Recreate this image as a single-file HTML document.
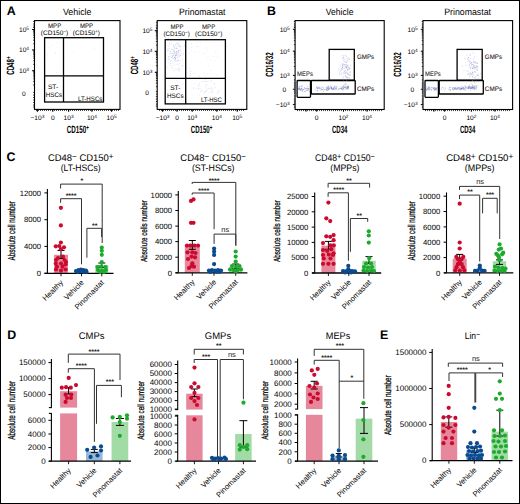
<!DOCTYPE html>
<html><head><meta charset="utf-8"><style>
html,body{margin:0;padding:0;background:#fff;}
body{width:520px;height:504px;overflow:hidden;position:relative;}
svg{position:absolute;left:0;top:0;font-family:"Liberation Sans", sans-serif;}
</style></head><body>
<svg width="520" height="504" viewBox="0 0 520 504" text-rendering="geometricPrecision">
<rect x="0" y="0" width="520" height="504" fill="#fff"/>
<text x="6.8" y="14.7" font-size="12.4" text-anchor="start" font-weight="bold" fill="#000" >A</text>
<text x="267" y="14.8" font-size="12.4" text-anchor="start" font-weight="bold" fill="#000" >B</text>
<text x="6.4" y="160.6" font-size="12.4" text-anchor="start" font-weight="bold" fill="#000" >C</text>
<text x="7.2" y="339.3" font-size="12.4" text-anchor="start" font-weight="bold" fill="#000" >D</text>
<text x="380" y="339.3" font-size="12.4" text-anchor="start" font-weight="bold" fill="#000" >E</text>
<text x="77.2" y="15" font-size="9.2" text-anchor="middle" font-weight="normal" fill="#000" textLength="28.5" lengthAdjust="spacingAndGlyphs" >Vehicle</text>
<text x="202.2" y="15.3" font-size="9.2" text-anchor="middle" font-weight="normal" fill="#000" textLength="46.4" lengthAdjust="spacingAndGlyphs" >Prinomastat</text>
<text x="339.6" y="15" font-size="9.2" text-anchor="middle" font-weight="normal" fill="#000" textLength="27.6" lengthAdjust="spacingAndGlyphs" >Vehicle</text>
<text x="467.6" y="15.3" font-size="9.2" text-anchor="middle" font-weight="normal" fill="#000" textLength="46.9" lengthAdjust="spacingAndGlyphs" >Prinomastat</text>
<rect x="34.5" y="20.6" width="85.5" height="88.80000000000001" fill="none" stroke="#000" stroke-width="1.1" rx="0" />
<line x1="32.1" y1="29.5" x2="34.5" y2="29.5" stroke="#000" stroke-width="1.1" />
<text x="29.0" y="31.8" font-size="6.6" text-anchor="end" font-weight="normal" fill="#000" >10<tspan baseline-shift="42%" font-size="0.72em">5</tspan></text>
<line x1="32.1" y1="50.0" x2="34.5" y2="50.0" stroke="#000" stroke-width="1.1" />
<text x="29.0" y="52.3" font-size="6.6" text-anchor="end" font-weight="normal" fill="#000" >10<tspan baseline-shift="42%" font-size="0.72em">4</tspan></text>
<line x1="32.1" y1="70.7" x2="34.5" y2="70.7" stroke="#000" stroke-width="1.1" />
<text x="29.0" y="73.0" font-size="6.6" text-anchor="end" font-weight="normal" fill="#000" >10<tspan baseline-shift="42%" font-size="0.72em">3</tspan></text>
<text x="25.6" y="95.8" font-size="6.6" text-anchor="end" font-weight="normal" fill="#000" >0</text>
<line x1="33.2" y1="43.828885088888384" x2="34.5" y2="43.828885088888384" stroke="#000" stroke-width="0.8" />
<line x1="33.2" y1="40.219014278246924" x2="34.5" y2="40.219014278246924" stroke="#000" stroke-width="0.8" />
<line x1="33.2" y1="37.65777017777677" x2="34.5" y2="37.65777017777677" stroke="#000" stroke-width="0.8" />
<line x1="33.2" y1="35.671114911111616" x2="34.5" y2="35.671114911111616" stroke="#000" stroke-width="0.8" />
<line x1="33.2" y1="34.04789936713531" x2="34.5" y2="34.04789936713531" stroke="#000" stroke-width="0.8" />
<line x1="33.2" y1="32.67549017970774" x2="34.5" y2="32.67549017970774" stroke="#000" stroke-width="0.8" />
<line x1="33.2" y1="31.486655266665156" x2="34.5" y2="31.486655266665156" stroke="#000" stroke-width="0.8" />
<line x1="33.2" y1="30.43802855649384" x2="34.5" y2="30.43802855649384" stroke="#000" stroke-width="0.8" />
<line x1="33.2" y1="64.32888508888838" x2="34.5" y2="64.32888508888838" stroke="#000" stroke-width="0.8" />
<line x1="33.2" y1="60.719014278246924" x2="34.5" y2="60.719014278246924" stroke="#000" stroke-width="0.8" />
<line x1="33.2" y1="58.15777017777677" x2="34.5" y2="58.15777017777677" stroke="#000" stroke-width="0.8" />
<line x1="33.2" y1="56.171114911111616" x2="34.5" y2="56.171114911111616" stroke="#000" stroke-width="0.8" />
<line x1="33.2" y1="54.54789936713531" x2="34.5" y2="54.54789936713531" stroke="#000" stroke-width="0.8" />
<line x1="33.2" y1="53.17549017970774" x2="34.5" y2="53.17549017970774" stroke="#000" stroke-width="0.8" />
<line x1="33.2" y1="51.98665526666516" x2="34.5" y2="51.98665526666516" stroke="#000" stroke-width="0.8" />
<line x1="33.2" y1="50.93802855649384" x2="34.5" y2="50.93802855649384" stroke="#000" stroke-width="0.8" />
<line x1="33.2" y1="85.02888508888839" x2="34.5" y2="85.02888508888839" stroke="#000" stroke-width="0.8" />
<line x1="33.2" y1="81.41901427824692" x2="34.5" y2="81.41901427824692" stroke="#000" stroke-width="0.8" />
<line x1="33.2" y1="78.85777017777677" x2="34.5" y2="78.85777017777677" stroke="#000" stroke-width="0.8" />
<line x1="33.2" y1="76.87111491111162" x2="34.5" y2="76.87111491111162" stroke="#000" stroke-width="0.8" />
<line x1="33.2" y1="75.2478993671353" x2="34.5" y2="75.2478993671353" stroke="#000" stroke-width="0.8" />
<line x1="33.2" y1="73.87549017970774" x2="34.5" y2="73.87549017970774" stroke="#000" stroke-width="0.8" />
<line x1="33.2" y1="72.68665526666516" x2="34.5" y2="72.68665526666516" stroke="#000" stroke-width="0.8" />
<line x1="33.2" y1="71.63802855649384" x2="34.5" y2="71.63802855649384" stroke="#000" stroke-width="0.8" />
<line x1="33.2" y1="21.5" x2="34.5" y2="21.5" stroke="#000" stroke-width="0.8" />
<line x1="33.2" y1="24.0" x2="34.5" y2="24.0" stroke="#000" stroke-width="0.8" />
<line x1="33.2" y1="26.0" x2="34.5" y2="26.0" stroke="#000" stroke-width="0.8" />
<line x1="33.2" y1="27.5" x2="34.5" y2="27.5" stroke="#000" stroke-width="0.8" />
<line x1="33.2" y1="92.5" x2="34.5" y2="92.5" stroke="#000" stroke-width="0.8" />
<line x1="33.2" y1="95.0" x2="34.5" y2="95.0" stroke="#000" stroke-width="0.8" />
<line x1="33.2" y1="97.5" x2="34.5" y2="97.5" stroke="#000" stroke-width="0.8" />
<line x1="33.2" y1="100.0" x2="34.5" y2="100.0" stroke="#000" stroke-width="0.8" />
<line x1="33.2" y1="102.5" x2="34.5" y2="102.5" stroke="#000" stroke-width="0.8" />
<line x1="33.2" y1="105.0" x2="34.5" y2="105.0" stroke="#000" stroke-width="0.8" />
<line x1="33.2" y1="107.0" x2="34.5" y2="107.0" stroke="#000" stroke-width="0.8" />
<line x1="37.4" y1="109.4" x2="37.4" y2="111.80000000000001" stroke="#000" stroke-width="1.1" />
<text x="37.4" y="119.5" font-size="6.6" text-anchor="middle" font-weight="normal" fill="#000" >−10<tspan baseline-shift="42%" font-size="0.72em">3</tspan></text>
<line x1="52.8" y1="109.4" x2="52.8" y2="111.80000000000001" stroke="#000" stroke-width="1.1" />
<text x="52.8" y="119.5" font-size="6.6" text-anchor="middle" font-weight="normal" fill="#000" >0</text>
<line x1="68.6" y1="109.4" x2="68.6" y2="111.80000000000001" stroke="#000" stroke-width="1.1" />
<text x="68.6" y="119.5" font-size="6.6" text-anchor="middle" font-weight="normal" fill="#000" >10<tspan baseline-shift="42%" font-size="0.72em">3</tspan></text>
<line x1="91.9" y1="109.4" x2="91.9" y2="111.80000000000001" stroke="#000" stroke-width="1.1" />
<text x="91.9" y="119.5" font-size="6.6" text-anchor="middle" font-weight="normal" fill="#000" >10<tspan baseline-shift="42%" font-size="0.72em">4</tspan></text>
<line x1="111.6" y1="109.4" x2="111.6" y2="111.80000000000001" stroke="#000" stroke-width="1.1" />
<text x="111.6" y="119.5" font-size="6.6" text-anchor="middle" font-weight="normal" fill="#000" >10<tspan baseline-shift="42%" font-size="0.72em">5</tspan></text>
<line x1="36.5" y1="109.4" x2="36.5" y2="111.0" stroke="#000" stroke-width="0.7" />
<line x1="38.5" y1="109.4" x2="38.5" y2="111.0" stroke="#000" stroke-width="0.7" />
<line x1="40.5" y1="109.4" x2="40.5" y2="111.0" stroke="#000" stroke-width="0.7" />
<line x1="42.5" y1="109.4" x2="42.5" y2="111.0" stroke="#000" stroke-width="0.7" />
<line x1="44.5" y1="109.4" x2="44.5" y2="111.0" stroke="#000" stroke-width="0.7" />
<line x1="46.5" y1="109.4" x2="46.5" y2="111.0" stroke="#000" stroke-width="0.7" />
<line x1="48.5" y1="109.4" x2="48.5" y2="111.0" stroke="#000" stroke-width="0.7" />
<line x1="50.5" y1="109.4" x2="50.5" y2="111.0" stroke="#000" stroke-width="0.7" />
<line x1="52.5" y1="109.4" x2="52.5" y2="111.0" stroke="#000" stroke-width="0.7" />
<line x1="54.5" y1="109.4" x2="54.5" y2="111.0" stroke="#000" stroke-width="0.7" />
<line x1="56.5" y1="109.4" x2="56.5" y2="111.0" stroke="#000" stroke-width="0.7" />
<line x1="58.5" y1="109.4" x2="58.5" y2="111.0" stroke="#000" stroke-width="0.7" />
<line x1="60.5" y1="109.4" x2="60.5" y2="111.0" stroke="#000" stroke-width="0.7" />
<line x1="62.5" y1="109.4" x2="62.5" y2="111.0" stroke="#000" stroke-width="0.7" />
<line x1="64.5" y1="109.4" x2="64.5" y2="111.0" stroke="#000" stroke-width="0.7" />
<line x1="66.5" y1="109.4" x2="66.5" y2="111.0" stroke="#000" stroke-width="0.7" />
<line x1="68.5" y1="109.4" x2="68.5" y2="111.0" stroke="#000" stroke-width="0.7" />
<line x1="70.5" y1="109.4" x2="70.5" y2="111.0" stroke="#000" stroke-width="0.7" />
<line x1="72.5" y1="109.4" x2="72.5" y2="111.0" stroke="#000" stroke-width="0.7" />
<line x1="74.5" y1="109.4" x2="74.5" y2="111.0" stroke="#000" stroke-width="0.7" />
<line x1="76.5" y1="109.4" x2="76.5" y2="111.0" stroke="#000" stroke-width="0.7" />
<line x1="78.5" y1="109.4" x2="78.5" y2="111.0" stroke="#000" stroke-width="0.7" />
<line x1="80.5" y1="109.4" x2="80.5" y2="111.0" stroke="#000" stroke-width="0.7" />
<line x1="82.5" y1="109.4" x2="82.5" y2="111.0" stroke="#000" stroke-width="0.7" />
<line x1="84.5" y1="109.4" x2="84.5" y2="111.0" stroke="#000" stroke-width="0.7" />
<line x1="86.5" y1="109.4" x2="86.5" y2="111.0" stroke="#000" stroke-width="0.7" />
<line x1="88.5" y1="109.4" x2="88.5" y2="111.0" stroke="#000" stroke-width="0.7" />
<line x1="90.5" y1="109.4" x2="90.5" y2="111.0" stroke="#000" stroke-width="0.7" />
<line x1="92.5" y1="109.4" x2="92.5" y2="111.0" stroke="#000" stroke-width="0.7" />
<line x1="94.5" y1="109.4" x2="94.5" y2="111.0" stroke="#000" stroke-width="0.7" />
<line x1="96.5" y1="109.4" x2="96.5" y2="111.0" stroke="#000" stroke-width="0.7" />
<line x1="98.5" y1="109.4" x2="98.5" y2="111.0" stroke="#000" stroke-width="0.7" />
<line x1="100.5" y1="109.4" x2="100.5" y2="111.0" stroke="#000" stroke-width="0.7" />
<line x1="102.5" y1="109.4" x2="102.5" y2="111.0" stroke="#000" stroke-width="0.7" />
<line x1="104.5" y1="109.4" x2="104.5" y2="111.0" stroke="#000" stroke-width="0.7" />
<line x1="106.5" y1="109.4" x2="106.5" y2="111.0" stroke="#000" stroke-width="0.7" />
<line x1="108.5" y1="109.4" x2="108.5" y2="111.0" stroke="#000" stroke-width="0.7" />
<line x1="110.5" y1="109.4" x2="110.5" y2="111.0" stroke="#000" stroke-width="0.7" />
<line x1="112.5" y1="109.4" x2="112.5" y2="111.0" stroke="#000" stroke-width="0.7" />
<line x1="114.5" y1="109.4" x2="114.5" y2="111.0" stroke="#000" stroke-width="0.7" />
<line x1="116.5" y1="109.4" x2="116.5" y2="111.0" stroke="#000" stroke-width="0.7" />
<line x1="118.5" y1="109.4" x2="118.5" y2="111.0" stroke="#000" stroke-width="0.7" />
<rect x="44.6" y="37.7" width="58.9" height="64.3" fill="none" stroke="#000" stroke-width="1.3" rx="0" />
<line x1="63.5" y1="37.7" x2="63.5" y2="102" stroke="#000" stroke-width="1.3" />
<line x1="44.6" y1="75.8" x2="103.5" y2="75.8" stroke="#000" stroke-width="1.3" />
<text x="54.6" y="27.6" font-size="6.6" text-anchor="middle" font-weight="normal" fill="#000" textLength="13.2" lengthAdjust="spacingAndGlyphs" >MPP</text>
<text x="54.5" y="34.6" font-size="6.6" text-anchor="middle" font-weight="normal" fill="#000" textLength="27.4" lengthAdjust="spacingAndGlyphs" >(CD150<tspan baseline-shift="42%" font-size="0.72em">−</tspan>)</text>
<text x="86.5" y="27.6" font-size="6.6" text-anchor="middle" font-weight="normal" fill="#000" textLength="13.2" lengthAdjust="spacingAndGlyphs" >MPP</text>
<text x="86.4" y="34.6" font-size="6.6" text-anchor="middle" font-weight="normal" fill="#000" textLength="27.1" lengthAdjust="spacingAndGlyphs" >(CD150<tspan baseline-shift="42%" font-size="0.72em">+</tspan>)</text>
<text x="53.1" y="89.3" font-size="6.6" text-anchor="middle" font-weight="normal" fill="#000" >ST-</text>
<text x="53.9" y="97.3" font-size="6.6" text-anchor="middle" font-weight="normal" fill="#000" textLength="16.4" lengthAdjust="spacingAndGlyphs" >HSCs</text>
<text x="90.2" y="101" font-size="6.6" text-anchor="middle" font-weight="normal" fill="#000" textLength="24.5" lengthAdjust="spacingAndGlyphs" >LT-HSCs</text>
<text x="77.8" y="132.5" font-size="10.5" text-anchor="middle" font-weight="bold" fill="#000" textLength="22" lengthAdjust="spacingAndGlyphs" >CD150<tspan baseline-shift="42%" font-size="0.72em">+</tspan></text>
<text x="13.9" y="65.6" font-size="10.5" text-anchor="middle" font-weight="bold" fill="#000" textLength="18.2" lengthAdjust="spacingAndGlyphs" transform="rotate(-90 13.9 65.6)" >CD48<tspan baseline-shift="42%" font-size="0.72em">+</tspan></text>
<rect x="157.2" y="20.6" width="89.60000000000002" height="88.80000000000001" fill="none" stroke="#000" stroke-width="1.1" rx="0" />
<line x1="154.79999999999998" y1="30.7" x2="157.2" y2="30.7" stroke="#000" stroke-width="1.1" />
<text x="152.4" y="33.0" font-size="6.6" text-anchor="end" font-weight="normal" fill="#000" >10<tspan baseline-shift="42%" font-size="0.72em">5</tspan></text>
<line x1="154.79999999999998" y1="51.3" x2="157.2" y2="51.3" stroke="#000" stroke-width="1.1" />
<text x="152.4" y="53.599999999999994" font-size="6.6" text-anchor="end" font-weight="normal" fill="#000" >10<tspan baseline-shift="42%" font-size="0.72em">4</tspan></text>
<line x1="154.79999999999998" y1="72.3" x2="157.2" y2="72.3" stroke="#000" stroke-width="1.1" />
<text x="152.4" y="74.6" font-size="6.6" text-anchor="end" font-weight="normal" fill="#000" >10<tspan baseline-shift="42%" font-size="0.72em">3</tspan></text>
<text x="149.0" y="94.89999999999999" font-size="6.6" text-anchor="end" font-weight="normal" fill="#000" >0</text>
<line x1="155.89999999999998" y1="45.098782089321986" x2="157.2" y2="45.098782089321986" stroke="#000" stroke-width="0.8" />
<line x1="155.89999999999998" y1="41.47130215277495" x2="157.2" y2="41.47130215277495" stroke="#000" stroke-width="0.8" />
<line x1="155.89999999999998" y1="38.897564178643975" x2="157.2" y2="38.897564178643975" stroke="#000" stroke-width="0.8" />
<line x1="155.89999999999998" y1="36.901217910678014" x2="157.2" y2="36.901217910678014" stroke="#000" stroke-width="0.8" />
<line x1="155.89999999999998" y1="35.27008424209694" x2="157.2" y2="35.27008424209694" stroke="#000" stroke-width="0.8" />
<line x1="155.89999999999998" y1="33.890980375706306" x2="157.2" y2="33.890980375706306" stroke="#000" stroke-width="0.8" />
<line x1="155.89999999999998" y1="32.696346267965964" x2="157.2" y2="32.696346267965964" stroke="#000" stroke-width="0.8" />
<line x1="155.89999999999998" y1="31.642604305549906" x2="157.2" y2="31.642604305549906" stroke="#000" stroke-width="0.8" />
<line x1="155.89999999999998" y1="65.69878208932198" x2="157.2" y2="65.69878208932198" stroke="#000" stroke-width="0.8" />
<line x1="155.89999999999998" y1="62.07130215277495" x2="157.2" y2="62.07130215277495" stroke="#000" stroke-width="0.8" />
<line x1="155.89999999999998" y1="59.49756417864397" x2="157.2" y2="59.49756417864397" stroke="#000" stroke-width="0.8" />
<line x1="155.89999999999998" y1="57.50121791067801" x2="157.2" y2="57.50121791067801" stroke="#000" stroke-width="0.8" />
<line x1="155.89999999999998" y1="55.87008424209694" x2="157.2" y2="55.87008424209694" stroke="#000" stroke-width="0.8" />
<line x1="155.89999999999998" y1="54.49098037570631" x2="157.2" y2="54.49098037570631" stroke="#000" stroke-width="0.8" />
<line x1="155.89999999999998" y1="53.29634626796596" x2="157.2" y2="53.29634626796596" stroke="#000" stroke-width="0.8" />
<line x1="155.89999999999998" y1="52.242604305549904" x2="157.2" y2="52.242604305549904" stroke="#000" stroke-width="0.8" />
<line x1="155.89999999999998" y1="86.69878208932198" x2="157.2" y2="86.69878208932198" stroke="#000" stroke-width="0.8" />
<line x1="155.89999999999998" y1="83.07130215277495" x2="157.2" y2="83.07130215277495" stroke="#000" stroke-width="0.8" />
<line x1="155.89999999999998" y1="80.49756417864397" x2="157.2" y2="80.49756417864397" stroke="#000" stroke-width="0.8" />
<line x1="155.89999999999998" y1="78.50121791067801" x2="157.2" y2="78.50121791067801" stroke="#000" stroke-width="0.8" />
<line x1="155.89999999999998" y1="76.87008424209694" x2="157.2" y2="76.87008424209694" stroke="#000" stroke-width="0.8" />
<line x1="155.89999999999998" y1="75.4909803757063" x2="157.2" y2="75.4909803757063" stroke="#000" stroke-width="0.8" />
<line x1="155.89999999999998" y1="74.29634626796596" x2="157.2" y2="74.29634626796596" stroke="#000" stroke-width="0.8" />
<line x1="155.89999999999998" y1="73.2426043055499" x2="157.2" y2="73.2426043055499" stroke="#000" stroke-width="0.8" />
<line x1="155.89999999999998" y1="22.7" x2="157.2" y2="22.7" stroke="#000" stroke-width="0.8" />
<line x1="155.89999999999998" y1="25.2" x2="157.2" y2="25.2" stroke="#000" stroke-width="0.8" />
<line x1="155.89999999999998" y1="27.2" x2="157.2" y2="27.2" stroke="#000" stroke-width="0.8" />
<line x1="155.89999999999998" y1="28.7" x2="157.2" y2="28.7" stroke="#000" stroke-width="0.8" />
<line x1="155.89999999999998" y1="91.6" x2="157.2" y2="91.6" stroke="#000" stroke-width="0.8" />
<line x1="155.89999999999998" y1="94.1" x2="157.2" y2="94.1" stroke="#000" stroke-width="0.8" />
<line x1="155.89999999999998" y1="96.6" x2="157.2" y2="96.6" stroke="#000" stroke-width="0.8" />
<line x1="155.89999999999998" y1="99.1" x2="157.2" y2="99.1" stroke="#000" stroke-width="0.8" />
<line x1="155.89999999999998" y1="101.6" x2="157.2" y2="101.6" stroke="#000" stroke-width="0.8" />
<line x1="155.89999999999998" y1="104.1" x2="157.2" y2="104.1" stroke="#000" stroke-width="0.8" />
<line x1="155.89999999999998" y1="106.1" x2="157.2" y2="106.1" stroke="#000" stroke-width="0.8" />
<line x1="162.6" y1="109.4" x2="162.6" y2="111.80000000000001" stroke="#000" stroke-width="1.1" />
<text x="162.6" y="119.5" font-size="6.6" text-anchor="middle" font-weight="normal" fill="#000" >−10<tspan baseline-shift="42%" font-size="0.72em">3</tspan></text>
<line x1="177.0" y1="109.4" x2="177.0" y2="111.80000000000001" stroke="#000" stroke-width="1.1" />
<text x="177.0" y="119.5" font-size="6.6" text-anchor="middle" font-weight="normal" fill="#000" >0</text>
<line x1="192.2" y1="109.4" x2="192.2" y2="111.80000000000001" stroke="#000" stroke-width="1.1" />
<text x="192.2" y="119.5" font-size="6.6" text-anchor="middle" font-weight="normal" fill="#000" >10<tspan baseline-shift="42%" font-size="0.72em">3</tspan></text>
<line x1="216.8" y1="109.4" x2="216.8" y2="111.80000000000001" stroke="#000" stroke-width="1.1" />
<text x="216.8" y="119.5" font-size="6.6" text-anchor="middle" font-weight="normal" fill="#000" >10<tspan baseline-shift="42%" font-size="0.72em">4</tspan></text>
<line x1="237.2" y1="109.4" x2="237.2" y2="111.80000000000001" stroke="#000" stroke-width="1.1" />
<text x="237.2" y="119.5" font-size="6.6" text-anchor="middle" font-weight="normal" fill="#000" >10<tspan baseline-shift="42%" font-size="0.72em">5</tspan></text>
<line x1="159.5" y1="109.4" x2="159.5" y2="111.0" stroke="#000" stroke-width="0.7" />
<line x1="161.5" y1="109.4" x2="161.5" y2="111.0" stroke="#000" stroke-width="0.7" />
<line x1="163.5" y1="109.4" x2="163.5" y2="111.0" stroke="#000" stroke-width="0.7" />
<line x1="165.5" y1="109.4" x2="165.5" y2="111.0" stroke="#000" stroke-width="0.7" />
<line x1="167.5" y1="109.4" x2="167.5" y2="111.0" stroke="#000" stroke-width="0.7" />
<line x1="169.5" y1="109.4" x2="169.5" y2="111.0" stroke="#000" stroke-width="0.7" />
<line x1="171.5" y1="109.4" x2="171.5" y2="111.0" stroke="#000" stroke-width="0.7" />
<line x1="173.5" y1="109.4" x2="173.5" y2="111.0" stroke="#000" stroke-width="0.7" />
<line x1="175.5" y1="109.4" x2="175.5" y2="111.0" stroke="#000" stroke-width="0.7" />
<line x1="177.5" y1="109.4" x2="177.5" y2="111.0" stroke="#000" stroke-width="0.7" />
<line x1="179.5" y1="109.4" x2="179.5" y2="111.0" stroke="#000" stroke-width="0.7" />
<line x1="181.5" y1="109.4" x2="181.5" y2="111.0" stroke="#000" stroke-width="0.7" />
<line x1="183.5" y1="109.4" x2="183.5" y2="111.0" stroke="#000" stroke-width="0.7" />
<line x1="185.5" y1="109.4" x2="185.5" y2="111.0" stroke="#000" stroke-width="0.7" />
<line x1="187.5" y1="109.4" x2="187.5" y2="111.0" stroke="#000" stroke-width="0.7" />
<line x1="189.5" y1="109.4" x2="189.5" y2="111.0" stroke="#000" stroke-width="0.7" />
<line x1="191.5" y1="109.4" x2="191.5" y2="111.0" stroke="#000" stroke-width="0.7" />
<line x1="193.5" y1="109.4" x2="193.5" y2="111.0" stroke="#000" stroke-width="0.7" />
<line x1="195.5" y1="109.4" x2="195.5" y2="111.0" stroke="#000" stroke-width="0.7" />
<line x1="197.5" y1="109.4" x2="197.5" y2="111.0" stroke="#000" stroke-width="0.7" />
<line x1="199.5" y1="109.4" x2="199.5" y2="111.0" stroke="#000" stroke-width="0.7" />
<line x1="201.5" y1="109.4" x2="201.5" y2="111.0" stroke="#000" stroke-width="0.7" />
<line x1="203.5" y1="109.4" x2="203.5" y2="111.0" stroke="#000" stroke-width="0.7" />
<line x1="205.5" y1="109.4" x2="205.5" y2="111.0" stroke="#000" stroke-width="0.7" />
<line x1="207.5" y1="109.4" x2="207.5" y2="111.0" stroke="#000" stroke-width="0.7" />
<line x1="209.5" y1="109.4" x2="209.5" y2="111.0" stroke="#000" stroke-width="0.7" />
<line x1="211.5" y1="109.4" x2="211.5" y2="111.0" stroke="#000" stroke-width="0.7" />
<line x1="213.5" y1="109.4" x2="213.5" y2="111.0" stroke="#000" stroke-width="0.7" />
<line x1="215.5" y1="109.4" x2="215.5" y2="111.0" stroke="#000" stroke-width="0.7" />
<line x1="217.5" y1="109.4" x2="217.5" y2="111.0" stroke="#000" stroke-width="0.7" />
<line x1="219.5" y1="109.4" x2="219.5" y2="111.0" stroke="#000" stroke-width="0.7" />
<line x1="221.5" y1="109.4" x2="221.5" y2="111.0" stroke="#000" stroke-width="0.7" />
<line x1="223.5" y1="109.4" x2="223.5" y2="111.0" stroke="#000" stroke-width="0.7" />
<line x1="225.5" y1="109.4" x2="225.5" y2="111.0" stroke="#000" stroke-width="0.7" />
<line x1="227.5" y1="109.4" x2="227.5" y2="111.0" stroke="#000" stroke-width="0.7" />
<line x1="229.5" y1="109.4" x2="229.5" y2="111.0" stroke="#000" stroke-width="0.7" />
<line x1="231.5" y1="109.4" x2="231.5" y2="111.0" stroke="#000" stroke-width="0.7" />
<line x1="233.5" y1="109.4" x2="233.5" y2="111.0" stroke="#000" stroke-width="0.7" />
<line x1="235.5" y1="109.4" x2="235.5" y2="111.0" stroke="#000" stroke-width="0.7" />
<line x1="237.5" y1="109.4" x2="237.5" y2="111.0" stroke="#000" stroke-width="0.7" />
<line x1="239.5" y1="109.4" x2="239.5" y2="111.0" stroke="#000" stroke-width="0.7" />
<line x1="241.5" y1="109.4" x2="241.5" y2="111.0" stroke="#000" stroke-width="0.7" />
<line x1="243.5" y1="109.4" x2="243.5" y2="111.0" stroke="#000" stroke-width="0.7" />
<rect x="165.2" y="39.7" width="60.2" height="64.2" fill="none" stroke="#000" stroke-width="1.3" rx="0" />
<line x1="185.7" y1="39.7" x2="185.7" y2="103.9" stroke="#000" stroke-width="1.3" />
<line x1="165.2" y1="78.4" x2="225.4" y2="78.4" stroke="#000" stroke-width="1.3" />
<text x="177.0" y="29.0" font-size="6.6" text-anchor="middle" font-weight="normal" fill="#000" textLength="13.2" lengthAdjust="spacingAndGlyphs" >MPP</text>
<text x="176.6" y="35.6" font-size="6.6" text-anchor="middle" font-weight="normal" fill="#000" textLength="26.4" lengthAdjust="spacingAndGlyphs" >(CD150<tspan baseline-shift="42%" font-size="0.72em">−</tspan>)</text>
<text x="208.6" y="29.0" font-size="6.6" text-anchor="middle" font-weight="normal" fill="#000" textLength="13.2" lengthAdjust="spacingAndGlyphs" >MPP</text>
<text x="208.7" y="35.6" font-size="6.6" text-anchor="middle" font-weight="normal" fill="#000" textLength="27.4" lengthAdjust="spacingAndGlyphs" >(CD150<tspan baseline-shift="42%" font-size="0.72em">+</tspan>)</text>
<text x="175.3" y="90" font-size="6.6" text-anchor="middle" font-weight="normal" fill="#000" >ST-</text>
<text x="175.3" y="97.7" font-size="6.6" text-anchor="middle" font-weight="normal" fill="#000" textLength="16.5" lengthAdjust="spacingAndGlyphs" >HSCs</text>
<text x="211.4" y="101.5" font-size="6.6" text-anchor="middle" font-weight="normal" fill="#000" textLength="21" lengthAdjust="spacingAndGlyphs" >LT-HSC</text>
<text x="201.5" y="132.5" font-size="10.5" text-anchor="middle" font-weight="bold" fill="#000" textLength="21.5" lengthAdjust="spacingAndGlyphs" >CD150<tspan baseline-shift="42%" font-size="0.72em">+</tspan></text>
<text x="137.8" y="65.3" font-size="10.5" text-anchor="middle" font-weight="bold" fill="#000" textLength="18" lengthAdjust="spacingAndGlyphs" transform="rotate(-90 137.8 65.3)" >CD48<tspan baseline-shift="42%" font-size="0.72em">+</tspan></text>
<circle cx="51.9" cy="45.1" r="0.45" fill="#8a8fd0" opacity="0.35"/>
<circle cx="56.8" cy="42.5" r="0.45" fill="#8a8fd0" opacity="0.35"/>
<circle cx="55.0" cy="52.4" r="0.45" fill="#8a8fd0" opacity="0.35"/>
<circle cx="47.9" cy="57.3" r="0.45" fill="#8a8fd0" opacity="0.35"/>
<circle cx="47.6" cy="54.7" r="0.45" fill="#8a8fd0" opacity="0.35"/>
<circle cx="48.0" cy="43.1" r="0.45" fill="#8a8fd0" opacity="0.35"/>
<circle cx="53.4" cy="68.1" r="0.45" fill="#8a8fd0" opacity="0.35"/>
<circle cx="48.9" cy="47.6" r="0.45" fill="#8a8fd0" opacity="0.35"/>
<circle cx="56.4" cy="72.2" r="0.45" fill="#8a8fd0" opacity="0.35"/>
<circle cx="55.7" cy="53.5" r="0.45" fill="#8a8fd0" opacity="0.35"/>
<circle cx="116.8" cy="47.6" r="0.45" fill="#8a8fd0" opacity="0.3"/>
<circle cx="110.6" cy="60.9" r="0.45" fill="#8a8fd0" opacity="0.3"/>
<circle cx="73.5" cy="51.5" r="0.45" fill="#8a8fd0" opacity="0.3"/>
<circle cx="82.0" cy="89.9" r="0.45" fill="#8a8fd0" opacity="0.3"/>
<circle cx="75.4" cy="77.0" r="0.45" fill="#8a8fd0" opacity="0.3"/>
<circle cx="99.2" cy="65.5" r="0.45" fill="#8a8fd0" opacity="0.3"/>
<circle cx="94.5" cy="48.5" r="0.45" fill="#8a8fd0" opacity="0.3"/>
<circle cx="69.1" cy="56.3" r="0.45" fill="#8a8fd0" opacity="0.3"/>
<circle cx="173.4" cy="46.7" r="0.45" fill="#7a82c8" opacity="0.55"/>
<circle cx="173.2" cy="58.7" r="0.45" fill="#7a82c8" opacity="0.55"/>
<circle cx="172.2" cy="53.3" r="0.45" fill="#7a82c8" opacity="0.55"/>
<circle cx="176.5" cy="43.8" r="0.45" fill="#7a82c8" opacity="0.55"/>
<circle cx="175.2" cy="59.2" r="0.45" fill="#7a82c8" opacity="0.55"/>
<circle cx="167.9" cy="50.2" r="0.45" fill="#7a82c8" opacity="0.55"/>
<circle cx="174.6" cy="47.5" r="0.45" fill="#7a82c8" opacity="0.55"/>
<circle cx="176.7" cy="51.7" r="0.45" fill="#7a82c8" opacity="0.55"/>
<circle cx="169.9" cy="56.6" r="0.45" fill="#7a82c8" opacity="0.55"/>
<circle cx="177.3" cy="57.2" r="0.45" fill="#7a82c8" opacity="0.55"/>
<circle cx="180.0" cy="54.0" r="0.45" fill="#7a82c8" opacity="0.55"/>
<circle cx="175.4" cy="44.9" r="0.45" fill="#7a82c8" opacity="0.55"/>
<circle cx="177.2" cy="48.6" r="0.45" fill="#7a82c8" opacity="0.55"/>
<circle cx="173.4" cy="45.0" r="0.45" fill="#7a82c8" opacity="0.55"/>
<circle cx="171.6" cy="49.1" r="0.45" fill="#7a82c8" opacity="0.55"/>
<circle cx="179.5" cy="40.8" r="0.45" fill="#7a82c8" opacity="0.55"/>
<circle cx="169.9" cy="53.3" r="0.45" fill="#7a82c8" opacity="0.55"/>
<circle cx="180.1" cy="55.2" r="0.45" fill="#7a82c8" opacity="0.55"/>
<circle cx="168.4" cy="38.1" r="0.45" fill="#7a82c8" opacity="0.55"/>
<circle cx="176.3" cy="48.0" r="0.45" fill="#7a82c8" opacity="0.55"/>
<circle cx="171.1" cy="57.4" r="0.45" fill="#7a82c8" opacity="0.55"/>
<circle cx="178.9" cy="52.9" r="0.45" fill="#7a82c8" opacity="0.55"/>
<circle cx="175.9" cy="54.4" r="0.45" fill="#7a82c8" opacity="0.55"/>
<circle cx="180.6" cy="55.4" r="0.45" fill="#7a82c8" opacity="0.55"/>
<circle cx="176.8" cy="55.0" r="0.45" fill="#7a82c8" opacity="0.55"/>
<circle cx="169.5" cy="59.0" r="0.45" fill="#7a82c8" opacity="0.55"/>
<circle cx="178.3" cy="54.9" r="0.45" fill="#7a82c8" opacity="0.55"/>
<circle cx="168.1" cy="48.5" r="0.45" fill="#7a82c8" opacity="0.55"/>
<circle cx="177.9" cy="42.0" r="0.45" fill="#7a82c8" opacity="0.55"/>
<circle cx="174.4" cy="57.6" r="0.45" fill="#7a82c8" opacity="0.55"/>
<circle cx="170.4" cy="60.9" r="0.45" fill="#7a82c8" opacity="0.55"/>
<circle cx="176.9" cy="51.2" r="0.45" fill="#7a82c8" opacity="0.55"/>
<circle cx="176.1" cy="55.6" r="0.45" fill="#7a82c8" opacity="0.55"/>
<circle cx="175.4" cy="58.3" r="0.45" fill="#7a82c8" opacity="0.55"/>
<circle cx="172.7" cy="49.7" r="0.45" fill="#7a82c8" opacity="0.55"/>
<circle cx="178.6" cy="52.1" r="0.45" fill="#7a82c8" opacity="0.55"/>
<circle cx="171.9" cy="57.2" r="0.45" fill="#7a82c8" opacity="0.55"/>
<circle cx="180.1" cy="49.6" r="0.45" fill="#7a82c8" opacity="0.55"/>
<circle cx="170.2" cy="51.3" r="0.45" fill="#7a82c8" opacity="0.55"/>
<circle cx="174.5" cy="50.4" r="0.45" fill="#7a82c8" opacity="0.55"/>
<circle cx="179.9" cy="46.4" r="0.45" fill="#7a82c8" opacity="0.55"/>
<circle cx="179.4" cy="45.0" r="0.45" fill="#7a82c8" opacity="0.55"/>
<circle cx="172.2" cy="55.5" r="0.45" fill="#7a82c8" opacity="0.55"/>
<circle cx="179.0" cy="56.7" r="0.45" fill="#7a82c8" opacity="0.55"/>
<circle cx="176.2" cy="52.8" r="0.45" fill="#7a82c8" opacity="0.55"/>
<circle cx="175.5" cy="55.2" r="0.45" fill="#7a82c8" opacity="0.55"/>
<circle cx="174.4" cy="53.5" r="0.45" fill="#7a82c8" opacity="0.55"/>
<circle cx="177.0" cy="52.0" r="0.45" fill="#7a82c8" opacity="0.55"/>
<circle cx="177.7" cy="55.1" r="0.45" fill="#7a82c8" opacity="0.55"/>
<circle cx="182.0" cy="53.8" r="0.45" fill="#7a82c8" opacity="0.55"/>
<circle cx="173.5" cy="50.0" r="0.45" fill="#7a82c8" opacity="0.55"/>
<circle cx="175.0" cy="57.1" r="0.45" fill="#7a82c8" opacity="0.55"/>
<circle cx="173.8" cy="54.1" r="0.45" fill="#7a82c8" opacity="0.55"/>
<circle cx="181.4" cy="37.9" r="0.45" fill="#7a82c8" opacity="0.55"/>
<circle cx="171.1" cy="53.3" r="0.45" fill="#7a82c8" opacity="0.55"/>
<circle cx="176.4" cy="53.3" r="0.45" fill="#7a82c8" opacity="0.55"/>
<circle cx="173.5" cy="55.6" r="0.45" fill="#7a82c8" opacity="0.55"/>
<circle cx="176.0" cy="49.1" r="0.45" fill="#7a82c8" opacity="0.55"/>
<circle cx="183.5" cy="54.0" r="0.45" fill="#7a82c8" opacity="0.55"/>
<circle cx="173.1" cy="51.5" r="0.45" fill="#7a82c8" opacity="0.55"/>
<circle cx="174.2" cy="51.7" r="0.45" fill="#7a82c8" opacity="0.55"/>
<circle cx="165.5" cy="49.3" r="0.45" fill="#7a82c8" opacity="0.55"/>
<circle cx="178.5" cy="45.6" r="0.45" fill="#7a82c8" opacity="0.55"/>
<circle cx="174.8" cy="57.2" r="0.45" fill="#7a82c8" opacity="0.55"/>
<circle cx="178.0" cy="60.2" r="0.45" fill="#7a82c8" opacity="0.55"/>
<circle cx="169.0" cy="50.1" r="0.45" fill="#7a82c8" opacity="0.55"/>
<circle cx="173.8" cy="55.4" r="0.45" fill="#7a82c8" opacity="0.55"/>
<circle cx="178.8" cy="37.2" r="0.45" fill="#7a82c8" opacity="0.55"/>
<circle cx="178.8" cy="44.0" r="0.45" fill="#7a82c8" opacity="0.55"/>
<circle cx="177.4" cy="43.8" r="0.45" fill="#7a82c8" opacity="0.55"/>
<circle cx="175.6" cy="58.6" r="0.45" fill="#7a82c8" opacity="0.55"/>
<circle cx="174.5" cy="53.1" r="0.45" fill="#7a82c8" opacity="0.55"/>
<circle cx="177.8" cy="52.8" r="0.45" fill="#7a82c8" opacity="0.55"/>
<circle cx="174.7" cy="60.4" r="0.45" fill="#7a82c8" opacity="0.55"/>
<circle cx="178.7" cy="50.4" r="0.45" fill="#7a82c8" opacity="0.55"/>
<circle cx="184.6" cy="45.7" r="0.45" fill="#7a82c8" opacity="0.55"/>
<circle cx="178.2" cy="50.5" r="0.45" fill="#7a82c8" opacity="0.55"/>
<circle cx="175.5" cy="55.9" r="0.45" fill="#7a82c8" opacity="0.55"/>
<circle cx="175.8" cy="55.5" r="0.45" fill="#7a82c8" opacity="0.55"/>
<circle cx="169.7" cy="43.7" r="0.45" fill="#7a82c8" opacity="0.55"/>
<circle cx="177.2" cy="46.7" r="0.45" fill="#7a82c8" opacity="0.55"/>
<circle cx="171.4" cy="43.9" r="0.45" fill="#7a82c8" opacity="0.55"/>
<circle cx="179.4" cy="56.1" r="0.45" fill="#7a82c8" opacity="0.55"/>
<circle cx="180.2" cy="46.8" r="0.45" fill="#7a82c8" opacity="0.55"/>
<circle cx="175.0" cy="45.7" r="0.45" fill="#7a82c8" opacity="0.55"/>
<circle cx="177.7" cy="60.7" r="0.45" fill="#7a82c8" opacity="0.55"/>
<circle cx="171.9" cy="60.6" r="0.45" fill="#7a82c8" opacity="0.55"/>
<circle cx="178.5" cy="51.0" r="0.45" fill="#7a82c8" opacity="0.55"/>
<circle cx="168.1" cy="59.7" r="0.45" fill="#7a82c8" opacity="0.55"/>
<circle cx="174.7" cy="48.7" r="0.45" fill="#7a82c8" opacity="0.55"/>
<circle cx="176.4" cy="54.3" r="0.45" fill="#7a82c8" opacity="0.55"/>
<circle cx="180.2" cy="46.4" r="0.45" fill="#7a82c8" opacity="0.55"/>
<circle cx="179.0" cy="60.2" r="0.45" fill="#7a82c8" opacity="0.55"/>
<circle cx="180.1" cy="51.0" r="0.45" fill="#7a82c8" opacity="0.55"/>
<circle cx="172.4" cy="57.6" r="0.45" fill="#7a82c8" opacity="0.55"/>
<circle cx="175.4" cy="52.7" r="0.45" fill="#7a82c8" opacity="0.55"/>
<circle cx="180.0" cy="50.6" r="0.45" fill="#7a82c8" opacity="0.55"/>
<circle cx="167.0" cy="49.9" r="0.45" fill="#7a82c8" opacity="0.55"/>
<circle cx="168.5" cy="56.5" r="0.45" fill="#7a82c8" opacity="0.55"/>
<circle cx="176.1" cy="48.6" r="0.45" fill="#7a82c8" opacity="0.55"/>
<circle cx="175.0" cy="56.6" r="0.45" fill="#7a82c8" opacity="0.55"/>
<circle cx="175.3" cy="59.3" r="0.45" fill="#7a82c8" opacity="0.55"/>
<circle cx="174.8" cy="57.7" r="0.45" fill="#7a82c8" opacity="0.55"/>
<circle cx="180.2" cy="60.9" r="0.45" fill="#7a82c8" opacity="0.55"/>
<circle cx="172.6" cy="56.8" r="0.45" fill="#7a82c8" opacity="0.55"/>
<circle cx="168.4" cy="46.0" r="0.45" fill="#7a82c8" opacity="0.55"/>
<circle cx="168.1" cy="57.9" r="0.45" fill="#7a82c8" opacity="0.55"/>
<circle cx="170.7" cy="51.9" r="0.45" fill="#7a82c8" opacity="0.55"/>
<circle cx="174.3" cy="51.8" r="0.45" fill="#7a82c8" opacity="0.55"/>
<circle cx="172.9" cy="53.3" r="0.45" fill="#7a82c8" opacity="0.55"/>
<circle cx="182.3" cy="66.2" r="0.45" fill="#8a8fd0" opacity="0.45"/>
<circle cx="177.9" cy="70.0" r="0.45" fill="#8a8fd0" opacity="0.45"/>
<circle cx="175.3" cy="61.0" r="0.45" fill="#8a8fd0" opacity="0.45"/>
<circle cx="174.1" cy="70.3" r="0.45" fill="#8a8fd0" opacity="0.45"/>
<circle cx="170.2" cy="63.6" r="0.45" fill="#8a8fd0" opacity="0.45"/>
<circle cx="179.5" cy="69.2" r="0.45" fill="#8a8fd0" opacity="0.45"/>
<circle cx="176.0" cy="69.2" r="0.45" fill="#8a8fd0" opacity="0.45"/>
<circle cx="176.6" cy="61.3" r="0.45" fill="#8a8fd0" opacity="0.45"/>
<circle cx="170.5" cy="63.4" r="0.45" fill="#8a8fd0" opacity="0.45"/>
<circle cx="179.2" cy="63.7" r="0.45" fill="#8a8fd0" opacity="0.45"/>
<circle cx="172.8" cy="62.9" r="0.45" fill="#8a8fd0" opacity="0.45"/>
<circle cx="170.6" cy="65.5" r="0.45" fill="#8a8fd0" opacity="0.45"/>
<circle cx="171.9" cy="67.5" r="0.45" fill="#8a8fd0" opacity="0.45"/>
<circle cx="167.7" cy="67.3" r="0.45" fill="#8a8fd0" opacity="0.45"/>
<circle cx="173.8" cy="58.2" r="0.45" fill="#8a8fd0" opacity="0.45"/>
<circle cx="178.5" cy="64.9" r="0.45" fill="#8a8fd0" opacity="0.45"/>
<circle cx="168.2" cy="62.5" r="0.45" fill="#8a8fd0" opacity="0.45"/>
<circle cx="177.0" cy="64.2" r="0.45" fill="#8a8fd0" opacity="0.45"/>
<circle cx="178.7" cy="69.0" r="0.45" fill="#8a8fd0" opacity="0.45"/>
<circle cx="178.3" cy="67.3" r="0.45" fill="#8a8fd0" opacity="0.45"/>
<circle cx="180.7" cy="68.6" r="0.45" fill="#8a8fd0" opacity="0.45"/>
<circle cx="177.6" cy="57.7" r="0.45" fill="#8a8fd0" opacity="0.45"/>
<circle cx="179.1" cy="71.2" r="0.45" fill="#8a8fd0" opacity="0.45"/>
<circle cx="175.0" cy="64.1" r="0.45" fill="#8a8fd0" opacity="0.45"/>
<circle cx="182.8" cy="59.0" r="0.45" fill="#8a8fd0" opacity="0.45"/>
<circle cx="177.6" cy="75.7" r="0.45" fill="#8a8fd0" opacity="0.45"/>
<circle cx="172.8" cy="68.8" r="0.45" fill="#8a8fd0" opacity="0.45"/>
<circle cx="182.6" cy="65.5" r="0.45" fill="#8a8fd0" opacity="0.45"/>
<circle cx="178.0" cy="69.6" r="0.45" fill="#8a8fd0" opacity="0.45"/>
<circle cx="172.8" cy="65.6" r="0.45" fill="#8a8fd0" opacity="0.45"/>
<circle cx="195.0" cy="52.8" r="0.45" fill="#8a8fd0" opacity="0.35"/>
<circle cx="214.0" cy="42.7" r="0.45" fill="#8a8fd0" opacity="0.35"/>
<circle cx="207.9" cy="57.0" r="0.45" fill="#8a8fd0" opacity="0.35"/>
<circle cx="188.7" cy="53.3" r="0.45" fill="#8a8fd0" opacity="0.35"/>
<circle cx="210.5" cy="59.4" r="0.45" fill="#8a8fd0" opacity="0.35"/>
<circle cx="190.3" cy="75.5" r="0.45" fill="#8a8fd0" opacity="0.35"/>
<circle cx="216.4" cy="75.0" r="0.45" fill="#8a8fd0" opacity="0.35"/>
<circle cx="191.8" cy="51.0" r="0.45" fill="#8a8fd0" opacity="0.35"/>
<circle cx="189.4" cy="68.5" r="0.45" fill="#8a8fd0" opacity="0.35"/>
<circle cx="197.7" cy="46.4" r="0.45" fill="#8a8fd0" opacity="0.35"/>
<circle cx="203.2" cy="73.0" r="0.45" fill="#8a8fd0" opacity="0.35"/>
<circle cx="217.5" cy="50.8" r="0.45" fill="#8a8fd0" opacity="0.35"/>
<circle cx="193.4" cy="73.3" r="0.45" fill="#8a8fd0" opacity="0.35"/>
<circle cx="208.5" cy="65.8" r="0.45" fill="#8a8fd0" opacity="0.35"/>
<circle cx="191.2" cy="44.0" r="0.45" fill="#8a8fd0" opacity="0.35"/>
<circle cx="212.8" cy="56.5" r="0.45" fill="#8a8fd0" opacity="0.35"/>
<circle cx="190.6" cy="73.9" r="0.45" fill="#8a8fd0" opacity="0.35"/>
<circle cx="210.8" cy="69.3" r="0.45" fill="#8a8fd0" opacity="0.35"/>
<circle cx="191.0" cy="71.1" r="0.45" fill="#8a8fd0" opacity="0.35"/>
<circle cx="190.4" cy="71.3" r="0.45" fill="#8a8fd0" opacity="0.35"/>
<circle cx="204.3" cy="53.5" r="0.45" fill="#8a8fd0" opacity="0.35"/>
<circle cx="207.9" cy="73.5" r="0.45" fill="#8a8fd0" opacity="0.35"/>
<circle cx="197.6" cy="46.4" r="0.45" fill="#8a8fd0" opacity="0.35"/>
<circle cx="207.0" cy="50.1" r="0.45" fill="#8a8fd0" opacity="0.35"/>
<circle cx="191.9" cy="47.5" r="0.45" fill="#8a8fd0" opacity="0.35"/>
<circle cx="189.8" cy="48.9" r="0.45" fill="#8a8fd0" opacity="0.35"/>
<circle cx="199.2" cy="52.4" r="0.45" fill="#8a8fd0" opacity="0.35"/>
<circle cx="215.3" cy="51.9" r="0.45" fill="#8a8fd0" opacity="0.35"/>
<circle cx="206.0" cy="48.0" r="0.45" fill="#8a8fd0" opacity="0.35"/>
<circle cx="200.5" cy="42.6" r="0.45" fill="#8a8fd0" opacity="0.35"/>
<circle cx="197.0" cy="42.5" r="0.45" fill="#8a8fd0" opacity="0.35"/>
<circle cx="214.4" cy="60.7" r="0.45" fill="#8a8fd0" opacity="0.35"/>
<circle cx="194.8" cy="58.1" r="0.45" fill="#8a8fd0" opacity="0.35"/>
<circle cx="221.6" cy="45.6" r="0.45" fill="#8a8fd0" opacity="0.35"/>
<circle cx="217.5" cy="56.7" r="0.45" fill="#8a8fd0" opacity="0.35"/>
<circle cx="193.7" cy="88.3" r="0.45" fill="#8a8fd0" opacity="0.45"/>
<circle cx="200.5" cy="91.3" r="0.45" fill="#8a8fd0" opacity="0.45"/>
<circle cx="199.4" cy="76.2" r="0.45" fill="#8a8fd0" opacity="0.45"/>
<circle cx="199.7" cy="95.1" r="0.45" fill="#8a8fd0" opacity="0.45"/>
<circle cx="204.3" cy="81.8" r="0.45" fill="#8a8fd0" opacity="0.45"/>
<circle cx="201.7" cy="90.3" r="0.45" fill="#8a8fd0" opacity="0.45"/>
<circle cx="210.5" cy="88.8" r="0.45" fill="#8a8fd0" opacity="0.45"/>
<circle cx="217.4" cy="91.2" r="0.45" fill="#8a8fd0" opacity="0.45"/>
<circle cx="206.9" cy="90.7" r="0.45" fill="#8a8fd0" opacity="0.45"/>
<circle cx="218.6" cy="92.4" r="0.45" fill="#8a8fd0" opacity="0.45"/>
<circle cx="214.2" cy="83.1" r="0.45" fill="#8a8fd0" opacity="0.45"/>
<circle cx="206.0" cy="91.3" r="0.45" fill="#8a8fd0" opacity="0.45"/>
<circle cx="204.9" cy="92.8" r="0.45" fill="#8a8fd0" opacity="0.45"/>
<circle cx="211.2" cy="92.1" r="0.45" fill="#8a8fd0" opacity="0.45"/>
<circle cx="205.5" cy="99.5" r="0.45" fill="#8a8fd0" opacity="0.45"/>
<circle cx="215.7" cy="87.0" r="0.45" fill="#8a8fd0" opacity="0.45"/>
<circle cx="207.6" cy="99.7" r="0.45" fill="#8a8fd0" opacity="0.45"/>
<circle cx="204.6" cy="91.9" r="0.45" fill="#8a8fd0" opacity="0.45"/>
<circle cx="213.9" cy="88.0" r="0.45" fill="#8a8fd0" opacity="0.45"/>
<circle cx="198.8" cy="88.8" r="0.45" fill="#8a8fd0" opacity="0.45"/>
<circle cx="209.5" cy="93.1" r="0.45" fill="#8a8fd0" opacity="0.45"/>
<circle cx="212.5" cy="88.1" r="0.45" fill="#8a8fd0" opacity="0.45"/>
<circle cx="213.0" cy="90.4" r="0.45" fill="#8a8fd0" opacity="0.45"/>
<circle cx="208.4" cy="88.2" r="0.45" fill="#8a8fd0" opacity="0.45"/>
<circle cx="205.3" cy="91.1" r="0.45" fill="#8a8fd0" opacity="0.45"/>
<circle cx="199.6" cy="85.2" r="0.45" fill="#8a8fd0" opacity="0.45"/>
<circle cx="207.0" cy="81.4" r="0.45" fill="#8a8fd0" opacity="0.45"/>
<circle cx="203.9" cy="79.0" r="0.45" fill="#8a8fd0" opacity="0.45"/>
<circle cx="202.2" cy="90.6" r="0.45" fill="#8a8fd0" opacity="0.45"/>
<circle cx="211.0" cy="87.8" r="0.45" fill="#8a8fd0" opacity="0.45"/>
<circle cx="205.4" cy="81.6" r="0.45" fill="#8a8fd0" opacity="0.45"/>
<circle cx="219.8" cy="90.3" r="0.45" fill="#8a8fd0" opacity="0.45"/>
<circle cx="214.7" cy="84.0" r="0.45" fill="#8a8fd0" opacity="0.45"/>
<circle cx="205.7" cy="79.8" r="0.45" fill="#8a8fd0" opacity="0.45"/>
<circle cx="212.5" cy="92.2" r="0.45" fill="#8a8fd0" opacity="0.45"/>
<circle cx="193.7" cy="87.8" r="0.45" fill="#8a8fd0" opacity="0.45"/>
<circle cx="211.4" cy="80.1" r="0.45" fill="#8a8fd0" opacity="0.45"/>
<circle cx="194.2" cy="83.2" r="0.45" fill="#8a8fd0" opacity="0.45"/>
<circle cx="202.6" cy="81.7" r="0.45" fill="#8a8fd0" opacity="0.45"/>
<circle cx="207.2" cy="89.1" r="0.45" fill="#8a8fd0" opacity="0.45"/>
<circle cx="211.4" cy="91.2" r="0.45" fill="#8a8fd0" opacity="0.45"/>
<circle cx="217.5" cy="93.2" r="0.45" fill="#8a8fd0" opacity="0.45"/>
<circle cx="197.8" cy="85.7" r="0.45" fill="#8a8fd0" opacity="0.45"/>
<circle cx="199.6" cy="83.2" r="0.45" fill="#8a8fd0" opacity="0.45"/>
<circle cx="206.4" cy="88.0" r="0.45" fill="#8a8fd0" opacity="0.45"/>
<circle cx="210.4" cy="80.9" r="0.45" fill="#8a8fd0" opacity="0.45"/>
<circle cx="198.3" cy="87.9" r="0.45" fill="#8a8fd0" opacity="0.45"/>
<circle cx="205.6" cy="86.6" r="0.45" fill="#8a8fd0" opacity="0.45"/>
<circle cx="206.6" cy="84.6" r="0.45" fill="#8a8fd0" opacity="0.45"/>
<circle cx="211.9" cy="89.6" r="0.45" fill="#8a8fd0" opacity="0.45"/>
<circle cx="206.4" cy="85.0" r="0.45" fill="#8a8fd0" opacity="0.45"/>
<circle cx="205.8" cy="75.8" r="0.45" fill="#8a8fd0" opacity="0.45"/>
<circle cx="200.1" cy="88.2" r="0.45" fill="#8a8fd0" opacity="0.45"/>
<circle cx="196.5" cy="88.9" r="0.45" fill="#8a8fd0" opacity="0.45"/>
<circle cx="208.0" cy="81.8" r="0.45" fill="#8a8fd0" opacity="0.45"/>
<circle cx="177.9" cy="81.7" r="0.45" fill="#8a8fd0" opacity="0.35"/>
<circle cx="169.5" cy="85.6" r="0.45" fill="#8a8fd0" opacity="0.35"/>
<circle cx="179.6" cy="86.7" r="0.45" fill="#8a8fd0" opacity="0.35"/>
<circle cx="176.7" cy="80.3" r="0.45" fill="#8a8fd0" opacity="0.35"/>
<circle cx="168.0" cy="85.9" r="0.45" fill="#8a8fd0" opacity="0.35"/>
<circle cx="178.4" cy="95.2" r="0.45" fill="#8a8fd0" opacity="0.35"/>
<circle cx="178.5" cy="86.4" r="0.45" fill="#8a8fd0" opacity="0.35"/>
<circle cx="175.8" cy="90.2" r="0.45" fill="#8a8fd0" opacity="0.35"/>
<circle cx="174.9" cy="82.6" r="0.45" fill="#8a8fd0" opacity="0.35"/>
<circle cx="182.2" cy="84.4" r="0.45" fill="#8a8fd0" opacity="0.35"/>
<circle cx="183.6" cy="100.6" r="0.45" fill="#8a8fd0" opacity="0.35"/>
<circle cx="167.3" cy="90.1" r="0.45" fill="#8a8fd0" opacity="0.35"/>
<rect x="295.1" y="20.6" width="89.09999999999997" height="88.9" fill="none" stroke="#000" stroke-width="1.1" rx="0" />
<line x1="292.90000000000003" y1="29.3" x2="295.1" y2="29.3" stroke="#000" stroke-width="1.0" />
<text x="289.7" y="31.6" font-size="6.6" text-anchor="end" font-weight="normal" fill="#000" >10<tspan baseline-shift="42%" font-size="0.72em">5</tspan></text>
<line x1="292.90000000000003" y1="51.2" x2="295.1" y2="51.2" stroke="#000" stroke-width="1.0" />
<text x="289.7" y="53.5" font-size="6.6" text-anchor="end" font-weight="normal" fill="#000" >10<tspan baseline-shift="42%" font-size="0.72em">4</tspan></text>
<line x1="292.90000000000003" y1="75.4" x2="295.1" y2="75.4" stroke="#000" stroke-width="1.0" />
<text x="289.7" y="77.7" font-size="6.6" text-anchor="end" font-weight="normal" fill="#000" >10<tspan baseline-shift="42%" font-size="0.72em">3</tspan></text>
<line x1="292.90000000000003" y1="89.2" x2="295.1" y2="89.2" stroke="#000" stroke-width="1.0" />
<text x="286.2" y="91.5" font-size="6.6" text-anchor="end" font-weight="normal" fill="#000" >0</text>
<line x1="292.90000000000003" y1="104.6" x2="295.1" y2="104.6" stroke="#000" stroke-width="1.0" />
<text x="289.7" y="106.89999999999999" font-size="6.6" text-anchor="end" font-weight="normal" fill="#000" >−10<tspan baseline-shift="42%" font-size="0.72em">3</tspan></text>
<line x1="293.90000000000003" y1="44.60744309495881" x2="295.1" y2="44.60744309495881" stroke="#000" stroke-width="0.8" />
<line x1="293.90000000000003" y1="40.75104452163939" x2="295.1" y2="40.75104452163939" stroke="#000" stroke-width="0.8" />
<line x1="293.90000000000003" y1="38.014886189917625" x2="295.1" y2="38.014886189917625" stroke="#000" stroke-width="0.8" />
<line x1="293.90000000000003" y1="35.89255690504119" x2="295.1" y2="35.89255690504119" stroke="#000" stroke-width="0.8" />
<line x1="293.90000000000003" y1="34.15848761659821" x2="295.1" y2="34.15848761659821" stroke="#000" stroke-width="0.8" />
<line x1="293.90000000000003" y1="32.69235292368778" x2="295.1" y2="32.69235292368778" stroke="#000" stroke-width="0.8" />
<line x1="293.90000000000003" y1="31.422329284876437" x2="295.1" y2="31.422329284876437" stroke="#000" stroke-width="0.8" />
<line x1="293.90000000000003" y1="30.302089043278787" x2="295.1" y2="30.302089043278787" stroke="#000" stroke-width="0.8" />
<line x1="293.90000000000003" y1="66.5074430949588" x2="295.1" y2="66.5074430949588" stroke="#000" stroke-width="0.8" />
<line x1="293.90000000000003" y1="62.65104452163939" x2="295.1" y2="62.65104452163939" stroke="#000" stroke-width="0.8" />
<line x1="293.90000000000003" y1="59.914886189917624" x2="295.1" y2="59.914886189917624" stroke="#000" stroke-width="0.8" />
<line x1="293.90000000000003" y1="57.79255690504119" x2="295.1" y2="57.79255690504119" stroke="#000" stroke-width="0.8" />
<line x1="293.90000000000003" y1="56.05848761659821" x2="295.1" y2="56.05848761659821" stroke="#000" stroke-width="0.8" />
<line x1="293.90000000000003" y1="54.59235292368778" x2="295.1" y2="54.59235292368778" stroke="#000" stroke-width="0.8" />
<line x1="293.90000000000003" y1="53.32232928487644" x2="295.1" y2="53.32232928487644" stroke="#000" stroke-width="0.8" />
<line x1="293.90000000000003" y1="52.20208904327879" x2="295.1" y2="52.20208904327879" stroke="#000" stroke-width="0.8" />
<line x1="293.90000000000003" y1="21.5" x2="295.1" y2="21.5" stroke="#000" stroke-width="0.8" />
<line x1="293.90000000000003" y1="24" x2="295.1" y2="24" stroke="#000" stroke-width="0.8" />
<line x1="293.90000000000003" y1="26" x2="295.1" y2="26" stroke="#000" stroke-width="0.8" />
<line x1="293.90000000000003" y1="27.5" x2="295.1" y2="27.5" stroke="#000" stroke-width="0.8" />
<line x1="293.90000000000003" y1="80" x2="295.1" y2="80" stroke="#000" stroke-width="0.8" />
<line x1="293.90000000000003" y1="83" x2="295.1" y2="83" stroke="#000" stroke-width="0.8" />
<line x1="293.90000000000003" y1="85" x2="295.1" y2="85" stroke="#000" stroke-width="0.8" />
<line x1="293.90000000000003" y1="87" x2="295.1" y2="87" stroke="#000" stroke-width="0.8" />
<line x1="293.90000000000003" y1="91" x2="295.1" y2="91" stroke="#000" stroke-width="0.8" />
<line x1="293.90000000000003" y1="93" x2="295.1" y2="93" stroke="#000" stroke-width="0.8" />
<line x1="293.90000000000003" y1="96" x2="295.1" y2="96" stroke="#000" stroke-width="0.8" />
<line x1="293.90000000000003" y1="99" x2="295.1" y2="99" stroke="#000" stroke-width="0.8" />
<line x1="293.90000000000003" y1="101" x2="295.1" y2="101" stroke="#000" stroke-width="0.8" />
<line x1="293.90000000000003" y1="103" x2="295.1" y2="103" stroke="#000" stroke-width="0.8" />
<line x1="293.90000000000003" y1="107" x2="295.1" y2="107" stroke="#000" stroke-width="0.8" />
<line x1="306" y1="109.5" x2="306" y2="111.7" stroke="#000" stroke-width="1.0" />
<text x="306" y="119.5" font-size="6.6" text-anchor="middle" font-weight="normal" fill="#000" ></text>
<line x1="316.7" y1="109.5" x2="316.7" y2="111.7" stroke="#000" stroke-width="1.0" />
<text x="316.7" y="119.5" font-size="6.6" text-anchor="middle" font-weight="normal" fill="#000" >0</text>
<line x1="343.5" y1="109.5" x2="343.5" y2="111.7" stroke="#000" stroke-width="1.0" />
<text x="343.5" y="119.5" font-size="6.6" text-anchor="middle" font-weight="normal" fill="#000" >10<tspan baseline-shift="42%" font-size="0.72em">2</tspan></text>
<line x1="367" y1="109.5" x2="367" y2="111.7" stroke="#000" stroke-width="1.0" />
<text x="367" y="119.5" font-size="6.6" text-anchor="middle" font-weight="normal" fill="#000" >10<tspan baseline-shift="42%" font-size="0.72em">4</tspan></text>
<line x1="297.5" y1="109.5" x2="297.5" y2="111.1" stroke="#000" stroke-width="0.7" />
<line x1="299.5" y1="109.5" x2="299.5" y2="111.1" stroke="#000" stroke-width="0.7" />
<line x1="301.5" y1="109.5" x2="301.5" y2="111.1" stroke="#000" stroke-width="0.7" />
<line x1="303.5" y1="109.5" x2="303.5" y2="111.1" stroke="#000" stroke-width="0.7" />
<line x1="305.5" y1="109.5" x2="305.5" y2="111.1" stroke="#000" stroke-width="0.7" />
<line x1="307.5" y1="109.5" x2="307.5" y2="111.1" stroke="#000" stroke-width="0.7" />
<line x1="309.5" y1="109.5" x2="309.5" y2="111.1" stroke="#000" stroke-width="0.7" />
<line x1="311.5" y1="109.5" x2="311.5" y2="111.1" stroke="#000" stroke-width="0.7" />
<line x1="313.5" y1="109.5" x2="313.5" y2="111.1" stroke="#000" stroke-width="0.7" />
<line x1="315.5" y1="109.5" x2="315.5" y2="111.1" stroke="#000" stroke-width="0.7" />
<line x1="317.5" y1="109.5" x2="317.5" y2="111.1" stroke="#000" stroke-width="0.7" />
<line x1="319.5" y1="109.5" x2="319.5" y2="111.1" stroke="#000" stroke-width="0.7" />
<line x1="321.5" y1="109.5" x2="321.5" y2="111.1" stroke="#000" stroke-width="0.7" />
<line x1="323.5" y1="109.5" x2="323.5" y2="111.1" stroke="#000" stroke-width="0.7" />
<line x1="325.5" y1="109.5" x2="325.5" y2="111.1" stroke="#000" stroke-width="0.7" />
<line x1="327.5" y1="109.5" x2="327.5" y2="111.1" stroke="#000" stroke-width="0.7" />
<line x1="329.5" y1="109.5" x2="329.5" y2="111.1" stroke="#000" stroke-width="0.7" />
<line x1="331.5" y1="109.5" x2="331.5" y2="111.1" stroke="#000" stroke-width="0.7" />
<line x1="333.5" y1="109.5" x2="333.5" y2="111.1" stroke="#000" stroke-width="0.7" />
<line x1="335.5" y1="109.5" x2="335.5" y2="111.1" stroke="#000" stroke-width="0.7" />
<line x1="337.5" y1="109.5" x2="337.5" y2="111.1" stroke="#000" stroke-width="0.7" />
<line x1="339.5" y1="109.5" x2="339.5" y2="111.1" stroke="#000" stroke-width="0.7" />
<line x1="341.5" y1="109.5" x2="341.5" y2="111.1" stroke="#000" stroke-width="0.7" />
<line x1="343.5" y1="109.5" x2="343.5" y2="111.1" stroke="#000" stroke-width="0.7" />
<line x1="345.5" y1="109.5" x2="345.5" y2="111.1" stroke="#000" stroke-width="0.7" />
<line x1="347.5" y1="109.5" x2="347.5" y2="111.1" stroke="#000" stroke-width="0.7" />
<line x1="349.5" y1="109.5" x2="349.5" y2="111.1" stroke="#000" stroke-width="0.7" />
<line x1="351.5" y1="109.5" x2="351.5" y2="111.1" stroke="#000" stroke-width="0.7" />
<line x1="353.5" y1="109.5" x2="353.5" y2="111.1" stroke="#000" stroke-width="0.7" />
<line x1="355.5" y1="109.5" x2="355.5" y2="111.1" stroke="#000" stroke-width="0.7" />
<line x1="357.5" y1="109.5" x2="357.5" y2="111.1" stroke="#000" stroke-width="0.7" />
<line x1="359.5" y1="109.5" x2="359.5" y2="111.1" stroke="#000" stroke-width="0.7" />
<line x1="361.5" y1="109.5" x2="361.5" y2="111.1" stroke="#000" stroke-width="0.7" />
<line x1="363.5" y1="109.5" x2="363.5" y2="111.1" stroke="#000" stroke-width="0.7" />
<line x1="365.5" y1="109.5" x2="365.5" y2="111.1" stroke="#000" stroke-width="0.7" />
<line x1="367.5" y1="109.5" x2="367.5" y2="111.1" stroke="#000" stroke-width="0.7" />
<line x1="369.5" y1="109.5" x2="369.5" y2="111.1" stroke="#000" stroke-width="0.7" />
<line x1="371.5" y1="109.5" x2="371.5" y2="111.1" stroke="#000" stroke-width="0.7" />
<line x1="373.5" y1="109.5" x2="373.5" y2="111.1" stroke="#000" stroke-width="0.7" />
<line x1="375.5" y1="109.5" x2="375.5" y2="111.1" stroke="#000" stroke-width="0.7" />
<line x1="377.5" y1="109.5" x2="377.5" y2="111.1" stroke="#000" stroke-width="0.7" />
<line x1="379.5" y1="109.5" x2="379.5" y2="111.1" stroke="#000" stroke-width="0.7" />
<line x1="381.5" y1="109.5" x2="381.5" y2="111.1" stroke="#000" stroke-width="0.7" />
<rect x="297.1" y="80.5" width="13.4" height="16.8" fill="none" stroke="#000" stroke-width="1.3" rx="0.8" />
<rect x="311.3" y="80.5" width="43.9" height="13.5" fill="none" stroke="#000" stroke-width="1.3" rx="0.6" />
<rect x="329.2" y="49.4" width="25.1" height="30.8" fill="none" stroke="#000" stroke-width="1.3" rx="0" />
<text x="305" y="75.5" font-size="6.6" text-anchor="middle" font-weight="normal" fill="#000" textLength="15.8" lengthAdjust="spacingAndGlyphs" >MEPs</text>
<text x="365.6" y="58.6" font-size="6.6" text-anchor="middle" font-weight="normal" fill="#000" textLength="17.3" lengthAdjust="spacingAndGlyphs" >GMPs</text>
<text x="365.6" y="90.9" font-size="6.6" text-anchor="middle" font-weight="normal" fill="#000" textLength="17.3" lengthAdjust="spacingAndGlyphs" >CMPs</text>
<text x="339.7" y="132.5" font-size="10.5" text-anchor="middle" font-weight="bold" fill="#000" textLength="15.4" lengthAdjust="spacingAndGlyphs" >CD34</text>
<text x="273.5" y="64.6" font-size="10.5" text-anchor="middle" font-weight="bold" fill="#000" textLength="24.5" lengthAdjust="spacingAndGlyphs" transform="rotate(-90 273.5 64.6)" >CD16/32</text>
<rect x="423.0" y="20.6" width="89.60000000000002" height="88.9" fill="none" stroke="#000" stroke-width="1.1" rx="0" />
<line x1="420.8" y1="29.3" x2="423.0" y2="29.3" stroke="#000" stroke-width="1.0" />
<text x="417.6" y="31.6" font-size="6.6" text-anchor="end" font-weight="normal" fill="#000" >10<tspan baseline-shift="42%" font-size="0.72em">5</tspan></text>
<line x1="420.8" y1="51.2" x2="423.0" y2="51.2" stroke="#000" stroke-width="1.0" />
<text x="417.6" y="53.5" font-size="6.6" text-anchor="end" font-weight="normal" fill="#000" >10<tspan baseline-shift="42%" font-size="0.72em">4</tspan></text>
<line x1="420.8" y1="75.4" x2="423.0" y2="75.4" stroke="#000" stroke-width="1.0" />
<text x="417.6" y="77.7" font-size="6.6" text-anchor="end" font-weight="normal" fill="#000" >10<tspan baseline-shift="42%" font-size="0.72em">3</tspan></text>
<line x1="420.8" y1="89.2" x2="423.0" y2="89.2" stroke="#000" stroke-width="1.0" />
<text x="414.1" y="91.5" font-size="6.6" text-anchor="end" font-weight="normal" fill="#000" >0</text>
<line x1="420.8" y1="104.6" x2="423.0" y2="104.6" stroke="#000" stroke-width="1.0" />
<text x="417.6" y="106.89999999999999" font-size="6.6" text-anchor="end" font-weight="normal" fill="#000" >−10<tspan baseline-shift="42%" font-size="0.72em">3</tspan></text>
<line x1="421.8" y1="44.60744309495881" x2="423.0" y2="44.60744309495881" stroke="#000" stroke-width="0.8" />
<line x1="421.8" y1="40.75104452163939" x2="423.0" y2="40.75104452163939" stroke="#000" stroke-width="0.8" />
<line x1="421.8" y1="38.014886189917625" x2="423.0" y2="38.014886189917625" stroke="#000" stroke-width="0.8" />
<line x1="421.8" y1="35.89255690504119" x2="423.0" y2="35.89255690504119" stroke="#000" stroke-width="0.8" />
<line x1="421.8" y1="34.15848761659821" x2="423.0" y2="34.15848761659821" stroke="#000" stroke-width="0.8" />
<line x1="421.8" y1="32.69235292368778" x2="423.0" y2="32.69235292368778" stroke="#000" stroke-width="0.8" />
<line x1="421.8" y1="31.422329284876437" x2="423.0" y2="31.422329284876437" stroke="#000" stroke-width="0.8" />
<line x1="421.8" y1="30.302089043278787" x2="423.0" y2="30.302089043278787" stroke="#000" stroke-width="0.8" />
<line x1="421.8" y1="66.5074430949588" x2="423.0" y2="66.5074430949588" stroke="#000" stroke-width="0.8" />
<line x1="421.8" y1="62.65104452163939" x2="423.0" y2="62.65104452163939" stroke="#000" stroke-width="0.8" />
<line x1="421.8" y1="59.914886189917624" x2="423.0" y2="59.914886189917624" stroke="#000" stroke-width="0.8" />
<line x1="421.8" y1="57.79255690504119" x2="423.0" y2="57.79255690504119" stroke="#000" stroke-width="0.8" />
<line x1="421.8" y1="56.05848761659821" x2="423.0" y2="56.05848761659821" stroke="#000" stroke-width="0.8" />
<line x1="421.8" y1="54.59235292368778" x2="423.0" y2="54.59235292368778" stroke="#000" stroke-width="0.8" />
<line x1="421.8" y1="53.32232928487644" x2="423.0" y2="53.32232928487644" stroke="#000" stroke-width="0.8" />
<line x1="421.8" y1="52.20208904327879" x2="423.0" y2="52.20208904327879" stroke="#000" stroke-width="0.8" />
<line x1="421.8" y1="21.5" x2="423.0" y2="21.5" stroke="#000" stroke-width="0.8" />
<line x1="421.8" y1="24" x2="423.0" y2="24" stroke="#000" stroke-width="0.8" />
<line x1="421.8" y1="26" x2="423.0" y2="26" stroke="#000" stroke-width="0.8" />
<line x1="421.8" y1="27.5" x2="423.0" y2="27.5" stroke="#000" stroke-width="0.8" />
<line x1="421.8" y1="80" x2="423.0" y2="80" stroke="#000" stroke-width="0.8" />
<line x1="421.8" y1="83" x2="423.0" y2="83" stroke="#000" stroke-width="0.8" />
<line x1="421.8" y1="85" x2="423.0" y2="85" stroke="#000" stroke-width="0.8" />
<line x1="421.8" y1="87" x2="423.0" y2="87" stroke="#000" stroke-width="0.8" />
<line x1="421.8" y1="91" x2="423.0" y2="91" stroke="#000" stroke-width="0.8" />
<line x1="421.8" y1="93" x2="423.0" y2="93" stroke="#000" stroke-width="0.8" />
<line x1="421.8" y1="96" x2="423.0" y2="96" stroke="#000" stroke-width="0.8" />
<line x1="421.8" y1="99" x2="423.0" y2="99" stroke="#000" stroke-width="0.8" />
<line x1="421.8" y1="101" x2="423.0" y2="101" stroke="#000" stroke-width="0.8" />
<line x1="421.8" y1="103" x2="423.0" y2="103" stroke="#000" stroke-width="0.8" />
<line x1="421.8" y1="107" x2="423.0" y2="107" stroke="#000" stroke-width="0.8" />
<line x1="433.9" y1="109.5" x2="433.9" y2="111.7" stroke="#000" stroke-width="1.0" />
<text x="433.9" y="119.5" font-size="6.6" text-anchor="middle" font-weight="normal" fill="#000" ></text>
<line x1="444.6" y1="109.5" x2="444.6" y2="111.7" stroke="#000" stroke-width="1.0" />
<text x="444.6" y="119.5" font-size="6.6" text-anchor="middle" font-weight="normal" fill="#000" >0</text>
<line x1="471.4" y1="109.5" x2="471.4" y2="111.7" stroke="#000" stroke-width="1.0" />
<text x="471.4" y="119.5" font-size="6.6" text-anchor="middle" font-weight="normal" fill="#000" >10<tspan baseline-shift="42%" font-size="0.72em">2</tspan></text>
<line x1="494.9" y1="109.5" x2="494.9" y2="111.7" stroke="#000" stroke-width="1.0" />
<text x="494.9" y="119.5" font-size="6.6" text-anchor="middle" font-weight="normal" fill="#000" >10<tspan baseline-shift="42%" font-size="0.72em">4</tspan></text>
<line x1="425.5" y1="109.5" x2="425.5" y2="111.1" stroke="#000" stroke-width="0.7" />
<line x1="427.5" y1="109.5" x2="427.5" y2="111.1" stroke="#000" stroke-width="0.7" />
<line x1="429.5" y1="109.5" x2="429.5" y2="111.1" stroke="#000" stroke-width="0.7" />
<line x1="431.5" y1="109.5" x2="431.5" y2="111.1" stroke="#000" stroke-width="0.7" />
<line x1="433.5" y1="109.5" x2="433.5" y2="111.1" stroke="#000" stroke-width="0.7" />
<line x1="435.5" y1="109.5" x2="435.5" y2="111.1" stroke="#000" stroke-width="0.7" />
<line x1="437.5" y1="109.5" x2="437.5" y2="111.1" stroke="#000" stroke-width="0.7" />
<line x1="439.5" y1="109.5" x2="439.5" y2="111.1" stroke="#000" stroke-width="0.7" />
<line x1="441.5" y1="109.5" x2="441.5" y2="111.1" stroke="#000" stroke-width="0.7" />
<line x1="443.5" y1="109.5" x2="443.5" y2="111.1" stroke="#000" stroke-width="0.7" />
<line x1="445.5" y1="109.5" x2="445.5" y2="111.1" stroke="#000" stroke-width="0.7" />
<line x1="447.5" y1="109.5" x2="447.5" y2="111.1" stroke="#000" stroke-width="0.7" />
<line x1="449.5" y1="109.5" x2="449.5" y2="111.1" stroke="#000" stroke-width="0.7" />
<line x1="451.5" y1="109.5" x2="451.5" y2="111.1" stroke="#000" stroke-width="0.7" />
<line x1="453.5" y1="109.5" x2="453.5" y2="111.1" stroke="#000" stroke-width="0.7" />
<line x1="455.5" y1="109.5" x2="455.5" y2="111.1" stroke="#000" stroke-width="0.7" />
<line x1="457.5" y1="109.5" x2="457.5" y2="111.1" stroke="#000" stroke-width="0.7" />
<line x1="459.5" y1="109.5" x2="459.5" y2="111.1" stroke="#000" stroke-width="0.7" />
<line x1="461.5" y1="109.5" x2="461.5" y2="111.1" stroke="#000" stroke-width="0.7" />
<line x1="463.5" y1="109.5" x2="463.5" y2="111.1" stroke="#000" stroke-width="0.7" />
<line x1="465.5" y1="109.5" x2="465.5" y2="111.1" stroke="#000" stroke-width="0.7" />
<line x1="467.5" y1="109.5" x2="467.5" y2="111.1" stroke="#000" stroke-width="0.7" />
<line x1="469.5" y1="109.5" x2="469.5" y2="111.1" stroke="#000" stroke-width="0.7" />
<line x1="471.5" y1="109.5" x2="471.5" y2="111.1" stroke="#000" stroke-width="0.7" />
<line x1="473.5" y1="109.5" x2="473.5" y2="111.1" stroke="#000" stroke-width="0.7" />
<line x1="475.5" y1="109.5" x2="475.5" y2="111.1" stroke="#000" stroke-width="0.7" />
<line x1="477.5" y1="109.5" x2="477.5" y2="111.1" stroke="#000" stroke-width="0.7" />
<line x1="479.5" y1="109.5" x2="479.5" y2="111.1" stroke="#000" stroke-width="0.7" />
<line x1="481.5" y1="109.5" x2="481.5" y2="111.1" stroke="#000" stroke-width="0.7" />
<line x1="483.5" y1="109.5" x2="483.5" y2="111.1" stroke="#000" stroke-width="0.7" />
<line x1="485.5" y1="109.5" x2="485.5" y2="111.1" stroke="#000" stroke-width="0.7" />
<line x1="487.5" y1="109.5" x2="487.5" y2="111.1" stroke="#000" stroke-width="0.7" />
<line x1="489.5" y1="109.5" x2="489.5" y2="111.1" stroke="#000" stroke-width="0.7" />
<line x1="491.5" y1="109.5" x2="491.5" y2="111.1" stroke="#000" stroke-width="0.7" />
<line x1="493.5" y1="109.5" x2="493.5" y2="111.1" stroke="#000" stroke-width="0.7" />
<line x1="495.5" y1="109.5" x2="495.5" y2="111.1" stroke="#000" stroke-width="0.7" />
<line x1="497.5" y1="109.5" x2="497.5" y2="111.1" stroke="#000" stroke-width="0.7" />
<line x1="499.5" y1="109.5" x2="499.5" y2="111.1" stroke="#000" stroke-width="0.7" />
<line x1="501.5" y1="109.5" x2="501.5" y2="111.1" stroke="#000" stroke-width="0.7" />
<line x1="503.5" y1="109.5" x2="503.5" y2="111.1" stroke="#000" stroke-width="0.7" />
<line x1="505.5" y1="109.5" x2="505.5" y2="111.1" stroke="#000" stroke-width="0.7" />
<line x1="507.5" y1="109.5" x2="507.5" y2="111.1" stroke="#000" stroke-width="0.7" />
<line x1="509.5" y1="109.5" x2="509.5" y2="111.1" stroke="#000" stroke-width="0.7" />
<rect x="425.0" y="80.5" width="13.4" height="16.8" fill="none" stroke="#000" stroke-width="1.3" rx="0.8" />
<rect x="439.20000000000005" y="80.5" width="44.1" height="13.5" fill="none" stroke="#000" stroke-width="1.3" rx="0.6" />
<rect x="457.1" y="49.4" width="25.1" height="30.8" fill="none" stroke="#000" stroke-width="1.3" rx="0" />
<text x="432.9" y="75.5" font-size="6.6" text-anchor="middle" font-weight="normal" fill="#000" textLength="15.8" lengthAdjust="spacingAndGlyphs" >MEPs</text>
<text x="493.5" y="58.6" font-size="6.6" text-anchor="middle" font-weight="normal" fill="#000" textLength="17.3" lengthAdjust="spacingAndGlyphs" >GMPs</text>
<text x="493.5" y="90.9" font-size="6.6" text-anchor="middle" font-weight="normal" fill="#000" textLength="17.3" lengthAdjust="spacingAndGlyphs" >CMPs</text>
<text x="467.6" y="132.5" font-size="10.5" text-anchor="middle" font-weight="bold" fill="#000" textLength="15.4" lengthAdjust="spacingAndGlyphs" >CD34</text>
<text x="401.4" y="64.6" font-size="10.5" text-anchor="middle" font-weight="bold" fill="#000" textLength="24.5" lengthAdjust="spacingAndGlyphs" transform="rotate(-90 401.4 64.6)" >CD16/32</text>
<circle cx="307.4" cy="90.2" r="0.5" fill="#6f7cc4" opacity="0.6"/>
<circle cx="301.1" cy="88.8" r="0.5" fill="#6f7cc4" opacity="0.6"/>
<circle cx="300.4" cy="89.7" r="0.5" fill="#6f7cc4" opacity="0.6"/>
<circle cx="304.7" cy="88.7" r="0.5" fill="#6f7cc4" opacity="0.6"/>
<circle cx="299.6" cy="86.3" r="0.5" fill="#6f7cc4" opacity="0.6"/>
<circle cx="299.5" cy="88.6" r="0.5" fill="#6f7cc4" opacity="0.6"/>
<circle cx="307.4" cy="86.7" r="0.5" fill="#6f7cc4" opacity="0.6"/>
<circle cx="306.1" cy="88.9" r="0.5" fill="#6f7cc4" opacity="0.6"/>
<circle cx="300.7" cy="90.0" r="0.5" fill="#6f7cc4" opacity="0.6"/>
<circle cx="298.3" cy="88.2" r="0.5" fill="#6f7cc4" opacity="0.6"/>
<circle cx="298.0" cy="87.8" r="0.5" fill="#6f7cc4" opacity="0.6"/>
<circle cx="301.5" cy="89.1" r="0.5" fill="#6f7cc4" opacity="0.6"/>
<circle cx="299.6" cy="88.5" r="0.5" fill="#6f7cc4" opacity="0.6"/>
<circle cx="307.7" cy="89.8" r="0.5" fill="#6f7cc4" opacity="0.6"/>
<circle cx="298.0" cy="89.0" r="0.5" fill="#6f7cc4" opacity="0.6"/>
<circle cx="299.4" cy="86.9" r="0.5" fill="#6f7cc4" opacity="0.6"/>
<circle cx="308.7" cy="88.5" r="0.5" fill="#6f7cc4" opacity="0.6"/>
<circle cx="301.3" cy="86.7" r="0.5" fill="#6f7cc4" opacity="0.6"/>
<circle cx="302.3" cy="85.8" r="0.5" fill="#6f7cc4" opacity="0.6"/>
<circle cx="304.8" cy="91.5" r="0.5" fill="#6f7cc4" opacity="0.6"/>
<circle cx="302.1" cy="88.2" r="0.5" fill="#6f7cc4" opacity="0.6"/>
<circle cx="298.6" cy="89.4" r="0.5" fill="#6f7cc4" opacity="0.6"/>
<circle cx="299.2" cy="89.5" r="0.5" fill="#6f7cc4" opacity="0.6"/>
<circle cx="308.8" cy="88.2" r="0.5" fill="#6f7cc4" opacity="0.6"/>
<circle cx="300.9" cy="88.9" r="0.5" fill="#6f7cc4" opacity="0.6"/>
<circle cx="300.2" cy="90.3" r="0.5" fill="#6f7cc4" opacity="0.6"/>
<circle cx="302.3" cy="91.2" r="0.5" fill="#6f7cc4" opacity="0.6"/>
<circle cx="307.3" cy="88.4" r="0.5" fill="#6f7cc4" opacity="0.6"/>
<circle cx="305.3" cy="91.2" r="0.5" fill="#6f7cc4" opacity="0.6"/>
<circle cx="304.3" cy="87.6" r="0.5" fill="#6f7cc4" opacity="0.6"/>
<circle cx="306.3" cy="90.7" r="0.5" fill="#6f7cc4" opacity="0.6"/>
<circle cx="303.2" cy="89.5" r="0.5" fill="#6f7cc4" opacity="0.6"/>
<circle cx="306.7" cy="88.4" r="0.5" fill="#6f7cc4" opacity="0.6"/>
<circle cx="298.6" cy="88.3" r="0.5" fill="#6f7cc4" opacity="0.6"/>
<circle cx="308.7" cy="89.9" r="0.5" fill="#6f7cc4" opacity="0.6"/>
<circle cx="302.0" cy="89.9" r="0.5" fill="#6f7cc4" opacity="0.6"/>
<circle cx="301.4" cy="88.8" r="0.5" fill="#6f7cc4" opacity="0.6"/>
<circle cx="301.0" cy="86.0" r="0.5" fill="#6f7cc4" opacity="0.6"/>
<circle cx="305.5" cy="88.6" r="0.5" fill="#6f7cc4" opacity="0.6"/>
<circle cx="302.5" cy="90.3" r="0.5" fill="#6f7cc4" opacity="0.6"/>
<circle cx="299.9" cy="89.4" r="0.5" fill="#6f7cc4" opacity="0.6"/>
<circle cx="308.4" cy="89.6" r="0.5" fill="#6f7cc4" opacity="0.6"/>
<circle cx="303.7" cy="89.4" r="0.5" fill="#6f7cc4" opacity="0.6"/>
<circle cx="309.5" cy="91.4" r="0.5" fill="#6f7cc4" opacity="0.6"/>
<circle cx="303.2" cy="89.5" r="0.5" fill="#6f7cc4" opacity="0.6"/>
<circle cx="321.5" cy="89.2" r="0.5" fill="#6f7cc4" opacity="0.6"/>
<circle cx="331.9" cy="89.0" r="0.5" fill="#6f7cc4" opacity="0.6"/>
<circle cx="329.0" cy="88.9" r="0.5" fill="#6f7cc4" opacity="0.6"/>
<circle cx="338.7" cy="89.3" r="0.5" fill="#6f7cc4" opacity="0.6"/>
<circle cx="334.2" cy="87.2" r="0.5" fill="#6f7cc4" opacity="0.6"/>
<circle cx="334.2" cy="87.3" r="0.5" fill="#6f7cc4" opacity="0.6"/>
<circle cx="331.8" cy="88.2" r="0.5" fill="#6f7cc4" opacity="0.6"/>
<circle cx="319.8" cy="88.3" r="0.5" fill="#6f7cc4" opacity="0.6"/>
<circle cx="323.4" cy="91.3" r="0.5" fill="#6f7cc4" opacity="0.6"/>
<circle cx="336.8" cy="86.8" r="0.5" fill="#6f7cc4" opacity="0.6"/>
<circle cx="327.4" cy="87.1" r="0.5" fill="#6f7cc4" opacity="0.6"/>
<circle cx="329.4" cy="88.5" r="0.5" fill="#6f7cc4" opacity="0.6"/>
<circle cx="335.2" cy="89.2" r="0.5" fill="#6f7cc4" opacity="0.6"/>
<circle cx="348.0" cy="88.6" r="0.5" fill="#6f7cc4" opacity="0.6"/>
<circle cx="316.6" cy="87.1" r="0.5" fill="#6f7cc4" opacity="0.6"/>
<circle cx="317.6" cy="88.2" r="0.5" fill="#6f7cc4" opacity="0.6"/>
<circle cx="336.0" cy="86.1" r="0.5" fill="#6f7cc4" opacity="0.6"/>
<circle cx="339.2" cy="89.0" r="0.5" fill="#6f7cc4" opacity="0.6"/>
<circle cx="347.4" cy="87.4" r="0.5" fill="#6f7cc4" opacity="0.6"/>
<circle cx="345.1" cy="89.3" r="0.5" fill="#6f7cc4" opacity="0.6"/>
<circle cx="328.6" cy="86.4" r="0.5" fill="#6f7cc4" opacity="0.6"/>
<circle cx="322.5" cy="89.4" r="0.5" fill="#6f7cc4" opacity="0.6"/>
<circle cx="341.6" cy="88.9" r="0.5" fill="#6f7cc4" opacity="0.6"/>
<circle cx="347.7" cy="87.1" r="0.5" fill="#6f7cc4" opacity="0.6"/>
<circle cx="343.7" cy="86.3" r="0.5" fill="#6f7cc4" opacity="0.6"/>
<circle cx="335.5" cy="87.9" r="0.5" fill="#6f7cc4" opacity="0.6"/>
<circle cx="344.1" cy="87.6" r="0.5" fill="#6f7cc4" opacity="0.6"/>
<circle cx="328.0" cy="89.8" r="0.5" fill="#6f7cc4" opacity="0.6"/>
<circle cx="330.6" cy="87.7" r="0.5" fill="#6f7cc4" opacity="0.6"/>
<circle cx="323.5" cy="88.7" r="0.5" fill="#6f7cc4" opacity="0.6"/>
<circle cx="342.0" cy="89.2" r="0.5" fill="#6f7cc4" opacity="0.6"/>
<circle cx="322.7" cy="89.8" r="0.5" fill="#6f7cc4" opacity="0.6"/>
<circle cx="339.0" cy="88.5" r="0.5" fill="#6f7cc4" opacity="0.6"/>
<circle cx="333.4" cy="88.5" r="0.5" fill="#6f7cc4" opacity="0.6"/>
<circle cx="315.3" cy="90.1" r="0.5" fill="#6f7cc4" opacity="0.6"/>
<circle cx="330.5" cy="86.0" r="0.5" fill="#6f7cc4" opacity="0.6"/>
<circle cx="340.7" cy="88.5" r="0.5" fill="#6f7cc4" opacity="0.6"/>
<circle cx="346.4" cy="86.8" r="0.5" fill="#6f7cc4" opacity="0.6"/>
<circle cx="328.6" cy="88.6" r="0.5" fill="#6f7cc4" opacity="0.6"/>
<circle cx="348.1" cy="87.1" r="0.5" fill="#6f7cc4" opacity="0.6"/>
<circle cx="316.6" cy="88.0" r="0.5" fill="#6f7cc4" opacity="0.6"/>
<circle cx="336.7" cy="87.7" r="0.5" fill="#6f7cc4" opacity="0.6"/>
<circle cx="328.9" cy="87.6" r="0.5" fill="#6f7cc4" opacity="0.6"/>
<circle cx="341.2" cy="88.5" r="0.5" fill="#6f7cc4" opacity="0.6"/>
<circle cx="317.7" cy="88.4" r="0.5" fill="#6f7cc4" opacity="0.6"/>
<circle cx="331.8" cy="87.1" r="0.5" fill="#6f7cc4" opacity="0.6"/>
<circle cx="326.6" cy="89.3" r="0.5" fill="#6f7cc4" opacity="0.6"/>
<circle cx="344.4" cy="87.6" r="0.5" fill="#6f7cc4" opacity="0.6"/>
<circle cx="326.9" cy="87.4" r="0.5" fill="#6f7cc4" opacity="0.6"/>
<circle cx="348.3" cy="86.7" r="0.5" fill="#6f7cc4" opacity="0.6"/>
<circle cx="327.9" cy="90.3" r="0.5" fill="#6f7cc4" opacity="0.6"/>
<circle cx="327.6" cy="88.6" r="0.5" fill="#6f7cc4" opacity="0.6"/>
<circle cx="348.0" cy="86.6" r="0.5" fill="#6f7cc4" opacity="0.6"/>
<circle cx="336.6" cy="88.4" r="0.5" fill="#6f7cc4" opacity="0.6"/>
<circle cx="334.3" cy="88.9" r="0.5" fill="#6f7cc4" opacity="0.6"/>
<circle cx="341.2" cy="88.4" r="0.5" fill="#6f7cc4" opacity="0.6"/>
<circle cx="333.6" cy="88.1" r="0.5" fill="#6f7cc4" opacity="0.6"/>
<circle cx="327.2" cy="89.1" r="0.5" fill="#6f7cc4" opacity="0.6"/>
<circle cx="319.1" cy="88.7" r="0.5" fill="#6f7cc4" opacity="0.6"/>
<circle cx="319.7" cy="87.1" r="0.5" fill="#6f7cc4" opacity="0.6"/>
<circle cx="346.4" cy="88.8" r="0.5" fill="#6f7cc4" opacity="0.6"/>
<circle cx="342.9" cy="90.1" r="0.5" fill="#6f7cc4" opacity="0.6"/>
<circle cx="331.5" cy="88.4" r="0.5" fill="#6f7cc4" opacity="0.6"/>
<circle cx="326.1" cy="90.1" r="0.5" fill="#6f7cc4" opacity="0.6"/>
<circle cx="317.6" cy="88.1" r="0.5" fill="#6f7cc4" opacity="0.6"/>
<circle cx="341.2" cy="87.2" r="0.5" fill="#6f7cc4" opacity="0.6"/>
<circle cx="331.6" cy="89.1" r="0.5" fill="#6f7cc4" opacity="0.6"/>
<circle cx="325.4" cy="89.4" r="0.5" fill="#6f7cc4" opacity="0.6"/>
<circle cx="332.2" cy="88.4" r="0.5" fill="#6f7cc4" opacity="0.6"/>
<circle cx="348.0" cy="89.2" r="0.5" fill="#6f7cc4" opacity="0.6"/>
<circle cx="327.0" cy="90.4" r="0.5" fill="#6f7cc4" opacity="0.6"/>
<circle cx="332.4" cy="89.2" r="0.5" fill="#6f7cc4" opacity="0.6"/>
<circle cx="334.8" cy="86.6" r="0.5" fill="#6f7cc4" opacity="0.6"/>
<circle cx="318.9" cy="87.8" r="0.5" fill="#6f7cc4" opacity="0.6"/>
<circle cx="347.2" cy="87.6" r="0.5" fill="#6f7cc4" opacity="0.6"/>
<circle cx="326.4" cy="87.2" r="0.5" fill="#6f7cc4" opacity="0.6"/>
<circle cx="317.4" cy="90.4" r="0.5" fill="#6f7cc4" opacity="0.6"/>
<circle cx="334.1" cy="88.9" r="0.5" fill="#6f7cc4" opacity="0.6"/>
<circle cx="318.3" cy="87.2" r="0.5" fill="#6f7cc4" opacity="0.6"/>
<circle cx="317.8" cy="90.8" r="0.5" fill="#6f7cc4" opacity="0.6"/>
<circle cx="328.9" cy="89.4" r="0.5" fill="#6f7cc4" opacity="0.6"/>
<circle cx="343.2" cy="88.5" r="0.5" fill="#6f7cc4" opacity="0.6"/>
<circle cx="329.5" cy="87.9" r="0.5" fill="#6f7cc4" opacity="0.6"/>
<circle cx="348.1" cy="86.8" r="0.5" fill="#6f7cc4" opacity="0.6"/>
<circle cx="342.5" cy="87.3" r="0.5" fill="#6f7cc4" opacity="0.6"/>
<circle cx="331.1" cy="88.4" r="0.5" fill="#6f7cc4" opacity="0.6"/>
<circle cx="343.4" cy="87.8" r="0.5" fill="#6f7cc4" opacity="0.6"/>
<circle cx="347.2" cy="85.9" r="0.5" fill="#6f7cc4" opacity="0.6"/>
<circle cx="316.9" cy="87.0" r="0.5" fill="#6f7cc4" opacity="0.6"/>
<circle cx="328.1" cy="86.1" r="0.5" fill="#6f7cc4" opacity="0.6"/>
<circle cx="348.0" cy="87.8" r="0.5" fill="#6f7cc4" opacity="0.6"/>
<circle cx="333.4" cy="88.3" r="0.5" fill="#6f7cc4" opacity="0.6"/>
<circle cx="336.6" cy="89.2" r="0.5" fill="#6f7cc4" opacity="0.6"/>
<circle cx="347.4" cy="88.2" r="0.5" fill="#6f7cc4" opacity="0.6"/>
<circle cx="343.0" cy="89.4" r="0.5" fill="#6f7cc4" opacity="0.6"/>
<circle cx="345.0" cy="87.8" r="0.5" fill="#6f7cc4" opacity="0.6"/>
<circle cx="331.4" cy="87.1" r="0.5" fill="#6f7cc4" opacity="0.6"/>
<circle cx="331.2" cy="87.3" r="0.5" fill="#6f7cc4" opacity="0.6"/>
<circle cx="320.9" cy="90.1" r="0.5" fill="#6f7cc4" opacity="0.6"/>
<circle cx="326.6" cy="88.6" r="0.5" fill="#6f7cc4" opacity="0.6"/>
<circle cx="320.0" cy="88.0" r="0.5" fill="#6f7cc4" opacity="0.6"/>
<circle cx="317.7" cy="87.9" r="0.5" fill="#6f7cc4" opacity="0.6"/>
<circle cx="348.6" cy="87.0" r="0.5" fill="#6f7cc4" opacity="0.6"/>
<circle cx="346.4" cy="88.3" r="0.5" fill="#6f7cc4" opacity="0.6"/>
<circle cx="321.1" cy="88.7" r="0.5" fill="#6f7cc4" opacity="0.6"/>
<circle cx="321.8" cy="87.1" r="0.5" fill="#6f7cc4" opacity="0.6"/>
<circle cx="335.2" cy="88.2" r="0.5" fill="#6f7cc4" opacity="0.6"/>
<circle cx="328.1" cy="87.3" r="0.5" fill="#6f7cc4" opacity="0.6"/>
<circle cx="341.4" cy="88.6" r="0.5" fill="#6f7cc4" opacity="0.6"/>
<circle cx="343.2" cy="88.6" r="0.5" fill="#6f7cc4" opacity="0.6"/>
<circle cx="323.1" cy="87.5" r="0.5" fill="#6f7cc4" opacity="0.6"/>
<circle cx="345.4" cy="87.2" r="0.5" fill="#6f7cc4" opacity="0.6"/>
<circle cx="332.9" cy="89.6" r="0.5" fill="#6f7cc4" opacity="0.6"/>
<circle cx="343.0" cy="88.0" r="0.5" fill="#6f7cc4" opacity="0.6"/>
<circle cx="328.5" cy="89.2" r="0.5" fill="#6f7cc4" opacity="0.6"/>
<circle cx="324.7" cy="89.6" r="0.5" fill="#6f7cc4" opacity="0.6"/>
<circle cx="331.4" cy="87.5" r="0.5" fill="#6f7cc4" opacity="0.6"/>
<circle cx="333.7" cy="89.5" r="0.5" fill="#6f7cc4" opacity="0.6"/>
<circle cx="328.0" cy="88.5" r="0.5" fill="#6f7cc4" opacity="0.6"/>
<circle cx="344.7" cy="85.9" r="0.5" fill="#6f7cc4" opacity="0.6"/>
<circle cx="342.5" cy="64.9" r="0.5" fill="#7c86c8" opacity="0.55"/>
<circle cx="343.6" cy="85.5" r="0.5" fill="#7c86c8" opacity="0.55"/>
<circle cx="347.0" cy="87.6" r="0.5" fill="#7c86c8" opacity="0.55"/>
<circle cx="347.8" cy="65.3" r="0.5" fill="#7c86c8" opacity="0.55"/>
<circle cx="346.8" cy="67.3" r="0.5" fill="#7c86c8" opacity="0.55"/>
<circle cx="348.6" cy="88.0" r="0.5" fill="#7c86c8" opacity="0.55"/>
<circle cx="346.1" cy="72.4" r="0.5" fill="#7c86c8" opacity="0.55"/>
<circle cx="347.7" cy="69.3" r="0.5" fill="#7c86c8" opacity="0.55"/>
<circle cx="345.2" cy="83.8" r="0.5" fill="#7c86c8" opacity="0.55"/>
<circle cx="347.2" cy="78.7" r="0.5" fill="#7c86c8" opacity="0.55"/>
<circle cx="346.2" cy="79.4" r="0.5" fill="#7c86c8" opacity="0.55"/>
<circle cx="346.8" cy="66.0" r="0.5" fill="#7c86c8" opacity="0.55"/>
<circle cx="348.0" cy="67.7" r="0.5" fill="#7c86c8" opacity="0.55"/>
<circle cx="346.4" cy="80.2" r="0.5" fill="#7c86c8" opacity="0.55"/>
<circle cx="348.7" cy="67.7" r="0.5" fill="#7c86c8" opacity="0.55"/>
<circle cx="347.9" cy="81.0" r="0.5" fill="#7c86c8" opacity="0.55"/>
<circle cx="346.6" cy="67.2" r="0.5" fill="#7c86c8" opacity="0.55"/>
<circle cx="346.1" cy="84.3" r="0.5" fill="#7c86c8" opacity="0.55"/>
<circle cx="347.5" cy="77.3" r="0.5" fill="#7c86c8" opacity="0.55"/>
<circle cx="347.2" cy="73.1" r="0.5" fill="#7c86c8" opacity="0.55"/>
<circle cx="346.8" cy="77.4" r="0.5" fill="#7c86c8" opacity="0.55"/>
<circle cx="346.1" cy="66.6" r="0.5" fill="#7c86c8" opacity="0.55"/>
<circle cx="346.0" cy="81.5" r="0.5" fill="#7c86c8" opacity="0.55"/>
<circle cx="345.4" cy="70.6" r="0.5" fill="#7c86c8" opacity="0.55"/>
<circle cx="347.2" cy="88.7" r="0.5" fill="#7c86c8" opacity="0.55"/>
<circle cx="345.7" cy="72.0" r="0.5" fill="#7c86c8" opacity="0.55"/>
<circle cx="348.4" cy="73.7" r="0.5" fill="#7c86c8" opacity="0.55"/>
<circle cx="350.1" cy="72.2" r="0.5" fill="#7c86c8" opacity="0.55"/>
<circle cx="342.4" cy="67.5" r="0.5" fill="#7c86c8" opacity="0.55"/>
<circle cx="346.4" cy="62.2" r="0.5" fill="#7c86c8" opacity="0.55"/>
<circle cx="345.4" cy="87.2" r="0.5" fill="#7c86c8" opacity="0.55"/>
<circle cx="343.9" cy="73.4" r="0.5" fill="#7c86c8" opacity="0.55"/>
<circle cx="347.9" cy="86.7" r="0.5" fill="#7c86c8" opacity="0.55"/>
<circle cx="345.6" cy="62.4" r="0.5" fill="#7c86c8" opacity="0.55"/>
<circle cx="346.7" cy="77.4" r="0.5" fill="#7c86c8" opacity="0.55"/>
<circle cx="344.3" cy="64.5" r="0.5" fill="#7c86c8" opacity="0.55"/>
<circle cx="343.8" cy="79.4" r="0.5" fill="#7c86c8" opacity="0.55"/>
<circle cx="345.2" cy="66.1" r="0.5" fill="#7c86c8" opacity="0.55"/>
<circle cx="347.9" cy="69.9" r="0.5" fill="#7c86c8" opacity="0.55"/>
<circle cx="342.9" cy="65.0" r="0.5" fill="#7c86c8" opacity="0.55"/>
<circle cx="342.9" cy="55.3" r="0.5" fill="#8a90d0" opacity="0.5"/>
<circle cx="344.4" cy="71.2" r="0.5" fill="#8a90d0" opacity="0.5"/>
<circle cx="343.5" cy="77.9" r="0.5" fill="#8a90d0" opacity="0.5"/>
<circle cx="350.0" cy="74.4" r="0.5" fill="#8a90d0" opacity="0.5"/>
<circle cx="343.4" cy="81.0" r="0.5" fill="#8a90d0" opacity="0.5"/>
<circle cx="346.6" cy="56.3" r="0.5" fill="#8a90d0" opacity="0.5"/>
<circle cx="348.9" cy="58.2" r="0.5" fill="#8a90d0" opacity="0.5"/>
<circle cx="339.5" cy="73.1" r="0.5" fill="#8a90d0" opacity="0.5"/>
<circle cx="349.2" cy="68.2" r="0.5" fill="#8a90d0" opacity="0.5"/>
<circle cx="347.5" cy="74.0" r="0.5" fill="#8a90d0" opacity="0.5"/>
<circle cx="338.6" cy="68.9" r="0.5" fill="#8a90d0" opacity="0.5"/>
<circle cx="346.2" cy="60.7" r="0.5" fill="#8a90d0" opacity="0.5"/>
<circle cx="346.5" cy="64.5" r="0.5" fill="#8a90d0" opacity="0.5"/>
<circle cx="345.2" cy="67.2" r="0.5" fill="#8a90d0" opacity="0.5"/>
<circle cx="349.6" cy="68.5" r="0.5" fill="#8a90d0" opacity="0.5"/>
<circle cx="343.4" cy="56.9" r="0.5" fill="#8a90d0" opacity="0.5"/>
<circle cx="341.8" cy="79.1" r="0.5" fill="#8a90d0" opacity="0.5"/>
<circle cx="345.6" cy="73.5" r="0.5" fill="#8a90d0" opacity="0.5"/>
<circle cx="347.2" cy="58.3" r="0.5" fill="#8a90d0" opacity="0.5"/>
<circle cx="342.5" cy="64.7" r="0.5" fill="#8a90d0" opacity="0.5"/>
<circle cx="347.4" cy="61.1" r="0.5" fill="#8a90d0" opacity="0.5"/>
<circle cx="342.2" cy="63.2" r="0.5" fill="#8a90d0" opacity="0.5"/>
<circle cx="340.8" cy="65.7" r="0.5" fill="#8a90d0" opacity="0.5"/>
<circle cx="344.3" cy="61.5" r="0.5" fill="#8a90d0" opacity="0.5"/>
<circle cx="341.2" cy="68.0" r="0.5" fill="#8a90d0" opacity="0.5"/>
<circle cx="349.9" cy="68.3" r="0.5" fill="#8a90d0" opacity="0.5"/>
<circle cx="340.2" cy="70.2" r="0.5" fill="#8a90d0" opacity="0.5"/>
<circle cx="347.6" cy="69.7" r="0.5" fill="#8a90d0" opacity="0.5"/>
<circle cx="345.1" cy="64.4" r="0.5" fill="#8a90d0" opacity="0.5"/>
<circle cx="344.6" cy="59.7" r="0.5" fill="#8a90d0" opacity="0.5"/>
<circle cx="345.5" cy="75.9" r="0.5" fill="#8a90d0" opacity="0.5"/>
<circle cx="345.3" cy="76.2" r="0.5" fill="#8a90d0" opacity="0.5"/>
<circle cx="346.8" cy="68.3" r="0.5" fill="#8a90d0" opacity="0.5"/>
<circle cx="339.9" cy="74.3" r="0.5" fill="#8a90d0" opacity="0.5"/>
<circle cx="345.4" cy="55.5" r="0.5" fill="#8a90d0" opacity="0.5"/>
<circle cx="350.0" cy="75.4" r="0.5" fill="#8a90d0" opacity="0.5"/>
<circle cx="349.2" cy="77.5" r="0.5" fill="#8a90d0" opacity="0.5"/>
<circle cx="343.9" cy="68.7" r="0.5" fill="#8a90d0" opacity="0.5"/>
<circle cx="341.9" cy="74.5" r="0.5" fill="#8a90d0" opacity="0.5"/>
<circle cx="343.5" cy="80.9" r="0.5" fill="#8a90d0" opacity="0.5"/>
<circle cx="341.9" cy="72.8" r="0.5" fill="#8a90d0" opacity="0.5"/>
<circle cx="349.3" cy="69.2" r="0.5" fill="#8a90d0" opacity="0.5"/>
<circle cx="343.5" cy="60.5" r="0.5" fill="#8a90d0" opacity="0.5"/>
<circle cx="348.7" cy="74.5" r="0.5" fill="#8a90d0" opacity="0.5"/>
<circle cx="350.3" cy="65.1" r="0.5" fill="#8a90d0" opacity="0.5"/>
<circle cx="350.4" cy="71.8" r="0.5" fill="#8a90d0" opacity="0.5"/>
<circle cx="347.2" cy="70.9" r="0.5" fill="#8a90d0" opacity="0.5"/>
<circle cx="342.8" cy="66.4" r="0.5" fill="#8a90d0" opacity="0.5"/>
<circle cx="348.1" cy="66.3" r="0.5" fill="#8a90d0" opacity="0.5"/>
<circle cx="344.9" cy="68.6" r="0.5" fill="#8a90d0" opacity="0.5"/>
<circle cx="345.9" cy="76.0" r="0.5" fill="#8a90d0" opacity="0.5"/>
<circle cx="341.9" cy="70.1" r="0.5" fill="#8a90d0" opacity="0.5"/>
<circle cx="342.7" cy="67.7" r="0.5" fill="#8a90d0" opacity="0.5"/>
<circle cx="342.3" cy="57.9" r="0.5" fill="#8a90d0" opacity="0.5"/>
<circle cx="343.0" cy="58.6" r="0.5" fill="#8a90d0" opacity="0.5"/>
<circle cx="349.5" cy="58.9" r="0.5" fill="#8a90d0" opacity="0.5"/>
<circle cx="342.4" cy="69.3" r="0.5" fill="#8a90d0" opacity="0.5"/>
<circle cx="342.9" cy="76.2" r="0.5" fill="#8a90d0" opacity="0.5"/>
<circle cx="343.8" cy="57.9" r="0.5" fill="#8a90d0" opacity="0.5"/>
<circle cx="347.9" cy="65.2" r="0.5" fill="#8a90d0" opacity="0.5"/>
<circle cx="354.6" cy="61.6" r="0.5" fill="#8a90d0" opacity="0.5"/>
<circle cx="342.5" cy="67.6" r="0.5" fill="#8a90d0" opacity="0.5"/>
<circle cx="340.2" cy="71.8" r="0.5" fill="#8a90d0" opacity="0.5"/>
<circle cx="349.2" cy="78.5" r="0.5" fill="#8a90d0" opacity="0.5"/>
<circle cx="345.9" cy="66.8" r="0.5" fill="#8a90d0" opacity="0.5"/>
<circle cx="349.0" cy="75.6" r="0.5" fill="#8a90d0" opacity="0.5"/>
<circle cx="343.5" cy="64.1" r="0.5" fill="#8a90d0" opacity="0.5"/>
<circle cx="341.4" cy="68.7" r="0.5" fill="#8a90d0" opacity="0.5"/>
<circle cx="344.0" cy="72.3" r="0.5" fill="#8a90d0" opacity="0.5"/>
<circle cx="347.9" cy="59.9" r="0.5" fill="#8a90d0" opacity="0.5"/>
<circle cx="345.5" cy="86.8" r="0.45" fill="#d8c050" opacity="0.6"/>
<circle cx="343.0" cy="86.4" r="0.45" fill="#d8c050" opacity="0.6"/>
<circle cx="348.3" cy="86.1" r="0.45" fill="#d8c050" opacity="0.6"/>
<circle cx="344.0" cy="85.4" r="0.45" fill="#d8c050" opacity="0.6"/>
<circle cx="345.1" cy="85.1" r="0.45" fill="#d8c050" opacity="0.6"/>
<circle cx="345.7" cy="83.7" r="0.45" fill="#d8c050" opacity="0.6"/>
<circle cx="342.0" cy="86.8" r="0.45" fill="#d8c050" opacity="0.6"/>
<circle cx="348.0" cy="84.9" r="0.45" fill="#d8c050" opacity="0.6"/>
<circle cx="344.3" cy="87.4" r="0.45" fill="#d8c050" opacity="0.6"/>
<circle cx="343.1" cy="86.5" r="0.45" fill="#d8c050" opacity="0.6"/>
<circle cx="345.1" cy="83.4" r="0.45" fill="#d8c050" opacity="0.6"/>
<circle cx="339.4" cy="86.4" r="0.45" fill="#d8c050" opacity="0.6"/>
<circle cx="341.0" cy="86.0" r="0.45" fill="#d8c050" opacity="0.6"/>
<circle cx="344.5" cy="84.4" r="0.45" fill="#d8c050" opacity="0.6"/>
<circle cx="344.0" cy="65.8" r="0.45" fill="#d8c050" opacity="0.5"/>
<circle cx="348.3" cy="59.0" r="0.45" fill="#d8c050" opacity="0.5"/>
<circle cx="347.6" cy="69.6" r="0.45" fill="#d8c050" opacity="0.5"/>
<circle cx="344.5" cy="71.2" r="0.45" fill="#d8c050" opacity="0.5"/>
<circle cx="345.7" cy="65.0" r="0.45" fill="#d8c050" opacity="0.5"/>
<circle cx="345.6" cy="70.1" r="0.45" fill="#d8c050" opacity="0.5"/>
<circle cx="434.9" cy="89.4" r="0.5" fill="#6f7cc4" opacity="0.6"/>
<circle cx="426.0" cy="86.5" r="0.5" fill="#6f7cc4" opacity="0.6"/>
<circle cx="427.5" cy="88.2" r="0.5" fill="#6f7cc4" opacity="0.6"/>
<circle cx="428.2" cy="88.0" r="0.5" fill="#6f7cc4" opacity="0.6"/>
<circle cx="433.3" cy="88.2" r="0.5" fill="#6f7cc4" opacity="0.6"/>
<circle cx="435.3" cy="89.4" r="0.5" fill="#6f7cc4" opacity="0.6"/>
<circle cx="429.4" cy="89.8" r="0.5" fill="#6f7cc4" opacity="0.6"/>
<circle cx="426.5" cy="90.5" r="0.5" fill="#6f7cc4" opacity="0.6"/>
<circle cx="434.1" cy="87.8" r="0.5" fill="#6f7cc4" opacity="0.6"/>
<circle cx="426.0" cy="90.0" r="0.5" fill="#6f7cc4" opacity="0.6"/>
<circle cx="431.3" cy="87.5" r="0.5" fill="#6f7cc4" opacity="0.6"/>
<circle cx="434.4" cy="88.2" r="0.5" fill="#6f7cc4" opacity="0.6"/>
<circle cx="427.1" cy="89.2" r="0.5" fill="#6f7cc4" opacity="0.6"/>
<circle cx="428.6" cy="90.0" r="0.5" fill="#6f7cc4" opacity="0.6"/>
<circle cx="434.5" cy="89.2" r="0.5" fill="#6f7cc4" opacity="0.6"/>
<circle cx="433.9" cy="90.0" r="0.5" fill="#6f7cc4" opacity="0.6"/>
<circle cx="429.0" cy="87.6" r="0.5" fill="#6f7cc4" opacity="0.6"/>
<circle cx="432.3" cy="87.2" r="0.5" fill="#6f7cc4" opacity="0.6"/>
<circle cx="431.9" cy="89.8" r="0.5" fill="#6f7cc4" opacity="0.6"/>
<circle cx="429.0" cy="87.2" r="0.5" fill="#6f7cc4" opacity="0.6"/>
<circle cx="428.4" cy="86.8" r="0.5" fill="#6f7cc4" opacity="0.6"/>
<circle cx="436.0" cy="89.9" r="0.5" fill="#6f7cc4" opacity="0.6"/>
<circle cx="428.6" cy="89.1" r="0.5" fill="#6f7cc4" opacity="0.6"/>
<circle cx="434.5" cy="90.7" r="0.5" fill="#6f7cc4" opacity="0.6"/>
<circle cx="429.7" cy="88.4" r="0.5" fill="#6f7cc4" opacity="0.6"/>
<circle cx="436.0" cy="88.6" r="0.5" fill="#6f7cc4" opacity="0.6"/>
<circle cx="436.3" cy="89.7" r="0.5" fill="#6f7cc4" opacity="0.6"/>
<circle cx="433.2" cy="88.4" r="0.5" fill="#6f7cc4" opacity="0.6"/>
<circle cx="437.2" cy="87.5" r="0.5" fill="#6f7cc4" opacity="0.6"/>
<circle cx="431.3" cy="89.9" r="0.5" fill="#6f7cc4" opacity="0.6"/>
<circle cx="435.8" cy="87.6" r="0.5" fill="#6f7cc4" opacity="0.6"/>
<circle cx="430.9" cy="88.8" r="0.5" fill="#6f7cc4" opacity="0.6"/>
<circle cx="429.4" cy="87.6" r="0.5" fill="#6f7cc4" opacity="0.6"/>
<circle cx="428.3" cy="88.7" r="0.5" fill="#6f7cc4" opacity="0.6"/>
<circle cx="436.4" cy="88.7" r="0.5" fill="#6f7cc4" opacity="0.6"/>
<circle cx="427.6" cy="89.5" r="0.5" fill="#6f7cc4" opacity="0.6"/>
<circle cx="436.6" cy="89.1" r="0.5" fill="#6f7cc4" opacity="0.6"/>
<circle cx="429.9" cy="89.2" r="0.5" fill="#6f7cc4" opacity="0.6"/>
<circle cx="426.4" cy="89.2" r="0.5" fill="#6f7cc4" opacity="0.6"/>
<circle cx="433.9" cy="87.9" r="0.5" fill="#6f7cc4" opacity="0.6"/>
<circle cx="434.4" cy="87.7" r="0.5" fill="#6f7cc4" opacity="0.6"/>
<circle cx="426.7" cy="88.1" r="0.5" fill="#6f7cc4" opacity="0.6"/>
<circle cx="435.3" cy="88.4" r="0.5" fill="#6f7cc4" opacity="0.6"/>
<circle cx="435.3" cy="89.3" r="0.5" fill="#6f7cc4" opacity="0.6"/>
<circle cx="435.9" cy="88.7" r="0.5" fill="#6f7cc4" opacity="0.6"/>
<circle cx="475.0" cy="87.9" r="0.5" fill="#6f7cc4" opacity="0.6"/>
<circle cx="454.8" cy="88.4" r="0.5" fill="#6f7cc4" opacity="0.6"/>
<circle cx="450.6" cy="90.6" r="0.5" fill="#6f7cc4" opacity="0.6"/>
<circle cx="472.7" cy="88.0" r="0.5" fill="#6f7cc4" opacity="0.6"/>
<circle cx="468.3" cy="88.6" r="0.5" fill="#6f7cc4" opacity="0.6"/>
<circle cx="457.9" cy="87.2" r="0.5" fill="#6f7cc4" opacity="0.6"/>
<circle cx="449.9" cy="90.1" r="0.5" fill="#6f7cc4" opacity="0.6"/>
<circle cx="454.8" cy="89.5" r="0.5" fill="#6f7cc4" opacity="0.6"/>
<circle cx="459.0" cy="88.2" r="0.5" fill="#6f7cc4" opacity="0.6"/>
<circle cx="456.8" cy="88.6" r="0.5" fill="#6f7cc4" opacity="0.6"/>
<circle cx="457.8" cy="88.3" r="0.5" fill="#6f7cc4" opacity="0.6"/>
<circle cx="459.1" cy="87.5" r="0.5" fill="#6f7cc4" opacity="0.6"/>
<circle cx="476.1" cy="85.4" r="0.5" fill="#6f7cc4" opacity="0.6"/>
<circle cx="467.9" cy="87.9" r="0.5" fill="#6f7cc4" opacity="0.6"/>
<circle cx="445.4" cy="87.9" r="0.5" fill="#6f7cc4" opacity="0.6"/>
<circle cx="471.7" cy="88.3" r="0.5" fill="#6f7cc4" opacity="0.6"/>
<circle cx="460.0" cy="88.0" r="0.5" fill="#6f7cc4" opacity="0.6"/>
<circle cx="455.3" cy="87.4" r="0.5" fill="#6f7cc4" opacity="0.6"/>
<circle cx="473.8" cy="89.1" r="0.5" fill="#6f7cc4" opacity="0.6"/>
<circle cx="453.3" cy="89.6" r="0.5" fill="#6f7cc4" opacity="0.6"/>
<circle cx="441.6" cy="89.3" r="0.5" fill="#6f7cc4" opacity="0.6"/>
<circle cx="476.4" cy="89.0" r="0.5" fill="#6f7cc4" opacity="0.6"/>
<circle cx="442.3" cy="87.6" r="0.5" fill="#6f7cc4" opacity="0.6"/>
<circle cx="472.3" cy="87.7" r="0.5" fill="#6f7cc4" opacity="0.6"/>
<circle cx="454.0" cy="87.7" r="0.5" fill="#6f7cc4" opacity="0.6"/>
<circle cx="473.1" cy="87.6" r="0.5" fill="#6f7cc4" opacity="0.6"/>
<circle cx="457.0" cy="89.3" r="0.5" fill="#6f7cc4" opacity="0.6"/>
<circle cx="455.2" cy="88.3" r="0.5" fill="#6f7cc4" opacity="0.6"/>
<circle cx="470.0" cy="87.3" r="0.5" fill="#6f7cc4" opacity="0.6"/>
<circle cx="468.4" cy="87.9" r="0.5" fill="#6f7cc4" opacity="0.6"/>
<circle cx="448.9" cy="89.1" r="0.5" fill="#6f7cc4" opacity="0.6"/>
<circle cx="472.1" cy="86.2" r="0.5" fill="#6f7cc4" opacity="0.6"/>
<circle cx="468.1" cy="87.3" r="0.5" fill="#6f7cc4" opacity="0.6"/>
<circle cx="461.5" cy="89.1" r="0.5" fill="#6f7cc4" opacity="0.6"/>
<circle cx="474.5" cy="89.3" r="0.5" fill="#6f7cc4" opacity="0.6"/>
<circle cx="444.9" cy="89.9" r="0.5" fill="#6f7cc4" opacity="0.6"/>
<circle cx="454.9" cy="88.4" r="0.5" fill="#6f7cc4" opacity="0.6"/>
<circle cx="464.7" cy="90.3" r="0.5" fill="#6f7cc4" opacity="0.6"/>
<circle cx="461.0" cy="88.9" r="0.5" fill="#6f7cc4" opacity="0.6"/>
<circle cx="463.5" cy="87.7" r="0.5" fill="#6f7cc4" opacity="0.6"/>
<circle cx="465.5" cy="88.1" r="0.5" fill="#6f7cc4" opacity="0.6"/>
<circle cx="468.6" cy="86.2" r="0.5" fill="#6f7cc4" opacity="0.6"/>
<circle cx="460.0" cy="88.1" r="0.5" fill="#6f7cc4" opacity="0.6"/>
<circle cx="473.4" cy="88.1" r="0.5" fill="#6f7cc4" opacity="0.6"/>
<circle cx="469.0" cy="87.9" r="0.5" fill="#6f7cc4" opacity="0.6"/>
<circle cx="462.9" cy="87.6" r="0.5" fill="#6f7cc4" opacity="0.6"/>
<circle cx="471.8" cy="87.2" r="0.5" fill="#6f7cc4" opacity="0.6"/>
<circle cx="463.6" cy="88.0" r="0.5" fill="#6f7cc4" opacity="0.6"/>
<circle cx="474.4" cy="87.6" r="0.5" fill="#6f7cc4" opacity="0.6"/>
<circle cx="458.4" cy="89.1" r="0.5" fill="#6f7cc4" opacity="0.6"/>
<circle cx="470.0" cy="88.1" r="0.5" fill="#6f7cc4" opacity="0.6"/>
<circle cx="452.7" cy="88.2" r="0.5" fill="#6f7cc4" opacity="0.6"/>
<circle cx="456.5" cy="88.0" r="0.5" fill="#6f7cc4" opacity="0.6"/>
<circle cx="452.9" cy="89.7" r="0.5" fill="#6f7cc4" opacity="0.6"/>
<circle cx="459.3" cy="89.4" r="0.5" fill="#6f7cc4" opacity="0.6"/>
<circle cx="470.7" cy="90.3" r="0.5" fill="#6f7cc4" opacity="0.6"/>
<circle cx="450.0" cy="89.2" r="0.5" fill="#6f7cc4" opacity="0.6"/>
<circle cx="461.2" cy="88.2" r="0.5" fill="#6f7cc4" opacity="0.6"/>
<circle cx="476.5" cy="87.8" r="0.5" fill="#6f7cc4" opacity="0.6"/>
<circle cx="462.7" cy="86.7" r="0.5" fill="#6f7cc4" opacity="0.6"/>
<circle cx="454.4" cy="88.3" r="0.5" fill="#6f7cc4" opacity="0.6"/>
<circle cx="454.9" cy="88.2" r="0.5" fill="#6f7cc4" opacity="0.6"/>
<circle cx="461.3" cy="89.3" r="0.5" fill="#6f7cc4" opacity="0.6"/>
<circle cx="472.2" cy="87.9" r="0.5" fill="#6f7cc4" opacity="0.6"/>
<circle cx="469.8" cy="86.4" r="0.5" fill="#6f7cc4" opacity="0.6"/>
<circle cx="463.6" cy="88.2" r="0.5" fill="#6f7cc4" opacity="0.6"/>
<circle cx="452.1" cy="87.8" r="0.5" fill="#6f7cc4" opacity="0.6"/>
<circle cx="471.0" cy="87.1" r="0.5" fill="#6f7cc4" opacity="0.6"/>
<circle cx="474.9" cy="86.3" r="0.5" fill="#6f7cc4" opacity="0.6"/>
<circle cx="471.2" cy="88.3" r="0.5" fill="#6f7cc4" opacity="0.6"/>
<circle cx="462.3" cy="88.5" r="0.5" fill="#6f7cc4" opacity="0.6"/>
<circle cx="474.2" cy="89.1" r="0.5" fill="#6f7cc4" opacity="0.6"/>
<circle cx="471.8" cy="87.1" r="0.5" fill="#6f7cc4" opacity="0.6"/>
<circle cx="469.5" cy="86.0" r="0.5" fill="#6f7cc4" opacity="0.6"/>
<circle cx="468.5" cy="87.1" r="0.5" fill="#6f7cc4" opacity="0.6"/>
<circle cx="468.1" cy="88.2" r="0.5" fill="#6f7cc4" opacity="0.6"/>
<circle cx="449.8" cy="87.2" r="0.5" fill="#6f7cc4" opacity="0.6"/>
<circle cx="470.3" cy="88.6" r="0.5" fill="#6f7cc4" opacity="0.6"/>
<circle cx="468.2" cy="87.9" r="0.5" fill="#6f7cc4" opacity="0.6"/>
<circle cx="463.4" cy="89.3" r="0.5" fill="#6f7cc4" opacity="0.6"/>
<circle cx="468.0" cy="86.7" r="0.5" fill="#6f7cc4" opacity="0.6"/>
<circle cx="475.4" cy="88.2" r="0.5" fill="#6f7cc4" opacity="0.6"/>
<circle cx="453.9" cy="87.6" r="0.5" fill="#6f7cc4" opacity="0.6"/>
<circle cx="461.3" cy="86.9" r="0.5" fill="#6f7cc4" opacity="0.6"/>
<circle cx="464.4" cy="88.4" r="0.5" fill="#6f7cc4" opacity="0.6"/>
<circle cx="465.9" cy="88.0" r="0.5" fill="#6f7cc4" opacity="0.6"/>
<circle cx="452.9" cy="89.1" r="0.5" fill="#6f7cc4" opacity="0.6"/>
<circle cx="465.2" cy="85.8" r="0.5" fill="#6f7cc4" opacity="0.6"/>
<circle cx="450.0" cy="87.6" r="0.5" fill="#6f7cc4" opacity="0.6"/>
<circle cx="470.4" cy="87.2" r="0.5" fill="#6f7cc4" opacity="0.6"/>
<circle cx="465.0" cy="86.9" r="0.5" fill="#6f7cc4" opacity="0.6"/>
<circle cx="465.3" cy="86.7" r="0.5" fill="#6f7cc4" opacity="0.6"/>
<circle cx="462.0" cy="88.9" r="0.5" fill="#6f7cc4" opacity="0.6"/>
<circle cx="469.6" cy="87.6" r="0.5" fill="#6f7cc4" opacity="0.6"/>
<circle cx="461.4" cy="88.4" r="0.5" fill="#6f7cc4" opacity="0.6"/>
<circle cx="476.6" cy="86.8" r="0.5" fill="#6f7cc4" opacity="0.6"/>
<circle cx="460.3" cy="89.1" r="0.5" fill="#6f7cc4" opacity="0.6"/>
<circle cx="461.7" cy="88.6" r="0.5" fill="#6f7cc4" opacity="0.6"/>
<circle cx="443.6" cy="87.9" r="0.5" fill="#6f7cc4" opacity="0.6"/>
<circle cx="469.9" cy="88.3" r="0.5" fill="#6f7cc4" opacity="0.6"/>
<circle cx="460.1" cy="88.3" r="0.5" fill="#6f7cc4" opacity="0.6"/>
<circle cx="471.0" cy="88.5" r="0.5" fill="#6f7cc4" opacity="0.6"/>
<circle cx="475.6" cy="86.7" r="0.5" fill="#6f7cc4" opacity="0.6"/>
<circle cx="472.4" cy="87.5" r="0.5" fill="#6f7cc4" opacity="0.6"/>
<circle cx="461.4" cy="88.4" r="0.5" fill="#6f7cc4" opacity="0.6"/>
<circle cx="471.8" cy="88.2" r="0.5" fill="#6f7cc4" opacity="0.6"/>
<circle cx="472.6" cy="86.9" r="0.5" fill="#6f7cc4" opacity="0.6"/>
<circle cx="466.4" cy="87.2" r="0.5" fill="#6f7cc4" opacity="0.6"/>
<circle cx="455.6" cy="89.5" r="0.5" fill="#6f7cc4" opacity="0.6"/>
<circle cx="468.4" cy="87.7" r="0.5" fill="#6f7cc4" opacity="0.6"/>
<circle cx="472.8" cy="88.1" r="0.5" fill="#6f7cc4" opacity="0.6"/>
<circle cx="458.2" cy="87.4" r="0.5" fill="#6f7cc4" opacity="0.6"/>
<circle cx="466.0" cy="89.4" r="0.5" fill="#6f7cc4" opacity="0.6"/>
<circle cx="460.2" cy="89.7" r="0.5" fill="#6f7cc4" opacity="0.6"/>
<circle cx="473.6" cy="87.5" r="0.5" fill="#6f7cc4" opacity="0.6"/>
<circle cx="456.7" cy="89.5" r="0.5" fill="#6f7cc4" opacity="0.6"/>
<circle cx="462.5" cy="88.3" r="0.5" fill="#6f7cc4" opacity="0.6"/>
<circle cx="470.5" cy="87.9" r="0.5" fill="#6f7cc4" opacity="0.6"/>
<circle cx="457.7" cy="88.5" r="0.5" fill="#6f7cc4" opacity="0.6"/>
<circle cx="464.1" cy="89.0" r="0.5" fill="#6f7cc4" opacity="0.6"/>
<circle cx="472.3" cy="80.5" r="0.5" fill="#7c86c8" opacity="0.55"/>
<circle cx="475.4" cy="72.1" r="0.5" fill="#7c86c8" opacity="0.55"/>
<circle cx="477.2" cy="63.6" r="0.5" fill="#7c86c8" opacity="0.55"/>
<circle cx="473.0" cy="85.2" r="0.5" fill="#7c86c8" opacity="0.55"/>
<circle cx="476.7" cy="65.9" r="0.5" fill="#7c86c8" opacity="0.55"/>
<circle cx="472.8" cy="85.3" r="0.5" fill="#7c86c8" opacity="0.55"/>
<circle cx="474.2" cy="62.3" r="0.5" fill="#7c86c8" opacity="0.55"/>
<circle cx="474.2" cy="88.6" r="0.5" fill="#7c86c8" opacity="0.55"/>
<circle cx="473.7" cy="64.8" r="0.5" fill="#7c86c8" opacity="0.55"/>
<circle cx="473.4" cy="66.0" r="0.5" fill="#7c86c8" opacity="0.55"/>
<circle cx="474.7" cy="71.7" r="0.5" fill="#7c86c8" opacity="0.55"/>
<circle cx="477.2" cy="66.3" r="0.5" fill="#7c86c8" opacity="0.55"/>
<circle cx="476.7" cy="66.7" r="0.5" fill="#7c86c8" opacity="0.55"/>
<circle cx="472.8" cy="87.0" r="0.5" fill="#7c86c8" opacity="0.55"/>
<circle cx="472.2" cy="80.7" r="0.5" fill="#7c86c8" opacity="0.55"/>
<circle cx="472.6" cy="87.0" r="0.5" fill="#7c86c8" opacity="0.55"/>
<circle cx="475.1" cy="67.5" r="0.5" fill="#7c86c8" opacity="0.55"/>
<circle cx="471.4" cy="81.4" r="0.5" fill="#7c86c8" opacity="0.55"/>
<circle cx="471.8" cy="74.3" r="0.5" fill="#7c86c8" opacity="0.55"/>
<circle cx="473.9" cy="86.7" r="0.5" fill="#7c86c8" opacity="0.55"/>
<circle cx="473.2" cy="68.6" r="0.5" fill="#7c86c8" opacity="0.55"/>
<circle cx="474.0" cy="65.9" r="0.5" fill="#7c86c8" opacity="0.55"/>
<circle cx="473.8" cy="75.1" r="0.5" fill="#7c86c8" opacity="0.55"/>
<circle cx="474.4" cy="66.0" r="0.5" fill="#7c86c8" opacity="0.55"/>
<circle cx="472.5" cy="77.1" r="0.5" fill="#7c86c8" opacity="0.55"/>
<circle cx="474.5" cy="86.2" r="0.5" fill="#7c86c8" opacity="0.55"/>
<circle cx="477.5" cy="75.1" r="0.5" fill="#7c86c8" opacity="0.55"/>
<circle cx="474.5" cy="77.8" r="0.5" fill="#7c86c8" opacity="0.55"/>
<circle cx="472.8" cy="72.5" r="0.5" fill="#7c86c8" opacity="0.55"/>
<circle cx="471.8" cy="73.7" r="0.5" fill="#7c86c8" opacity="0.55"/>
<circle cx="475.0" cy="79.8" r="0.5" fill="#7c86c8" opacity="0.55"/>
<circle cx="474.2" cy="79.8" r="0.5" fill="#7c86c8" opacity="0.55"/>
<circle cx="476.6" cy="81.1" r="0.5" fill="#7c86c8" opacity="0.55"/>
<circle cx="474.8" cy="88.1" r="0.5" fill="#7c86c8" opacity="0.55"/>
<circle cx="472.2" cy="76.3" r="0.5" fill="#7c86c8" opacity="0.55"/>
<circle cx="478.4" cy="75.6" r="0.5" fill="#7c86c8" opacity="0.55"/>
<circle cx="474.7" cy="82.1" r="0.5" fill="#7c86c8" opacity="0.55"/>
<circle cx="474.1" cy="79.5" r="0.5" fill="#7c86c8" opacity="0.55"/>
<circle cx="472.7" cy="72.3" r="0.5" fill="#7c86c8" opacity="0.55"/>
<circle cx="477.1" cy="75.3" r="0.5" fill="#7c86c8" opacity="0.55"/>
<circle cx="466.0" cy="65.2" r="0.5" fill="#8a90d0" opacity="0.5"/>
<circle cx="472.8" cy="73.7" r="0.5" fill="#8a90d0" opacity="0.5"/>
<circle cx="468.0" cy="70.9" r="0.5" fill="#8a90d0" opacity="0.5"/>
<circle cx="473.3" cy="62.2" r="0.5" fill="#8a90d0" opacity="0.5"/>
<circle cx="473.6" cy="61.2" r="0.5" fill="#8a90d0" opacity="0.5"/>
<circle cx="469.1" cy="66.9" r="0.5" fill="#8a90d0" opacity="0.5"/>
<circle cx="462.4" cy="66.3" r="0.5" fill="#8a90d0" opacity="0.5"/>
<circle cx="468.4" cy="57.5" r="0.5" fill="#8a90d0" opacity="0.5"/>
<circle cx="470.4" cy="72.0" r="0.5" fill="#8a90d0" opacity="0.5"/>
<circle cx="470.5" cy="75.2" r="0.5" fill="#8a90d0" opacity="0.5"/>
<circle cx="467.8" cy="58.5" r="0.5" fill="#8a90d0" opacity="0.5"/>
<circle cx="477.3" cy="69.6" r="0.5" fill="#8a90d0" opacity="0.5"/>
<circle cx="475.2" cy="61.6" r="0.5" fill="#8a90d0" opacity="0.5"/>
<circle cx="474.7" cy="68.7" r="0.5" fill="#8a90d0" opacity="0.5"/>
<circle cx="474.2" cy="67.2" r="0.5" fill="#8a90d0" opacity="0.5"/>
<circle cx="476.1" cy="62.8" r="0.5" fill="#8a90d0" opacity="0.5"/>
<circle cx="468.5" cy="57.4" r="0.5" fill="#8a90d0" opacity="0.5"/>
<circle cx="476.0" cy="62.2" r="0.5" fill="#8a90d0" opacity="0.5"/>
<circle cx="468.2" cy="60.9" r="0.5" fill="#8a90d0" opacity="0.5"/>
<circle cx="470.3" cy="58.7" r="0.5" fill="#8a90d0" opacity="0.5"/>
<circle cx="470.9" cy="62.9" r="0.5" fill="#8a90d0" opacity="0.5"/>
<circle cx="470.0" cy="60.8" r="0.5" fill="#8a90d0" opacity="0.5"/>
<circle cx="472.0" cy="64.0" r="0.5" fill="#8a90d0" opacity="0.5"/>
<circle cx="472.3" cy="68.6" r="0.5" fill="#8a90d0" opacity="0.5"/>
<circle cx="473.1" cy="52.8" r="0.5" fill="#8a90d0" opacity="0.5"/>
<circle cx="470.0" cy="61.8" r="0.5" fill="#8a90d0" opacity="0.5"/>
<circle cx="474.6" cy="56.7" r="0.5" fill="#8a90d0" opacity="0.5"/>
<circle cx="469.4" cy="65.1" r="0.5" fill="#8a90d0" opacity="0.5"/>
<circle cx="470.7" cy="73.4" r="0.5" fill="#8a90d0" opacity="0.5"/>
<circle cx="470.4" cy="73.3" r="0.5" fill="#8a90d0" opacity="0.5"/>
<circle cx="466.8" cy="55.2" r="0.5" fill="#8a90d0" opacity="0.5"/>
<circle cx="476.2" cy="69.8" r="0.5" fill="#8a90d0" opacity="0.5"/>
<circle cx="473.6" cy="67.8" r="0.5" fill="#8a90d0" opacity="0.5"/>
<circle cx="473.6" cy="59.1" r="0.5" fill="#8a90d0" opacity="0.5"/>
<circle cx="475.2" cy="63.5" r="0.5" fill="#8a90d0" opacity="0.5"/>
<circle cx="475.3" cy="67.6" r="0.5" fill="#8a90d0" opacity="0.5"/>
<circle cx="465.0" cy="58.6" r="0.5" fill="#8a90d0" opacity="0.5"/>
<circle cx="475.8" cy="66.1" r="0.5" fill="#8a90d0" opacity="0.5"/>
<circle cx="470.5" cy="68.6" r="0.5" fill="#8a90d0" opacity="0.5"/>
<circle cx="470.4" cy="63.5" r="0.5" fill="#8a90d0" opacity="0.5"/>
<circle cx="472.3" cy="67.9" r="0.5" fill="#8a90d0" opacity="0.5"/>
<circle cx="477.2" cy="67.3" r="0.5" fill="#8a90d0" opacity="0.5"/>
<circle cx="478.5" cy="78.7" r="0.5" fill="#8a90d0" opacity="0.5"/>
<circle cx="477.9" cy="73.9" r="0.5" fill="#8a90d0" opacity="0.5"/>
<circle cx="472.4" cy="67.9" r="0.5" fill="#8a90d0" opacity="0.5"/>
<circle cx="471.4" cy="62.2" r="0.5" fill="#8a90d0" opacity="0.5"/>
<circle cx="471.7" cy="62.8" r="0.5" fill="#8a90d0" opacity="0.5"/>
<circle cx="477.6" cy="70.5" r="0.5" fill="#8a90d0" opacity="0.5"/>
<circle cx="470.3" cy="54.5" r="0.5" fill="#8a90d0" opacity="0.5"/>
<circle cx="471.7" cy="64.3" r="0.5" fill="#8a90d0" opacity="0.5"/>
<circle cx="468.1" cy="59.6" r="0.5" fill="#8a90d0" opacity="0.5"/>
<circle cx="464.0" cy="70.7" r="0.5" fill="#8a90d0" opacity="0.5"/>
<circle cx="471.7" cy="83.8" r="0.5" fill="#8a90d0" opacity="0.5"/>
<circle cx="471.8" cy="66.0" r="0.5" fill="#8a90d0" opacity="0.5"/>
<circle cx="477.0" cy="67.9" r="0.5" fill="#8a90d0" opacity="0.5"/>
<circle cx="472.5" cy="64.6" r="0.5" fill="#8a90d0" opacity="0.5"/>
<circle cx="469.8" cy="76.7" r="0.5" fill="#8a90d0" opacity="0.5"/>
<circle cx="475.4" cy="78.2" r="0.5" fill="#8a90d0" opacity="0.5"/>
<circle cx="470.7" cy="67.2" r="0.5" fill="#8a90d0" opacity="0.5"/>
<circle cx="468.8" cy="73.3" r="0.5" fill="#8a90d0" opacity="0.5"/>
<circle cx="467.0" cy="70.7" r="0.5" fill="#8a90d0" opacity="0.5"/>
<circle cx="475.7" cy="76.2" r="0.5" fill="#8a90d0" opacity="0.5"/>
<circle cx="468.6" cy="74.1" r="0.5" fill="#8a90d0" opacity="0.5"/>
<circle cx="469.4" cy="62.1" r="0.5" fill="#8a90d0" opacity="0.5"/>
<circle cx="467.3" cy="74.5" r="0.5" fill="#8a90d0" opacity="0.5"/>
<circle cx="477.7" cy="63.1" r="0.5" fill="#8a90d0" opacity="0.5"/>
<circle cx="469.2" cy="64.8" r="0.5" fill="#8a90d0" opacity="0.5"/>
<circle cx="480.7" cy="73.5" r="0.5" fill="#8a90d0" opacity="0.5"/>
<circle cx="470.0" cy="55.3" r="0.5" fill="#8a90d0" opacity="0.5"/>
<circle cx="469.5" cy="74.7" r="0.5" fill="#8a90d0" opacity="0.5"/>
<circle cx="477.5" cy="85.5" r="0.45" fill="#d8c050" opacity="0.6"/>
<circle cx="469.8" cy="85.0" r="0.45" fill="#d8c050" opacity="0.6"/>
<circle cx="466.2" cy="87.8" r="0.45" fill="#d8c050" opacity="0.6"/>
<circle cx="468.6" cy="88.1" r="0.45" fill="#d8c050" opacity="0.6"/>
<circle cx="466.8" cy="83.5" r="0.45" fill="#d8c050" opacity="0.6"/>
<circle cx="472.8" cy="84.5" r="0.45" fill="#d8c050" opacity="0.6"/>
<circle cx="474.2" cy="86.0" r="0.45" fill="#d8c050" opacity="0.6"/>
<circle cx="468.4" cy="87.2" r="0.45" fill="#d8c050" opacity="0.6"/>
<circle cx="474.4" cy="82.2" r="0.45" fill="#d8c050" opacity="0.6"/>
<circle cx="477.4" cy="87.0" r="0.45" fill="#d8c050" opacity="0.6"/>
<circle cx="474.2" cy="82.3" r="0.45" fill="#d8c050" opacity="0.6"/>
<circle cx="469.7" cy="85.3" r="0.45" fill="#d8c050" opacity="0.6"/>
<circle cx="475.1" cy="83.1" r="0.45" fill="#d8c050" opacity="0.6"/>
<circle cx="469.2" cy="81.9" r="0.45" fill="#d8c050" opacity="0.6"/>
<circle cx="473.4" cy="71.7" r="0.45" fill="#d8c050" opacity="0.5"/>
<circle cx="470.5" cy="67.0" r="0.45" fill="#d8c050" opacity="0.5"/>
<circle cx="474.9" cy="77.9" r="0.45" fill="#d8c050" opacity="0.5"/>
<circle cx="475.2" cy="68.5" r="0.45" fill="#d8c050" opacity="0.5"/>
<circle cx="471.5" cy="65.3" r="0.45" fill="#d8c050" opacity="0.5"/>
<circle cx="472.6" cy="70.7" r="0.45" fill="#d8c050" opacity="0.5"/>
<text x="80.7" y="160.6" font-size="9.6" text-anchor="middle" font-weight="normal" fill="#000" textLength="65.5" lengthAdjust="spacingAndGlyphs" >CD48<tspan baseline-shift="30%" font-size="0.85em">−</tspan> CD150<tspan baseline-shift="30%" font-size="0.85em">+</tspan></text>
<text x="80.7" y="171.0" font-size="9.4" text-anchor="middle" font-weight="normal" fill="#000" textLength="40" lengthAdjust="spacingAndGlyphs" >(LT-HSCs)</text>
<text x="14.9" y="230.8" font-size="10" text-anchor="middle" font-weight="normal" fill="#000" textLength="59.5" lengthAdjust="spacingAndGlyphs" transform="rotate(-90 14.9 230.8)" stroke="#000" stroke-width="0.25">Absolute cell number</text>
<line x1="47.4" y1="189" x2="47.4" y2="273.3" stroke="#000" stroke-width="1.1" />
<line x1="44.4" y1="192.9" x2="47.4" y2="192.9" stroke="#000" stroke-width="1.0" />
<text x="41.1" y="195.65" font-size="7.7" text-anchor="end" font-weight="normal" fill="#000" >12000</text>
<line x1="44.4" y1="219.7" x2="47.4" y2="219.7" stroke="#000" stroke-width="1.0" />
<text x="41.1" y="222.45" font-size="7.7" text-anchor="end" font-weight="normal" fill="#000" >8000</text>
<line x1="44.4" y1="246.4" x2="47.4" y2="246.4" stroke="#000" stroke-width="1.0" />
<text x="41.1" y="249.15" font-size="7.7" text-anchor="end" font-weight="normal" fill="#000" >4000</text>
<line x1="44.4" y1="273.3" x2="47.4" y2="273.3" stroke="#000" stroke-width="1.0" />
<text x="41.1" y="276.05" font-size="7.7" text-anchor="end" font-weight="normal" fill="#000" >0</text>
<rect x="54.0" y="254.8" width="14" height="18.5" fill="#e6879c" rx="0" />
<rect x="74.5" y="271.0" width="14" height="2.3000000000000114" fill="#97bad8" rx="0" />
<rect x="95.3" y="265.0" width="13" height="8.300000000000011" fill="#a2dba6" rx="0" />
<line x1="61" y1="250.5" x2="61" y2="258.5" stroke="#000" stroke-width="1.0" />
<line x1="57.5" y1="250.5" x2="64.5" y2="250.5" stroke="#000" stroke-width="1.0" />
<line x1="57.5" y1="258.5" x2="64.5" y2="258.5" stroke="#000" stroke-width="1.0" />
<line x1="101.8" y1="263" x2="101.8" y2="267.5" stroke="#000" stroke-width="1.0" />
<line x1="98.3" y1="263" x2="105.3" y2="263" stroke="#000" stroke-width="1.0" />
<line x1="98.3" y1="267.5" x2="105.3" y2="267.5" stroke="#000" stroke-width="1.0" />
<line x1="44.4" y1="273.3" x2="113.5" y2="273.3" stroke="#000" stroke-width="1.3" />
<line x1="61" y1="273.3" x2="61" y2="276.3" stroke="#000" stroke-width="0.9" />
<line x1="81.5" y1="273.3" x2="81.5" y2="276.3" stroke="#000" stroke-width="0.9" />
<line x1="101.8" y1="273.3" x2="101.8" y2="276.3" stroke="#000" stroke-width="0.9" />
<text x="63.8" y="283.1" font-size="7.6" text-anchor="end" font-weight="normal" fill="#000" transform="rotate(-45 63.8 283.1)" >Healthy</text>
<text x="84.3" y="283.1" font-size="7.6" text-anchor="end" font-weight="normal" fill="#000" transform="rotate(-45 84.3 283.1)" >Vehicle</text>
<text x="104.6" y="283.1" font-size="7.6" text-anchor="end" font-weight="normal" fill="#000" transform="rotate(-45 104.6 283.1)" >Pinomastat</text>
<polyline points="60.6,188.5 60.6,184.1 102.2,184.1 102.2,243.0" fill="none" stroke="#333" stroke-width="1.0" stroke-linejoin="round"/>
<text x="81.9" y="183.2" font-size="7" text-anchor="middle" font-weight="bold" fill="#222" >*</text>
<polyline points="60.6,202.8 60.6,198.7 81.5,198.7 81.5,264.3" fill="none" stroke="#333" stroke-width="1.0" stroke-linejoin="round"/>
<text x="71.1" y="197.6" font-size="7" text-anchor="middle" font-weight="bold" fill="#222" >****</text>
<polyline points="86.9,257.7 86.9,228.3 101.6,228.3 101.6,237.0" fill="none" stroke="#333" stroke-width="1.0" stroke-linejoin="round"/>
<text x="94.8" y="227.6" font-size="7" text-anchor="middle" font-weight="bold" fill="#222" >**</text>
<text x="213.2" y="160.6" font-size="9.6" text-anchor="middle" font-weight="normal" fill="#000" textLength="65.7" lengthAdjust="spacingAndGlyphs" >CD48<tspan baseline-shift="30%" font-size="0.85em">−</tspan> CD150<tspan baseline-shift="30%" font-size="0.85em">−</tspan></text>
<text x="213.2" y="171.0" font-size="9.4" text-anchor="middle" font-weight="normal" fill="#000" textLength="42.6" lengthAdjust="spacingAndGlyphs" >(ST-HSCs)</text>
<text x="146.9" y="231.1" font-size="8.8" text-anchor="middle" font-weight="normal" fill="#000" textLength="61.8" lengthAdjust="spacingAndGlyphs" transform="rotate(-90 146.9 231.1)" stroke="#000" stroke-width="0.25">Absolute cells number</text>
<line x1="178.3" y1="191" x2="178.3" y2="272.8" stroke="#000" stroke-width="1.1" />
<line x1="175.3" y1="194.9" x2="178.3" y2="194.9" stroke="#000" stroke-width="1.0" />
<text x="172.0" y="197.65" font-size="7.7" text-anchor="end" font-weight="normal" fill="#000" >10000</text>
<line x1="175.3" y1="210.5" x2="178.3" y2="210.5" stroke="#000" stroke-width="1.0" />
<text x="172.0" y="213.25" font-size="7.7" text-anchor="end" font-weight="normal" fill="#000" >8000</text>
<line x1="175.3" y1="226.1" x2="178.3" y2="226.1" stroke="#000" stroke-width="1.0" />
<text x="172.0" y="228.85" font-size="7.7" text-anchor="end" font-weight="normal" fill="#000" >6000</text>
<line x1="175.3" y1="241.6" x2="178.3" y2="241.6" stroke="#000" stroke-width="1.0" />
<text x="172.0" y="244.35" font-size="7.7" text-anchor="end" font-weight="normal" fill="#000" >4000</text>
<line x1="175.3" y1="257.2" x2="178.3" y2="257.2" stroke="#000" stroke-width="1.0" />
<text x="172.0" y="259.95" font-size="7.7" text-anchor="end" font-weight="normal" fill="#000" >2000</text>
<line x1="175.3" y1="272.8" x2="178.3" y2="272.8" stroke="#000" stroke-width="1.0" />
<text x="172.0" y="275.55" font-size="7.7" text-anchor="end" font-weight="normal" fill="#000" >0</text>
<rect x="184.8" y="245.6" width="15" height="27.200000000000017" fill="#e6879c" rx="0" />
<rect x="207.5" y="269.5" width="13" height="3.3000000000000114" fill="#97bad8" rx="0" />
<rect x="229.2" y="266.7" width="13" height="6.100000000000023" fill="#a2dba6" rx="0" />
<line x1="192.3" y1="240.5" x2="192.3" y2="249.3" stroke="#000" stroke-width="1.0" />
<line x1="188.8" y1="240.5" x2="195.8" y2="240.5" stroke="#000" stroke-width="1.0" />
<line x1="188.8" y1="249.3" x2="195.8" y2="249.3" stroke="#000" stroke-width="1.0" />
<line x1="235.7" y1="264.0" x2="235.7" y2="268.5" stroke="#000" stroke-width="1.0" />
<line x1="232.2" y1="264.0" x2="239.2" y2="264.0" stroke="#000" stroke-width="1.0" />
<line x1="232.2" y1="268.5" x2="239.2" y2="268.5" stroke="#000" stroke-width="1.0" />
<line x1="175.5" y1="272.8" x2="247.4" y2="272.8" stroke="#000" stroke-width="1.3" />
<line x1="192.3" y1="272.8" x2="192.3" y2="275.8" stroke="#000" stroke-width="0.9" />
<line x1="214.0" y1="272.8" x2="214.0" y2="275.8" stroke="#000" stroke-width="0.9" />
<line x1="235.7" y1="272.8" x2="235.7" y2="275.8" stroke="#000" stroke-width="0.9" />
<text x="195.10000000000002" y="282.6" font-size="7.6" text-anchor="end" font-weight="normal" fill="#000" transform="rotate(-45 195.10000000000002 282.6)" >Healthy</text>
<text x="216.8" y="282.6" font-size="7.6" text-anchor="end" font-weight="normal" fill="#000" transform="rotate(-45 216.8 282.6)" >Vehicle</text>
<text x="238.5" y="282.6" font-size="7.6" text-anchor="end" font-weight="normal" fill="#000" transform="rotate(-45 238.5 282.6)" >Pinomastat</text>
<polyline points="192.2,184 192.2,182.4 235.8,182.4 235.8,245.6" fill="none" stroke="#333" stroke-width="1.0" stroke-linejoin="round"/>
<text x="214.1" y="182.5" font-size="7" text-anchor="middle" font-weight="bold" fill="#222" >****</text>
<polyline points="192.2,194.8 192.2,193 214.1,193 214.1,229.2" fill="none" stroke="#333" stroke-width="1.0" stroke-linejoin="round"/>
<text x="203.7" y="192.9" font-size="7" text-anchor="middle" font-weight="bold" fill="#222" >****</text>
<polyline points="214.1,243.9 214.1,234.1 235.8,234.1 235.8,245.6" fill="none" stroke="#333" stroke-width="1.0" stroke-linejoin="round"/>
<text x="225.3" y="231.6" font-size="7.5" text-anchor="middle" font-weight="normal" fill="#222" >ns</text>
<text x="344.9" y="160.6" font-size="9.6" text-anchor="middle" font-weight="normal" fill="#000" textLength="59.8" lengthAdjust="spacingAndGlyphs" >CD48<tspan baseline-shift="30%" font-size="0.85em">+</tspan> CD150<tspan baseline-shift="30%" font-size="0.85em">−</tspan></text>
<text x="344.9" y="171.0" font-size="9.4" text-anchor="middle" font-weight="normal" fill="#000" textLength="29.2" lengthAdjust="spacingAndGlyphs" >(MPPs)</text>
<text x="280.2" y="231.1" font-size="9" text-anchor="middle" font-weight="normal" fill="#000" textLength="61.8" lengthAdjust="spacingAndGlyphs" transform="rotate(-90 280.2 231.1)" stroke="#000" stroke-width="0.25">Absolute cells number</text>
<line x1="314.7" y1="192.5" x2="314.7" y2="273.0" stroke="#000" stroke-width="1.1" />
<line x1="311.7" y1="196.5" x2="314.7" y2="196.5" stroke="#000" stroke-width="1.0" />
<text x="308.4" y="199.25" font-size="7.7" text-anchor="end" font-weight="normal" fill="#000" >25000</text>
<line x1="311.7" y1="211.8" x2="314.7" y2="211.8" stroke="#000" stroke-width="1.0" />
<text x="308.4" y="214.55" font-size="7.7" text-anchor="end" font-weight="normal" fill="#000" >20000</text>
<line x1="311.7" y1="227.1" x2="314.7" y2="227.1" stroke="#000" stroke-width="1.0" />
<text x="308.4" y="229.85" font-size="7.7" text-anchor="end" font-weight="normal" fill="#000" >15000</text>
<line x1="311.7" y1="242.4" x2="314.7" y2="242.4" stroke="#000" stroke-width="1.0" />
<text x="308.4" y="245.15" font-size="7.7" text-anchor="end" font-weight="normal" fill="#000" >10000</text>
<line x1="311.7" y1="257.7" x2="314.7" y2="257.7" stroke="#000" stroke-width="1.0" />
<text x="308.4" y="260.45" font-size="7.7" text-anchor="end" font-weight="normal" fill="#000" >5000</text>
<line x1="311.7" y1="273.0" x2="314.7" y2="273.0" stroke="#000" stroke-width="1.0" />
<text x="308.4" y="275.75" font-size="7.7" text-anchor="end" font-weight="normal" fill="#000" >0</text>
<rect x="321.4" y="245.6" width="14" height="27.400000000000006" fill="#e6879c" rx="0" />
<rect x="342.3" y="269.5" width="13" height="3.5" fill="#97bad8" rx="0" />
<rect x="362.3" y="260.8" width="13.4" height="12.199999999999989" fill="#a2dba6" rx="0" />
<line x1="328.4" y1="241.4" x2="328.4" y2="249.3" stroke="#000" stroke-width="1.0" />
<line x1="324.9" y1="241.4" x2="331.9" y2="241.4" stroke="#000" stroke-width="1.0" />
<line x1="324.9" y1="249.3" x2="331.9" y2="249.3" stroke="#000" stroke-width="1.0" />
<line x1="369" y1="256.6" x2="369" y2="263.3" stroke="#000" stroke-width="1.0" />
<line x1="365.5" y1="256.6" x2="372.5" y2="256.6" stroke="#000" stroke-width="1.0" />
<line x1="365.5" y1="263.3" x2="372.5" y2="263.3" stroke="#000" stroke-width="1.0" />
<line x1="312" y1="273.0" x2="381.2" y2="273.0" stroke="#000" stroke-width="1.3" />
<line x1="328.4" y1="273.0" x2="328.4" y2="276.0" stroke="#000" stroke-width="0.9" />
<line x1="348.8" y1="273.0" x2="348.8" y2="276.0" stroke="#000" stroke-width="0.9" />
<line x1="369.0" y1="273.0" x2="369.0" y2="276.0" stroke="#000" stroke-width="0.9" />
<text x="331.2" y="282.8" font-size="7.6" text-anchor="end" font-weight="normal" fill="#000" transform="rotate(-45 331.2 282.8)" >Healthy</text>
<text x="351.6" y="282.8" font-size="7.6" text-anchor="end" font-weight="normal" fill="#000" transform="rotate(-45 351.6 282.8)" >Vehicle</text>
<text x="371.8" y="282.8" font-size="7.6" text-anchor="end" font-weight="normal" fill="#000" transform="rotate(-45 371.8 282.8)" >Pinomastat</text>
<polyline points="328.1,187.6 328.1,183.3 369.6,183.3 369.6,187.6" fill="none" stroke="#333" stroke-width="1.0" stroke-linejoin="round"/>
<text x="349.1" y="182.9" font-size="7" text-anchor="middle" font-weight="bold" fill="#222" >**</text>
<polyline points="328.1,196.8 328.1,192.8 348.4,192.8 348.4,260.7" fill="none" stroke="#333" stroke-width="1.0" stroke-linejoin="round"/>
<text x="338.7" y="192.3" font-size="7" text-anchor="middle" font-weight="bold" fill="#222" >****</text>
<polyline points="350.4,251.8 350.4,218.5 367.7,218.5 367.7,221.8" fill="none" stroke="#333" stroke-width="1.0" stroke-linejoin="round"/>
<text x="359.2" y="217.7" font-size="7" text-anchor="middle" font-weight="bold" fill="#222" >**</text>
<text x="479.7" y="160.6" font-size="9.6" text-anchor="middle" font-weight="normal" fill="#000" textLength="67.1" lengthAdjust="spacingAndGlyphs" >CD48<tspan baseline-shift="30%" font-size="0.85em">+</tspan> CD150<tspan baseline-shift="30%" font-size="0.85em">+</tspan></text>
<text x="479.7" y="171.0" font-size="9.4" text-anchor="middle" font-weight="normal" fill="#000" textLength="29.7" lengthAdjust="spacingAndGlyphs" >(MPPs)</text>
<text x="414.9" y="230.8" font-size="10" text-anchor="middle" font-weight="normal" fill="#000" textLength="59.5" lengthAdjust="spacingAndGlyphs" transform="rotate(-90 414.9 230.8)" stroke="#000" stroke-width="0.25">Absolute cell number</text>
<line x1="446.5" y1="192.4" x2="446.5" y2="272.9" stroke="#000" stroke-width="1.1" />
<line x1="443.5" y1="196.2" x2="446.5" y2="196.2" stroke="#000" stroke-width="1.0" />
<text x="440.2" y="198.95" font-size="7.7" text-anchor="end" font-weight="normal" fill="#000" >10000</text>
<line x1="443.5" y1="211.5" x2="446.5" y2="211.5" stroke="#000" stroke-width="1.0" />
<text x="440.2" y="214.25" font-size="7.7" text-anchor="end" font-weight="normal" fill="#000" >8000</text>
<line x1="443.5" y1="226.9" x2="446.5" y2="226.9" stroke="#000" stroke-width="1.0" />
<text x="440.2" y="229.65" font-size="7.7" text-anchor="end" font-weight="normal" fill="#000" >6000</text>
<line x1="443.5" y1="242.2" x2="446.5" y2="242.2" stroke="#000" stroke-width="1.0" />
<text x="440.2" y="244.95" font-size="7.7" text-anchor="end" font-weight="normal" fill="#000" >4000</text>
<line x1="443.5" y1="257.6" x2="446.5" y2="257.6" stroke="#000" stroke-width="1.0" />
<text x="440.2" y="260.35" font-size="7.7" text-anchor="end" font-weight="normal" fill="#000" >2000</text>
<line x1="443.5" y1="272.9" x2="446.5" y2="272.9" stroke="#000" stroke-width="1.0" />
<text x="440.2" y="275.65" font-size="7.7" text-anchor="end" font-weight="normal" fill="#000" >0</text>
<rect x="452.7" y="258.6" width="14" height="14.299999999999955" fill="#e6879c" rx="0" />
<rect x="473.1" y="270.0" width="13" height="2.8999999999999773" fill="#97bad8" rx="0" />
<rect x="492.8" y="261.2" width="13.4" height="11.699999999999989" fill="#a2dba6" rx="0" />
<line x1="459.7" y1="254.4" x2="459.7" y2="263.3" stroke="#000" stroke-width="1.0" />
<line x1="456.2" y1="254.4" x2="463.2" y2="254.4" stroke="#000" stroke-width="1.0" />
<line x1="456.2" y1="263.3" x2="463.2" y2="263.3" stroke="#000" stroke-width="1.0" />
<line x1="499.5" y1="259.9" x2="499.5" y2="264.4" stroke="#000" stroke-width="1.0" />
<line x1="496.0" y1="259.9" x2="503.0" y2="259.9" stroke="#000" stroke-width="1.0" />
<line x1="496.0" y1="264.4" x2="503.0" y2="264.4" stroke="#000" stroke-width="1.0" />
<line x1="444" y1="272.9" x2="513.3" y2="272.9" stroke="#000" stroke-width="1.3" />
<line x1="459.7" y1="272.9" x2="459.7" y2="275.9" stroke="#000" stroke-width="0.9" />
<line x1="479.6" y1="272.9" x2="479.6" y2="275.9" stroke="#000" stroke-width="0.9" />
<line x1="499.5" y1="272.9" x2="499.5" y2="275.9" stroke="#000" stroke-width="0.9" />
<text x="462.5" y="282.7" font-size="7.6" text-anchor="end" font-weight="normal" fill="#000" transform="rotate(-45 462.5 282.7)" >Healthy</text>
<text x="482.40000000000003" y="282.7" font-size="7.6" text-anchor="end" font-weight="normal" fill="#000" transform="rotate(-45 482.40000000000003 282.7)" >Vehicle</text>
<text x="502.3" y="282.7" font-size="7.6" text-anchor="end" font-weight="normal" fill="#000" transform="rotate(-45 502.3 282.7)" >Pinomastat</text>
<polyline points="459.5,189.9 459.5,186.4 499.7,186.4 499.7,239" fill="none" stroke="#333" stroke-width="1.0" stroke-linejoin="round"/>
<text x="480.1" y="184.4" font-size="7.5" text-anchor="middle" font-weight="normal" fill="#222" >ns</text>
<polyline points="459.5,199.1 459.5,195.1 479.7,195.1 479.7,261.5" fill="none" stroke="#333" stroke-width="1.0" stroke-linejoin="round"/>
<text x="469.9" y="194.1" font-size="7" text-anchor="middle" font-weight="bold" fill="#222" >**</text>
<polyline points="482.6,213.3 482.6,198.3 497.2,198.3 497.2,213.3" fill="none" stroke="#333" stroke-width="1.0" stroke-linejoin="round"/>
<text x="490" y="197.2" font-size="7" text-anchor="middle" font-weight="bold" fill="#222" >***</text>
<text x="91.6" y="339.0" font-size="9.6" text-anchor="middle" font-weight="normal" fill="#000" textLength="25.8" lengthAdjust="spacingAndGlyphs" >CMPs</text>
<text x="14.9" y="410.3" font-size="10" text-anchor="middle" font-weight="normal" fill="#000" textLength="58.7" lengthAdjust="spacingAndGlyphs" transform="rotate(-90 14.9 410.3)" stroke="#000" stroke-width="0.25">Absolute cell number</text>
<line x1="51.4" y1="359" x2="51.4" y2="407.6" stroke="#000" stroke-width="1.1" />
<line x1="51.4" y1="413.4" x2="51.4" y2="461.2" stroke="#000" stroke-width="1.1" />
<line x1="48.9" y1="407.6" x2="51.9" y2="407.6" stroke="#000" stroke-width="1.1" />
<line x1="48.9" y1="413.4" x2="51.9" y2="413.4" stroke="#000" stroke-width="1.1" />
<line x1="48.4" y1="362.6" x2="51.4" y2="362.6" stroke="#000" stroke-width="1.0" />
<text x="45.6" y="365.40000000000003" font-size="8.0" text-anchor="end" font-weight="normal" fill="#000" >150000</text>
<line x1="48.4" y1="378.6" x2="51.4" y2="378.6" stroke="#000" stroke-width="1.0" />
<text x="45.6" y="381.40000000000003" font-size="8.0" text-anchor="end" font-weight="normal" fill="#000" >100000</text>
<line x1="48.4" y1="394.6" x2="51.4" y2="394.6" stroke="#000" stroke-width="1.0" />
<text x="45.6" y="397.40000000000003" font-size="8.0" text-anchor="end" font-weight="normal" fill="#000" >50000</text>
<line x1="48.4" y1="420.3" x2="51.4" y2="420.3" stroke="#000" stroke-width="1.0" />
<text x="45.6" y="423.1" font-size="8.0" text-anchor="end" font-weight="normal" fill="#000" >6000</text>
<line x1="48.4" y1="434.0" x2="51.4" y2="434.0" stroke="#000" stroke-width="1.0" />
<text x="45.6" y="436.8" font-size="8.0" text-anchor="end" font-weight="normal" fill="#000" >4000</text>
<line x1="48.4" y1="447.6" x2="51.4" y2="447.6" stroke="#000" stroke-width="1.0" />
<text x="45.6" y="450.40000000000003" font-size="8.0" text-anchor="end" font-weight="normal" fill="#000" >2000</text>
<line x1="48.4" y1="461.2" x2="51.4" y2="461.2" stroke="#000" stroke-width="1.0" />
<text x="45.6" y="464.0" font-size="8.0" text-anchor="end" font-weight="normal" fill="#000" >0</text>
<rect x="60.099999999999994" y="391.2" width="17" height="16.400000000000034" fill="#e6879c" rx="0" />
<rect x="60.099999999999994" y="413.4" width="17" height="47.80000000000001" fill="#e6879c" rx="0" />
<rect x="86.0" y="451.4" width="16.6" height="9.800000000000011" fill="#97bad8" rx="0" />
<rect x="111.55000000000001" y="422.0" width="16.7" height="39.19999999999999" fill="#a2dba6" rx="0" />
<line x1="68.6" y1="387.5" x2="68.6" y2="394.0" stroke="#000" stroke-width="1.0" />
<line x1="65.1" y1="387.5" x2="72.1" y2="387.5" stroke="#000" stroke-width="1.0" />
<line x1="65.1" y1="394.0" x2="72.1" y2="394.0" stroke="#000" stroke-width="1.0" />
<line x1="94.3" y1="449.4" x2="94.3" y2="452.6" stroke="#000" stroke-width="1.0" />
<line x1="90.8" y1="449.4" x2="97.8" y2="449.4" stroke="#000" stroke-width="1.0" />
<line x1="90.8" y1="452.6" x2="97.8" y2="452.6" stroke="#000" stroke-width="1.0" />
<line x1="119.9" y1="418.5" x2="119.9" y2="425.4" stroke="#000" stroke-width="1.0" />
<line x1="115.9" y1="418.5" x2="123.9" y2="418.5" stroke="#000" stroke-width="1.0" />
<line x1="115.9" y1="425.4" x2="123.9" y2="425.4" stroke="#000" stroke-width="1.0" />
<line x1="49" y1="461.2" x2="131" y2="461.2" stroke="#000" stroke-width="1.3" />
<line x1="68.6" y1="461.2" x2="68.6" y2="464.2" stroke="#000" stroke-width="0.9" />
<line x1="94.3" y1="461.2" x2="94.3" y2="464.2" stroke="#000" stroke-width="0.9" />
<line x1="119.9" y1="461.2" x2="119.9" y2="464.2" stroke="#000" stroke-width="0.9" />
<text x="71.39999999999999" y="471.0" font-size="7.6" text-anchor="end" font-weight="normal" fill="#000" transform="rotate(-45 71.39999999999999 471.0)" >Healthy</text>
<text x="97.1" y="471.0" font-size="7.6" text-anchor="end" font-weight="normal" fill="#000" transform="rotate(-45 97.1 471.0)" >Vehicle</text>
<text x="122.7" y="471.0" font-size="7.6" text-anchor="end" font-weight="normal" fill="#000" transform="rotate(-45 122.7 471.0)" >Pinomastat</text>
<polyline points="68.3,362.9 68.3,354.1 120,354.1 120,380.1" fill="none" stroke="#333" stroke-width="1.0" stroke-linejoin="round"/>
<text x="94" y="353.5" font-size="7" text-anchor="middle" font-weight="bold" fill="#222" >****</text>
<polyline points="68.3,372.7 68.3,368.7 94.4,368.7 94.4,441.9" fill="none" stroke="#333" stroke-width="1.0" stroke-linejoin="round"/>
<text x="81.3" y="368.4" font-size="7" text-anchor="middle" font-weight="bold" fill="#222" >****</text>
<polyline points="96.5,423.8 96.5,385.4 121.4,385.4 121.4,397.2" fill="none" stroke="#333" stroke-width="1.0" stroke-linejoin="round"/>
<text x="109.9" y="384.3" font-size="7" text-anchor="middle" font-weight="bold" fill="#222" >***</text>
<text x="218" y="339.0" font-size="9.6" text-anchor="middle" font-weight="normal" fill="#000" textLength="26.3" lengthAdjust="spacingAndGlyphs" >GMPs</text>
<text x="143.9" y="410.3" font-size="9.2" text-anchor="middle" font-weight="normal" fill="#000" textLength="58.7" lengthAdjust="spacingAndGlyphs" transform="rotate(-90 143.9 410.3)" stroke="#000" stroke-width="0.25">Absolute cell number</text>
<line x1="177.7" y1="360.6" x2="177.7" y2="409.6" stroke="#000" stroke-width="1.1" />
<line x1="177.7" y1="415.3" x2="177.7" y2="461.2" stroke="#000" stroke-width="1.1" />
<line x1="175.2" y1="409.6" x2="178.2" y2="409.6" stroke="#000" stroke-width="1.1" />
<line x1="175.2" y1="415.3" x2="178.2" y2="415.3" stroke="#000" stroke-width="1.1" />
<line x1="174.7" y1="364.5" x2="177.7" y2="364.5" stroke="#000" stroke-width="1.0" />
<text x="171.89999999999998" y="367.3" font-size="8.0" text-anchor="end" font-weight="normal" fill="#000" >60000</text>
<line x1="174.7" y1="373.5" x2="177.7" y2="373.5" stroke="#000" stroke-width="1.0" />
<text x="171.89999999999998" y="376.3" font-size="8.0" text-anchor="end" font-weight="normal" fill="#000" >50000</text>
<line x1="174.7" y1="382.6" x2="177.7" y2="382.6" stroke="#000" stroke-width="1.0" />
<text x="171.89999999999998" y="385.40000000000003" font-size="8.0" text-anchor="end" font-weight="normal" fill="#000" >40000</text>
<line x1="174.7" y1="391.6" x2="177.7" y2="391.6" stroke="#000" stroke-width="1.0" />
<text x="171.89999999999998" y="394.40000000000003" font-size="8.0" text-anchor="end" font-weight="normal" fill="#000" >30000</text>
<line x1="174.7" y1="400.6" x2="177.7" y2="400.6" stroke="#000" stroke-width="1.0" />
<text x="171.89999999999998" y="403.40000000000003" font-size="8.0" text-anchor="end" font-weight="normal" fill="#000" >20000</text>
<line x1="174.7" y1="409.1" x2="177.7" y2="409.1" stroke="#000" stroke-width="1.0" />
<text x="171.89999999999998" y="411.90000000000003" font-size="8.0" text-anchor="end" font-weight="normal" fill="#000" >10000</text>
<line x1="174.7" y1="416.1" x2="177.7" y2="416.1" stroke="#000" stroke-width="1.0" />
<text x="171.89999999999998" y="418.90000000000003" font-size="8.0" text-anchor="end" font-weight="normal" fill="#000" >10000</text>
<line x1="174.7" y1="425.0" x2="177.7" y2="425.0" stroke="#000" stroke-width="1.0" />
<text x="171.89999999999998" y="427.8" font-size="8.0" text-anchor="end" font-weight="normal" fill="#000" >8000</text>
<line x1="174.7" y1="433.8" x2="177.7" y2="433.8" stroke="#000" stroke-width="1.0" />
<text x="171.89999999999998" y="436.6" font-size="8.0" text-anchor="end" font-weight="normal" fill="#000" >6000</text>
<line x1="174.7" y1="443.0" x2="177.7" y2="443.0" stroke="#000" stroke-width="1.0" />
<text x="171.89999999999998" y="445.8" font-size="8.0" text-anchor="end" font-weight="normal" fill="#000" >4000</text>
<line x1="174.7" y1="452.0" x2="177.7" y2="452.0" stroke="#000" stroke-width="1.0" />
<text x="171.89999999999998" y="454.8" font-size="8.0" text-anchor="end" font-weight="normal" fill="#000" >2000</text>
<line x1="174.7" y1="461.2" x2="177.7" y2="461.2" stroke="#000" stroke-width="1.0" />
<text x="171.89999999999998" y="464.0" font-size="8.0" text-anchor="end" font-weight="normal" fill="#000" >0</text>
<rect x="186.20000000000002" y="393.7" width="16.4" height="15.900000000000034" fill="#e6879c" rx="0" />
<rect x="186.20000000000002" y="415.3" width="16.4" height="45.89999999999998" fill="#e6879c" rx="0" />
<rect x="210.5" y="458.5" width="16" height="2.6999999999999886" fill="#97bad8" rx="0" />
<rect x="235.15" y="434.0" width="16.5" height="27.19999999999999" fill="#a2dba6" rx="0" />
<line x1="194.4" y1="389" x2="194.4" y2="396.7" stroke="#000" stroke-width="1.0" />
<line x1="190.9" y1="389" x2="197.9" y2="389" stroke="#000" stroke-width="1.0" />
<line x1="190.9" y1="396.7" x2="197.9" y2="396.7" stroke="#000" stroke-width="1.0" />
<line x1="243.4" y1="420.7" x2="243.4" y2="447" stroke="#000" stroke-width="1.0" />
<line x1="239.4" y1="420.7" x2="247.4" y2="420.7" stroke="#000" stroke-width="1.0" />
<line x1="239.4" y1="447" x2="247.4" y2="447" stroke="#000" stroke-width="1.0" />
<line x1="175.5" y1="461.2" x2="256" y2="461.2" stroke="#000" stroke-width="1.3" />
<line x1="194.4" y1="461.2" x2="194.4" y2="464.2" stroke="#000" stroke-width="0.9" />
<line x1="218.5" y1="461.2" x2="218.5" y2="464.2" stroke="#000" stroke-width="0.9" />
<line x1="243.4" y1="461.2" x2="243.4" y2="464.2" stroke="#000" stroke-width="0.9" />
<text x="197.20000000000002" y="471.0" font-size="7.6" text-anchor="end" font-weight="normal" fill="#000" transform="rotate(-45 197.20000000000002 471.0)" >Healthy</text>
<text x="221.3" y="471.0" font-size="7.6" text-anchor="end" font-weight="normal" fill="#000" transform="rotate(-45 221.3 471.0)" >Vehicle</text>
<text x="246.20000000000002" y="471.0" font-size="7.6" text-anchor="end" font-weight="normal" fill="#000" transform="rotate(-45 246.20000000000002 471.0)" >Pinomastat</text>
<polyline points="194.2,354.5 194.2,349.3 243.4,349.3 243.4,354.5" fill="none" stroke="#333" stroke-width="1.0" stroke-linejoin="round"/>
<text x="218.8" y="348.4" font-size="7" text-anchor="middle" font-weight="bold" fill="#222" >**</text>
<polyline points="194.2,363 194.2,359.5 217.5,359.5 217.5,457.4" fill="none" stroke="#333" stroke-width="1.0" stroke-linejoin="round"/>
<text x="206.1" y="358.6" font-size="7" text-anchor="middle" font-weight="bold" fill="#222" >***</text>
<polyline points="220.2,457.4 220.2,359.5 243.4,359.5 243.4,399.3" fill="none" stroke="#333" stroke-width="1.0" stroke-linejoin="round"/>
<text x="231.9" y="357.3" font-size="7.5" text-anchor="middle" font-weight="normal" fill="#222" >ns</text>
<text x="338" y="339.0" font-size="9.6" text-anchor="middle" font-weight="normal" fill="#000" textLength="24.5" lengthAdjust="spacingAndGlyphs" >MEPs</text>
<text x="267.6" y="410.3" font-size="9" text-anchor="middle" font-weight="normal" fill="#000" textLength="58.7" lengthAdjust="spacingAndGlyphs" transform="rotate(-90 267.6 410.3)" stroke="#000" stroke-width="0.25">Absolute cell number</text>
<line x1="297.6" y1="358.6" x2="297.6" y2="409.1" stroke="#000" stroke-width="1.1" />
<line x1="297.6" y1="414.8" x2="297.6" y2="461.2" stroke="#000" stroke-width="1.1" />
<line x1="295.1" y1="409.1" x2="298.1" y2="409.1" stroke="#000" stroke-width="1.1" />
<line x1="295.1" y1="414.8" x2="298.1" y2="414.8" stroke="#000" stroke-width="1.1" />
<line x1="294.6" y1="362.0" x2="297.6" y2="362.0" stroke="#000" stroke-width="1.0" />
<text x="291.8" y="364.8" font-size="8.0" text-anchor="end" font-weight="normal" fill="#000" >10000</text>
<line x1="294.6" y1="372.9" x2="297.6" y2="372.9" stroke="#000" stroke-width="1.0" />
<text x="291.8" y="375.7" font-size="8.0" text-anchor="end" font-weight="normal" fill="#000" >8000</text>
<line x1="294.6" y1="383.5" x2="297.6" y2="383.5" stroke="#000" stroke-width="1.0" />
<text x="291.8" y="386.3" font-size="8.0" text-anchor="end" font-weight="normal" fill="#000" >6000</text>
<line x1="294.6" y1="393.8" x2="297.6" y2="393.8" stroke="#000" stroke-width="1.0" />
<text x="291.8" y="396.6" font-size="8.0" text-anchor="end" font-weight="normal" fill="#000" >4000</text>
<line x1="294.6" y1="404.2" x2="297.6" y2="404.2" stroke="#000" stroke-width="1.0" />
<text x="291.8" y="407.0" font-size="8.0" text-anchor="end" font-weight="normal" fill="#000" >2000</text>
<line x1="294.6" y1="415.0" x2="297.6" y2="415.0" stroke="#000" stroke-width="1.0" />
<text x="291.8" y="417.8" font-size="8.0" text-anchor="end" font-weight="normal" fill="#000" >1000</text>
<line x1="294.6" y1="424.2" x2="297.6" y2="424.2" stroke="#000" stroke-width="1.0" />
<text x="291.8" y="427.0" font-size="8.0" text-anchor="end" font-weight="normal" fill="#000" >800</text>
<line x1="294.6" y1="433.3" x2="297.6" y2="433.3" stroke="#000" stroke-width="1.0" />
<text x="291.8" y="436.1" font-size="8.0" text-anchor="end" font-weight="normal" fill="#000" >600</text>
<line x1="294.6" y1="442.5" x2="297.6" y2="442.5" stroke="#000" stroke-width="1.0" />
<text x="291.8" y="445.3" font-size="8.0" text-anchor="end" font-weight="normal" fill="#000" >400</text>
<line x1="294.6" y1="451.8" x2="297.6" y2="451.8" stroke="#000" stroke-width="1.0" />
<text x="291.8" y="454.6" font-size="8.0" text-anchor="end" font-weight="normal" fill="#000" >200</text>
<line x1="294.6" y1="461.2" x2="297.6" y2="461.2" stroke="#000" stroke-width="1.0" />
<text x="291.8" y="464.0" font-size="8.0" text-anchor="end" font-weight="normal" fill="#000" >0</text>
<rect x="305.9" y="385.9" width="16.6" height="23.200000000000045" fill="#e6879c" rx="0" />
<rect x="305.9" y="414.8" width="16.6" height="46.39999999999998" fill="#e6879c" rx="0" />
<rect x="331.0" y="455.8" width="16" height="5.399999999999977" fill="#97bad8" rx="0" />
<rect x="355.7" y="418.7" width="16.6" height="42.5" fill="#a2dba6" rx="0" />
<line x1="314.2" y1="381.3" x2="314.2" y2="389" stroke="#000" stroke-width="1.0" />
<line x1="310.7" y1="381.3" x2="317.7" y2="381.3" stroke="#000" stroke-width="1.0" />
<line x1="310.7" y1="389" x2="317.7" y2="389" stroke="#000" stroke-width="1.0" />
<line x1="338.8" y1="453.5" x2="338.8" y2="457" stroke="#000" stroke-width="1.0" />
<line x1="335.8" y1="453.5" x2="341.8" y2="453.5" stroke="#000" stroke-width="1.0" />
<line x1="335.8" y1="457" x2="341.8" y2="457" stroke="#000" stroke-width="1.0" />
<line x1="364" y1="407.6" x2="364" y2="433.4" stroke="#000" stroke-width="1.0" />
<line x1="360.0" y1="407.6" x2="368.0" y2="407.6" stroke="#000" stroke-width="1.0" />
<line x1="360.0" y1="433.4" x2="368.0" y2="433.4" stroke="#000" stroke-width="1.0" />
<line x1="295" y1="461.2" x2="378" y2="461.2" stroke="#000" stroke-width="1.3" />
<line x1="314.2" y1="461.2" x2="314.2" y2="464.2" stroke="#000" stroke-width="0.9" />
<line x1="339.0" y1="461.2" x2="339.0" y2="464.2" stroke="#000" stroke-width="0.9" />
<line x1="364.0" y1="461.2" x2="364.0" y2="464.2" stroke="#000" stroke-width="0.9" />
<text x="317.0" y="471.0" font-size="7.6" text-anchor="end" font-weight="normal" fill="#000" transform="rotate(-45 317.0 471.0)" >Healthy</text>
<text x="341.8" y="471.0" font-size="7.6" text-anchor="end" font-weight="normal" fill="#000" transform="rotate(-45 341.8 471.0)" >Vehicle</text>
<text x="366.8" y="471.0" font-size="7.6" text-anchor="end" font-weight="normal" fill="#000" transform="rotate(-45 366.8 471.0)" >Pinomastat</text>
<polyline points="314.2,355.9 314.2,349.3 363.8,349.3 363.8,398.8" fill="none" stroke="#333" stroke-width="1.0" stroke-linejoin="round"/>
<text x="339.9" y="348.4" font-size="7" text-anchor="middle" font-weight="bold" fill="#222" >***</text>
<polyline points="314.2,364.5 314.2,360.3 339.2,360.3 339.2,448.3" fill="none" stroke="#333" stroke-width="1.0" stroke-linejoin="round"/>
<text x="326.7" y="359.7" font-size="7" text-anchor="middle" font-weight="bold" fill="#222" >****</text>
<line x1="339.2" y1="381.2" x2="363.8" y2="381.2" stroke="#333" stroke-width="1.0" />
<text x="351.9" y="380.4" font-size="7" text-anchor="middle" font-weight="bold" fill="#222" >*</text>
<text x="472.5" y="339.0" font-size="9.6" text-anchor="middle" font-weight="normal" fill="#000" textLength="15.5" lengthAdjust="spacingAndGlyphs" >Lin<tspan baseline-shift="30%" font-size="0.85em">−</tspan></text>
<text x="391.2" y="405.1" font-size="9.5" text-anchor="middle" font-weight="normal" fill="#000" textLength="59.8" lengthAdjust="spacingAndGlyphs" transform="rotate(-90 391.2 405.1)" stroke="#000" stroke-width="0.25">Absolute cell number</text>
<line x1="432.2" y1="349" x2="432.2" y2="460.7" stroke="#000" stroke-width="1.1" />
<line x1="429.2" y1="352.4" x2="432.2" y2="352.4" stroke="#000" stroke-width="1.0" />
<text x="426.4" y="355.15" font-size="8.0" text-anchor="end" font-weight="normal" fill="#000" >1500000</text>
<line x1="429.2" y1="388.5" x2="432.2" y2="388.5" stroke="#000" stroke-width="1.0" />
<text x="426.4" y="391.25" font-size="8.0" text-anchor="end" font-weight="normal" fill="#000" >1000000</text>
<line x1="429.2" y1="424.6" x2="432.2" y2="424.6" stroke="#000" stroke-width="1.0" />
<text x="426.4" y="427.35" font-size="8.0" text-anchor="end" font-weight="normal" fill="#000" >500000</text>
<line x1="429.2" y1="460.7" x2="432.2" y2="460.7" stroke="#000" stroke-width="1.0" />
<text x="426.4" y="463.45" font-size="8.0" text-anchor="end" font-weight="normal" fill="#000" >0</text>
<rect x="440.8" y="422.0" width="16.4" height="38.69999999999999" fill="#e6879c" rx="0" />
<rect x="466.1" y="450.4" width="16.4" height="10.300000000000011" fill="#97bad8" rx="0" />
<rect x="491.5" y="431.6" width="16.6" height="29.099999999999966" fill="#a2dba6" rx="0" />
<line x1="448.8" y1="416.9" x2="448.8" y2="427.2" stroke="#000" stroke-width="1.0" />
<line x1="445.3" y1="416.9" x2="452.3" y2="416.9" stroke="#000" stroke-width="1.0" />
<line x1="445.3" y1="427.2" x2="452.3" y2="427.2" stroke="#000" stroke-width="1.0" />
<line x1="474.3" y1="448" x2="474.3" y2="452.5" stroke="#000" stroke-width="1.0" />
<line x1="470.8" y1="448" x2="477.8" y2="448" stroke="#000" stroke-width="1.0" />
<line x1="470.8" y1="452.5" x2="477.8" y2="452.5" stroke="#000" stroke-width="1.0" />
<line x1="499.8" y1="410.2" x2="499.8" y2="436" stroke="#000" stroke-width="1.0" />
<line x1="496.3" y1="410.2" x2="503.3" y2="410.2" stroke="#000" stroke-width="1.0" />
<line x1="496.3" y1="436" x2="503.3" y2="436" stroke="#000" stroke-width="1.0" />
<line x1="430" y1="460.7" x2="512.5" y2="460.7" stroke="#000" stroke-width="1.3" />
<line x1="448.9" y1="460.7" x2="448.9" y2="463.7" stroke="#000" stroke-width="0.9" />
<line x1="474.3" y1="460.7" x2="474.3" y2="463.7" stroke="#000" stroke-width="0.9" />
<line x1="499.8" y1="460.7" x2="499.8" y2="463.7" stroke="#000" stroke-width="0.9" />
<text x="451.7" y="470.5" font-size="7.6" text-anchor="end" font-weight="normal" fill="#000" transform="rotate(-45 451.7 470.5)" >Healthy</text>
<text x="477.1" y="470.5" font-size="7.6" text-anchor="end" font-weight="normal" fill="#000" transform="rotate(-45 477.1 470.5)" >Vehicle</text>
<text x="502.6" y="470.5" font-size="7.6" text-anchor="end" font-weight="normal" fill="#000" transform="rotate(-45 502.6 470.5)" >Pinomastat</text>
<polyline points="448.3,366.8 448.3,363.1 502.6,363.1 502.6,366.8" fill="none" stroke="#333" stroke-width="1.0" stroke-linejoin="round"/>
<text x="475.9" y="361.4" font-size="7.5" text-anchor="middle" font-weight="normal" fill="#222" >ns</text>
<polyline points="449,381 449,372.9 475.3,372.9 475.3,372.9" fill="none" stroke="#333" stroke-width="1.0" stroke-linejoin="round"/>
<text x="462.2" y="372.2" font-size="7" text-anchor="middle" font-weight="bold" fill="#222" >****</text>
<polyline points="475.3,372.9 475.3,372.9 502.6,372.9 502.6,376.9" fill="none" stroke="#333" stroke-width="1.0" stroke-linejoin="round"/>
<text x="489.5" y="372.2" font-size="7" text-anchor="middle" font-weight="bold" fill="#222" >*</text>
<line x1="475.3" y1="372.9" x2="475.3" y2="402.5" stroke="#444" stroke-width="1.9" />
<circle cx="60.9" cy="207.8" r="2.1" fill="#cc0a2e"/>
<circle cx="60.9" cy="225.4" r="2.1" fill="#cc0a2e"/>
<circle cx="60.9" cy="242.5" r="2.1" fill="#cc0a2e"/>
<circle cx="55.8" cy="246.3" r="2.1" fill="#cc0a2e"/>
<circle cx="59.3" cy="246" r="2.1" fill="#cc0a2e"/>
<circle cx="64" cy="247.3" r="2.1" fill="#cc0a2e"/>
<circle cx="60.9" cy="249.2" r="2.1" fill="#cc0a2e"/>
<circle cx="56" cy="260" r="2.1" fill="#cc0a2e"/>
<circle cx="64.5" cy="260" r="2.1" fill="#cc0a2e"/>
<circle cx="55.8" cy="263.5" r="2.1" fill="#cc0a2e"/>
<circle cx="61" cy="263.5" r="2.1" fill="#cc0a2e"/>
<circle cx="65.6" cy="264.3" r="2.1" fill="#cc0a2e"/>
<circle cx="57" cy="266.7" r="2.1" fill="#cc0a2e"/>
<circle cx="62.5" cy="266.7" r="2.1" fill="#cc0a2e"/>
<circle cx="56" cy="269.5" r="2.1" fill="#cc0a2e"/>
<circle cx="65.6" cy="269.5" r="2.1" fill="#cc0a2e"/>
<circle cx="61" cy="270.6" r="2.1" fill="#cc0a2e"/>
<circle cx="58" cy="258" r="2.1" fill="#cc0a2e"/>
<circle cx="63" cy="256.5" r="2.1" fill="#cc0a2e"/>
<circle cx="66" cy="262" r="2.1" fill="#cc0a2e"/>
<circle cx="76" cy="271" r="2.1" fill="#0b4a8e"/>
<circle cx="78.5" cy="270" r="2.1" fill="#0b4a8e"/>
<circle cx="81" cy="269.5" r="2.1" fill="#0b4a8e"/>
<circle cx="83.5" cy="270" r="2.1" fill="#0b4a8e"/>
<circle cx="86" cy="270.5" r="2.1" fill="#0b4a8e"/>
<circle cx="79" cy="271.5" r="2.1" fill="#0b4a8e"/>
<circle cx="84" cy="271.8" r="2.1" fill="#0b4a8e"/>
<circle cx="81.5" cy="271.5" r="2.1" fill="#0b4a8e"/>
<circle cx="77.5" cy="272" r="2.1" fill="#0b4a8e"/>
<circle cx="86.5" cy="272" r="2.1" fill="#0b4a8e"/>
<circle cx="101.8" cy="247.6" r="2.1" fill="#1eaa2d"/>
<circle cx="101.8" cy="250.8" r="2.1" fill="#1eaa2d"/>
<circle cx="101.8" cy="254.8" r="2.1" fill="#1eaa2d"/>
<circle cx="101.8" cy="262.2" r="2.1" fill="#1eaa2d"/>
<circle cx="97.5" cy="267" r="2.1" fill="#1eaa2d"/>
<circle cx="101" cy="266.5" r="2.1" fill="#1eaa2d"/>
<circle cx="105.5" cy="267" r="2.1" fill="#1eaa2d"/>
<circle cx="98" cy="270" r="2.1" fill="#1eaa2d"/>
<circle cx="102" cy="270.5" r="2.1" fill="#1eaa2d"/>
<circle cx="106" cy="270" r="2.1" fill="#1eaa2d"/>
<circle cx="100" cy="272" r="2.1" fill="#1eaa2d"/>
<circle cx="104" cy="272" r="2.1" fill="#1eaa2d"/>
<circle cx="191" cy="200.9" r="2.1" fill="#cc0a2e"/>
<circle cx="193.5" cy="199.4" r="2.1" fill="#cc0a2e"/>
<circle cx="191" cy="222.8" r="2.1" fill="#cc0a2e"/>
<circle cx="193.5" cy="222.8" r="2.1" fill="#cc0a2e"/>
<circle cx="187" cy="245.6" r="2.1" fill="#cc0a2e"/>
<circle cx="190.3" cy="245.6" r="2.1" fill="#cc0a2e"/>
<circle cx="194.5" cy="245.6" r="2.1" fill="#cc0a2e"/>
<circle cx="198" cy="245.6" r="2.1" fill="#cc0a2e"/>
<circle cx="187.5" cy="252.3" r="2.1" fill="#cc0a2e"/>
<circle cx="192.3" cy="252.3" r="2.1" fill="#cc0a2e"/>
<circle cx="195.5" cy="253" r="2.1" fill="#cc0a2e"/>
<circle cx="191.5" cy="256.6" r="2.1" fill="#cc0a2e"/>
<circle cx="195" cy="257.3" r="2.1" fill="#cc0a2e"/>
<circle cx="188" cy="259" r="2.1" fill="#cc0a2e"/>
<circle cx="192.3" cy="263.3" r="2.1" fill="#cc0a2e"/>
<circle cx="191.5" cy="266" r="2.1" fill="#cc0a2e"/>
<circle cx="194" cy="266.7" r="2.1" fill="#cc0a2e"/>
<circle cx="189" cy="268" r="2.1" fill="#cc0a2e"/>
<circle cx="214.1" cy="248.6" r="2.1" fill="#0b4a8e"/>
<circle cx="214.1" cy="251.5" r="2.1" fill="#0b4a8e"/>
<circle cx="214.1" cy="254.9" r="2.1" fill="#0b4a8e"/>
<circle cx="214.1" cy="264.1" r="2.1" fill="#0b4a8e"/>
<circle cx="209" cy="270.5" r="2.1" fill="#0b4a8e"/>
<circle cx="212" cy="270" r="2.1" fill="#0b4a8e"/>
<circle cx="215" cy="270.5" r="2.1" fill="#0b4a8e"/>
<circle cx="218" cy="270" r="2.1" fill="#0b4a8e"/>
<circle cx="221" cy="270.5" r="2.1" fill="#0b4a8e"/>
<circle cx="210.5" cy="272" r="2.1" fill="#0b4a8e"/>
<circle cx="216.5" cy="272" r="2.1" fill="#0b4a8e"/>
<circle cx="219.5" cy="272" r="2.1" fill="#0b4a8e"/>
<circle cx="235.7" cy="251.5" r="2.1" fill="#1eaa2d"/>
<circle cx="235.7" cy="256.6" r="2.1" fill="#1eaa2d"/>
<circle cx="235.7" cy="261.6" r="2.1" fill="#1eaa2d"/>
<circle cx="232" cy="266" r="2.1" fill="#1eaa2d"/>
<circle cx="236" cy="266.5" r="2.1" fill="#1eaa2d"/>
<circle cx="239.5" cy="266" r="2.1" fill="#1eaa2d"/>
<circle cx="230" cy="269.5" r="2.1" fill="#1eaa2d"/>
<circle cx="233.5" cy="270" r="2.1" fill="#1eaa2d"/>
<circle cx="237.5" cy="270" r="2.1" fill="#1eaa2d"/>
<circle cx="241" cy="269.5" r="2.1" fill="#1eaa2d"/>
<circle cx="235.7" cy="271.5" r="2.1" fill="#1eaa2d"/>
<circle cx="328.4" cy="202.6" r="2.1" fill="#cc0a2e"/>
<circle cx="326.3" cy="218.3" r="2.1" fill="#cc0a2e"/>
<circle cx="330.2" cy="221.1" r="2.1" fill="#cc0a2e"/>
<circle cx="326.3" cy="236.3" r="2.1" fill="#cc0a2e"/>
<circle cx="330.2" cy="236.8" r="2.1" fill="#cc0a2e"/>
<circle cx="333.6" cy="235.1" r="2.1" fill="#cc0a2e"/>
<circle cx="323" cy="243.1" r="2.1" fill="#cc0a2e"/>
<circle cx="333.6" cy="240.2" r="2.1" fill="#cc0a2e"/>
<circle cx="330.5" cy="245.3" r="2.1" fill="#cc0a2e"/>
<circle cx="333.8" cy="245.3" r="2.1" fill="#cc0a2e"/>
<circle cx="323" cy="250" r="2.1" fill="#cc0a2e"/>
<circle cx="327.2" cy="250.8" r="2.1" fill="#cc0a2e"/>
<circle cx="331.3" cy="249.2" r="2.1" fill="#cc0a2e"/>
<circle cx="333.6" cy="253.3" r="2.1" fill="#cc0a2e"/>
<circle cx="323" cy="255" r="2.1" fill="#cc0a2e"/>
<circle cx="328.8" cy="254.5" r="2.1" fill="#cc0a2e"/>
<circle cx="333" cy="255" r="2.1" fill="#cc0a2e"/>
<circle cx="323.8" cy="258.5" r="2.1" fill="#cc0a2e"/>
<circle cx="330.5" cy="258.5" r="2.1" fill="#cc0a2e"/>
<circle cx="323" cy="263.8" r="2.1" fill="#cc0a2e"/>
<circle cx="328.4" cy="263.8" r="2.1" fill="#cc0a2e"/>
<circle cx="333.6" cy="263.8" r="2.1" fill="#cc0a2e"/>
<circle cx="348.3" cy="265.8" r="2.1" fill="#0b4a8e"/>
<circle cx="348.3" cy="269.2" r="2.1" fill="#0b4a8e"/>
<circle cx="343" cy="271" r="2.1" fill="#0b4a8e"/>
<circle cx="346" cy="271.3" r="2.1" fill="#0b4a8e"/>
<circle cx="349" cy="270.6" r="2.1" fill="#0b4a8e"/>
<circle cx="352" cy="271" r="2.1" fill="#0b4a8e"/>
<circle cx="355" cy="271.3" r="2.1" fill="#0b4a8e"/>
<circle cx="345" cy="272.4" r="2.1" fill="#0b4a8e"/>
<circle cx="351" cy="272.4" r="2.1" fill="#0b4a8e"/>
<circle cx="368.8" cy="231.3" r="2.1" fill="#1eaa2d"/>
<circle cx="368.8" cy="235.5" r="2.1" fill="#1eaa2d"/>
<circle cx="368.8" cy="242.6" r="2.1" fill="#1eaa2d"/>
<circle cx="369.2" cy="258.2" r="2.1" fill="#1eaa2d"/>
<circle cx="366" cy="263.5" r="2.1" fill="#1eaa2d"/>
<circle cx="371" cy="263.5" r="2.1" fill="#1eaa2d"/>
<circle cx="364" cy="267" r="2.1" fill="#1eaa2d"/>
<circle cx="368" cy="267.5" r="2.1" fill="#1eaa2d"/>
<circle cx="372" cy="267" r="2.1" fill="#1eaa2d"/>
<circle cx="363.5" cy="270.5" r="2.1" fill="#1eaa2d"/>
<circle cx="367" cy="271" r="2.1" fill="#1eaa2d"/>
<circle cx="371" cy="270.5" r="2.1" fill="#1eaa2d"/>
<circle cx="374" cy="271" r="2.1" fill="#1eaa2d"/>
<circle cx="459.7" cy="203.7" r="2.1" fill="#cc0a2e"/>
<circle cx="459.7" cy="242.5" r="2.1" fill="#cc0a2e"/>
<circle cx="459.7" cy="248.5" r="2.1" fill="#cc0a2e"/>
<circle cx="456.3" cy="256.9" r="2.1" fill="#cc0a2e"/>
<circle cx="463.3" cy="256.9" r="2.1" fill="#cc0a2e"/>
<circle cx="458" cy="259.2" r="2.1" fill="#cc0a2e"/>
<circle cx="461.5" cy="259.2" r="2.1" fill="#cc0a2e"/>
<circle cx="459.8" cy="261.5" r="2.1" fill="#cc0a2e"/>
<circle cx="458" cy="264.2" r="2.1" fill="#cc0a2e"/>
<circle cx="461.5" cy="264.2" r="2.1" fill="#cc0a2e"/>
<circle cx="456.5" cy="267.2" r="2.1" fill="#cc0a2e"/>
<circle cx="463" cy="267.2" r="2.1" fill="#cc0a2e"/>
<circle cx="455.2" cy="270.3" r="2.1" fill="#cc0a2e"/>
<circle cx="464.4" cy="270.3" r="2.1" fill="#cc0a2e"/>
<circle cx="459.8" cy="270.5" r="2.1" fill="#cc0a2e"/>
<circle cx="479.8" cy="265.6" r="2.1" fill="#0b4a8e"/>
<circle cx="479.8" cy="267.9" r="2.1" fill="#0b4a8e"/>
<circle cx="475" cy="270.9" r="2.1" fill="#0b4a8e"/>
<circle cx="477.6" cy="270.5" r="2.1" fill="#0b4a8e"/>
<circle cx="482" cy="270.5" r="2.1" fill="#0b4a8e"/>
<circle cx="484.6" cy="270.9" r="2.1" fill="#0b4a8e"/>
<circle cx="499.6" cy="244.3" r="2.1" fill="#1eaa2d"/>
<circle cx="498.8" cy="249.6" r="2.1" fill="#1eaa2d"/>
<circle cx="501" cy="248.5" r="2.1" fill="#1eaa2d"/>
<circle cx="496.3" cy="253.8" r="2.1" fill="#1eaa2d"/>
<circle cx="503.2" cy="252.7" r="2.1" fill="#1eaa2d"/>
<circle cx="497.9" cy="255.4" r="2.1" fill="#1eaa2d"/>
<circle cx="502.1" cy="254.3" r="2.1" fill="#1eaa2d"/>
<circle cx="499" cy="257.4" r="2.1" fill="#1eaa2d"/>
<circle cx="499.6" cy="260.4" r="2.1" fill="#1eaa2d"/>
<circle cx="495" cy="266.5" r="2.1" fill="#1eaa2d"/>
<circle cx="498.5" cy="267.5" r="2.1" fill="#1eaa2d"/>
<circle cx="502.5" cy="268" r="2.1" fill="#1eaa2d"/>
<circle cx="505.5" cy="268.5" r="2.1" fill="#1eaa2d"/>
<circle cx="494.5" cy="270.5" r="2.1" fill="#1eaa2d"/>
<circle cx="497.5" cy="271" r="2.1" fill="#1eaa2d"/>
<circle cx="501" cy="270.8" r="2.1" fill="#1eaa2d"/>
<circle cx="504.5" cy="271" r="2.1" fill="#1eaa2d"/>
<circle cx="68.7" cy="377.9" r="2.1" fill="#cc0a2e"/>
<circle cx="61.8" cy="387.7" r="2.1" fill="#cc0a2e"/>
<circle cx="66.1" cy="387.2" r="2.1" fill="#cc0a2e"/>
<circle cx="70.8" cy="387.7" r="2.1" fill="#cc0a2e"/>
<circle cx="76" cy="385.1" r="2.1" fill="#cc0a2e"/>
<circle cx="65.6" cy="394.7" r="2.1" fill="#cc0a2e"/>
<circle cx="71.3" cy="394.7" r="2.1" fill="#cc0a2e"/>
<circle cx="67" cy="398" r="2.1" fill="#cc0a2e"/>
<circle cx="71" cy="398" r="2.1" fill="#cc0a2e"/>
<circle cx="65.6" cy="401.9" r="2.1" fill="#cc0a2e"/>
<circle cx="87.2" cy="449.8" r="2.1" fill="#0b4a8e"/>
<circle cx="94.1" cy="447.6" r="2.1" fill="#0b4a8e"/>
<circle cx="101" cy="446.4" r="2.1" fill="#0b4a8e"/>
<circle cx="101" cy="450.5" r="2.1" fill="#0b4a8e"/>
<circle cx="90.6" cy="456.9" r="2.1" fill="#0b4a8e"/>
<circle cx="97.5" cy="455.5" r="2.1" fill="#0b4a8e"/>
<circle cx="112.6" cy="417.4" r="2.1" fill="#1eaa2d"/>
<circle cx="119.8" cy="416.9" r="2.1" fill="#1eaa2d"/>
<circle cx="127" cy="415.3" r="2.1" fill="#1eaa2d"/>
<circle cx="127" cy="418.7" r="2.1" fill="#1eaa2d"/>
<circle cx="119.8" cy="422" r="2.1" fill="#1eaa2d"/>
<circle cx="119.8" cy="435.8" r="2.1" fill="#1eaa2d"/>
<circle cx="194.5" cy="367.6" r="2.1" fill="#cc0a2e"/>
<circle cx="194.5" cy="383.3" r="2.1" fill="#cc0a2e"/>
<circle cx="191.2" cy="387" r="2.1" fill="#cc0a2e"/>
<circle cx="198.4" cy="387" r="2.1" fill="#cc0a2e"/>
<circle cx="194.5" cy="392.9" r="2.1" fill="#cc0a2e"/>
<circle cx="191.2" cy="398" r="2.1" fill="#cc0a2e"/>
<circle cx="198.4" cy="398" r="2.1" fill="#cc0a2e"/>
<circle cx="194.5" cy="401.1" r="2.1" fill="#cc0a2e"/>
<circle cx="197" cy="405" r="2.1" fill="#cc0a2e"/>
<circle cx="194.5" cy="419.4" r="2.1" fill="#cc0a2e"/>
<circle cx="212" cy="457.8" r="2.1" fill="#0b4a8e"/>
<circle cx="215" cy="458.5" r="2.1" fill="#0b4a8e"/>
<circle cx="218" cy="458" r="2.1" fill="#0b4a8e"/>
<circle cx="221" cy="458.5" r="2.1" fill="#0b4a8e"/>
<circle cx="224.5" cy="457.5" r="2.1" fill="#0b4a8e"/>
<circle cx="214" cy="459.5" r="2.1" fill="#0b4a8e"/>
<circle cx="220" cy="459.5" r="2.1" fill="#0b4a8e"/>
<circle cx="226" cy="459" r="2.1" fill="#0b4a8e"/>
<circle cx="243.5" cy="402.7" r="2.1" fill="#1eaa2d"/>
<circle cx="239.8" cy="445.2" r="2.1" fill="#1eaa2d"/>
<circle cx="247.2" cy="445.2" r="2.1" fill="#1eaa2d"/>
<circle cx="239.8" cy="449.6" r="2.1" fill="#1eaa2d"/>
<circle cx="247.2" cy="449.2" r="2.1" fill="#1eaa2d"/>
<circle cx="243.5" cy="447" r="2.1" fill="#1eaa2d"/>
<circle cx="311.8" cy="370.4" r="2.1" fill="#cc0a2e"/>
<circle cx="317.7" cy="368.9" r="2.1" fill="#cc0a2e"/>
<circle cx="314.3" cy="374.8" r="2.1" fill="#cc0a2e"/>
<circle cx="309.5" cy="386" r="2.1" fill="#cc0a2e"/>
<circle cx="317" cy="383.5" r="2.1" fill="#cc0a2e"/>
<circle cx="314.3" cy="387.5" r="2.1" fill="#cc0a2e"/>
<circle cx="310" cy="394.5" r="2.1" fill="#cc0a2e"/>
<circle cx="317.7" cy="393.5" r="2.1" fill="#cc0a2e"/>
<circle cx="313.5" cy="397.5" r="2.1" fill="#cc0a2e"/>
<circle cx="317.7" cy="399" r="2.1" fill="#cc0a2e"/>
<circle cx="311" cy="401.9" r="2.1" fill="#cc0a2e"/>
<circle cx="338.8" cy="450.4" r="2.1" fill="#0b4a8e"/>
<circle cx="332.5" cy="455.6" r="2.1" fill="#0b4a8e"/>
<circle cx="338.8" cy="455.6" r="2.1" fill="#0b4a8e"/>
<circle cx="345" cy="455" r="2.1" fill="#0b4a8e"/>
<circle cx="332.5" cy="459.2" r="2.1" fill="#0b4a8e"/>
<circle cx="338.8" cy="459.2" r="2.1" fill="#0b4a8e"/>
<circle cx="345" cy="459.2" r="2.1" fill="#0b4a8e"/>
<circle cx="363.4" cy="403.2" r="2.1" fill="#1eaa2d"/>
<circle cx="363.4" cy="420" r="2.1" fill="#1eaa2d"/>
<circle cx="363.4" cy="439.3" r="2.1" fill="#1eaa2d"/>
<circle cx="363.4" cy="456.8" r="2.1" fill="#1eaa2d"/>
<circle cx="448.7" cy="385.9" r="2.1" fill="#cc0a2e"/>
<circle cx="448.7" cy="394.2" r="2.1" fill="#cc0a2e"/>
<circle cx="448.7" cy="407.8" r="2.1" fill="#cc0a2e"/>
<circle cx="443.5" cy="417.4" r="2.1" fill="#cc0a2e"/>
<circle cx="448.7" cy="416.9" r="2.1" fill="#cc0a2e"/>
<circle cx="455.4" cy="417.9" r="2.1" fill="#cc0a2e"/>
<circle cx="443.5" cy="425" r="2.1" fill="#cc0a2e"/>
<circle cx="448.7" cy="427.7" r="2.1" fill="#cc0a2e"/>
<circle cx="455.4" cy="425" r="2.1" fill="#cc0a2e"/>
<circle cx="443.5" cy="431.6" r="2.1" fill="#cc0a2e"/>
<circle cx="453.4" cy="431.6" r="2.1" fill="#cc0a2e"/>
<circle cx="445.6" cy="438" r="2.1" fill="#cc0a2e"/>
<circle cx="452" cy="438" r="2.1" fill="#cc0a2e"/>
<circle cx="443.5" cy="443.2" r="2.1" fill="#cc0a2e"/>
<circle cx="452" cy="443.2" r="2.1" fill="#cc0a2e"/>
<circle cx="474.3" cy="407.8" r="2.1" fill="#0b4a8e"/>
<circle cx="474.3" cy="431.6" r="2.1" fill="#0b4a8e"/>
<circle cx="470.5" cy="443.2" r="2.1" fill="#0b4a8e"/>
<circle cx="477" cy="443.2" r="2.1" fill="#0b4a8e"/>
<circle cx="468" cy="447" r="2.1" fill="#0b4a8e"/>
<circle cx="472" cy="447.5" r="2.1" fill="#0b4a8e"/>
<circle cx="476" cy="447" r="2.1" fill="#0b4a8e"/>
<circle cx="480" cy="446.5" r="2.1" fill="#0b4a8e"/>
<circle cx="469" cy="451" r="2.1" fill="#0b4a8e"/>
<circle cx="473" cy="451.5" r="2.1" fill="#0b4a8e"/>
<circle cx="477.5" cy="451" r="2.1" fill="#0b4a8e"/>
<circle cx="481" cy="450.5" r="2.1" fill="#0b4a8e"/>
<circle cx="467.5" cy="455" r="2.1" fill="#0b4a8e"/>
<circle cx="471" cy="455.5" r="2.1" fill="#0b4a8e"/>
<circle cx="475" cy="455" r="2.1" fill="#0b4a8e"/>
<circle cx="479" cy="455.5" r="2.1" fill="#0b4a8e"/>
<circle cx="482" cy="455" r="2.1" fill="#0b4a8e"/>
<circle cx="469.5" cy="458.5" r="2.1" fill="#0b4a8e"/>
<circle cx="473.5" cy="458.5" r="2.1" fill="#0b4a8e"/>
<circle cx="477.5" cy="458.5" r="2.1" fill="#0b4a8e"/>
<circle cx="481" cy="458.5" r="2.1" fill="#0b4a8e"/>
<circle cx="499.8" cy="381.3" r="2.1" fill="#1eaa2d"/>
<circle cx="499.8" cy="393.6" r="2.1" fill="#1eaa2d"/>
<circle cx="496" cy="398.8" r="2.1" fill="#1eaa2d"/>
<circle cx="502" cy="398.8" r="2.1" fill="#1eaa2d"/>
<circle cx="499.8" cy="410.2" r="2.1" fill="#1eaa2d"/>
<circle cx="494" cy="430.3" r="2.1" fill="#1eaa2d"/>
<circle cx="502" cy="430.3" r="2.1" fill="#1eaa2d"/>
<circle cx="494.5" cy="436" r="2.1" fill="#1eaa2d"/>
<circle cx="500" cy="436" r="2.1" fill="#1eaa2d"/>
<circle cx="505" cy="435.5" r="2.1" fill="#1eaa2d"/>
<circle cx="493.5" cy="441" r="2.1" fill="#1eaa2d"/>
<circle cx="498.5" cy="441.5" r="2.1" fill="#1eaa2d"/>
<circle cx="505" cy="441" r="2.1" fill="#1eaa2d"/>
<circle cx="495.5" cy="446.5" r="2.1" fill="#1eaa2d"/>
<circle cx="501" cy="446.5" r="2.1" fill="#1eaa2d"/>
<circle cx="506" cy="446" r="2.1" fill="#1eaa2d"/>
<circle cx="494" cy="452" r="2.1" fill="#1eaa2d"/>
<circle cx="499" cy="452" r="2.1" fill="#1eaa2d"/>
<circle cx="505" cy="451.5" r="2.1" fill="#1eaa2d"/>
<circle cx="496" cy="457.5" r="2.1" fill="#1eaa2d"/>
<circle cx="502" cy="457.5" r="2.1" fill="#1eaa2d"/>
<rect x="0.5" y="0.5" width="519" height="503" fill="none" stroke="#000" stroke-width="1"/>
</svg></body></html>
